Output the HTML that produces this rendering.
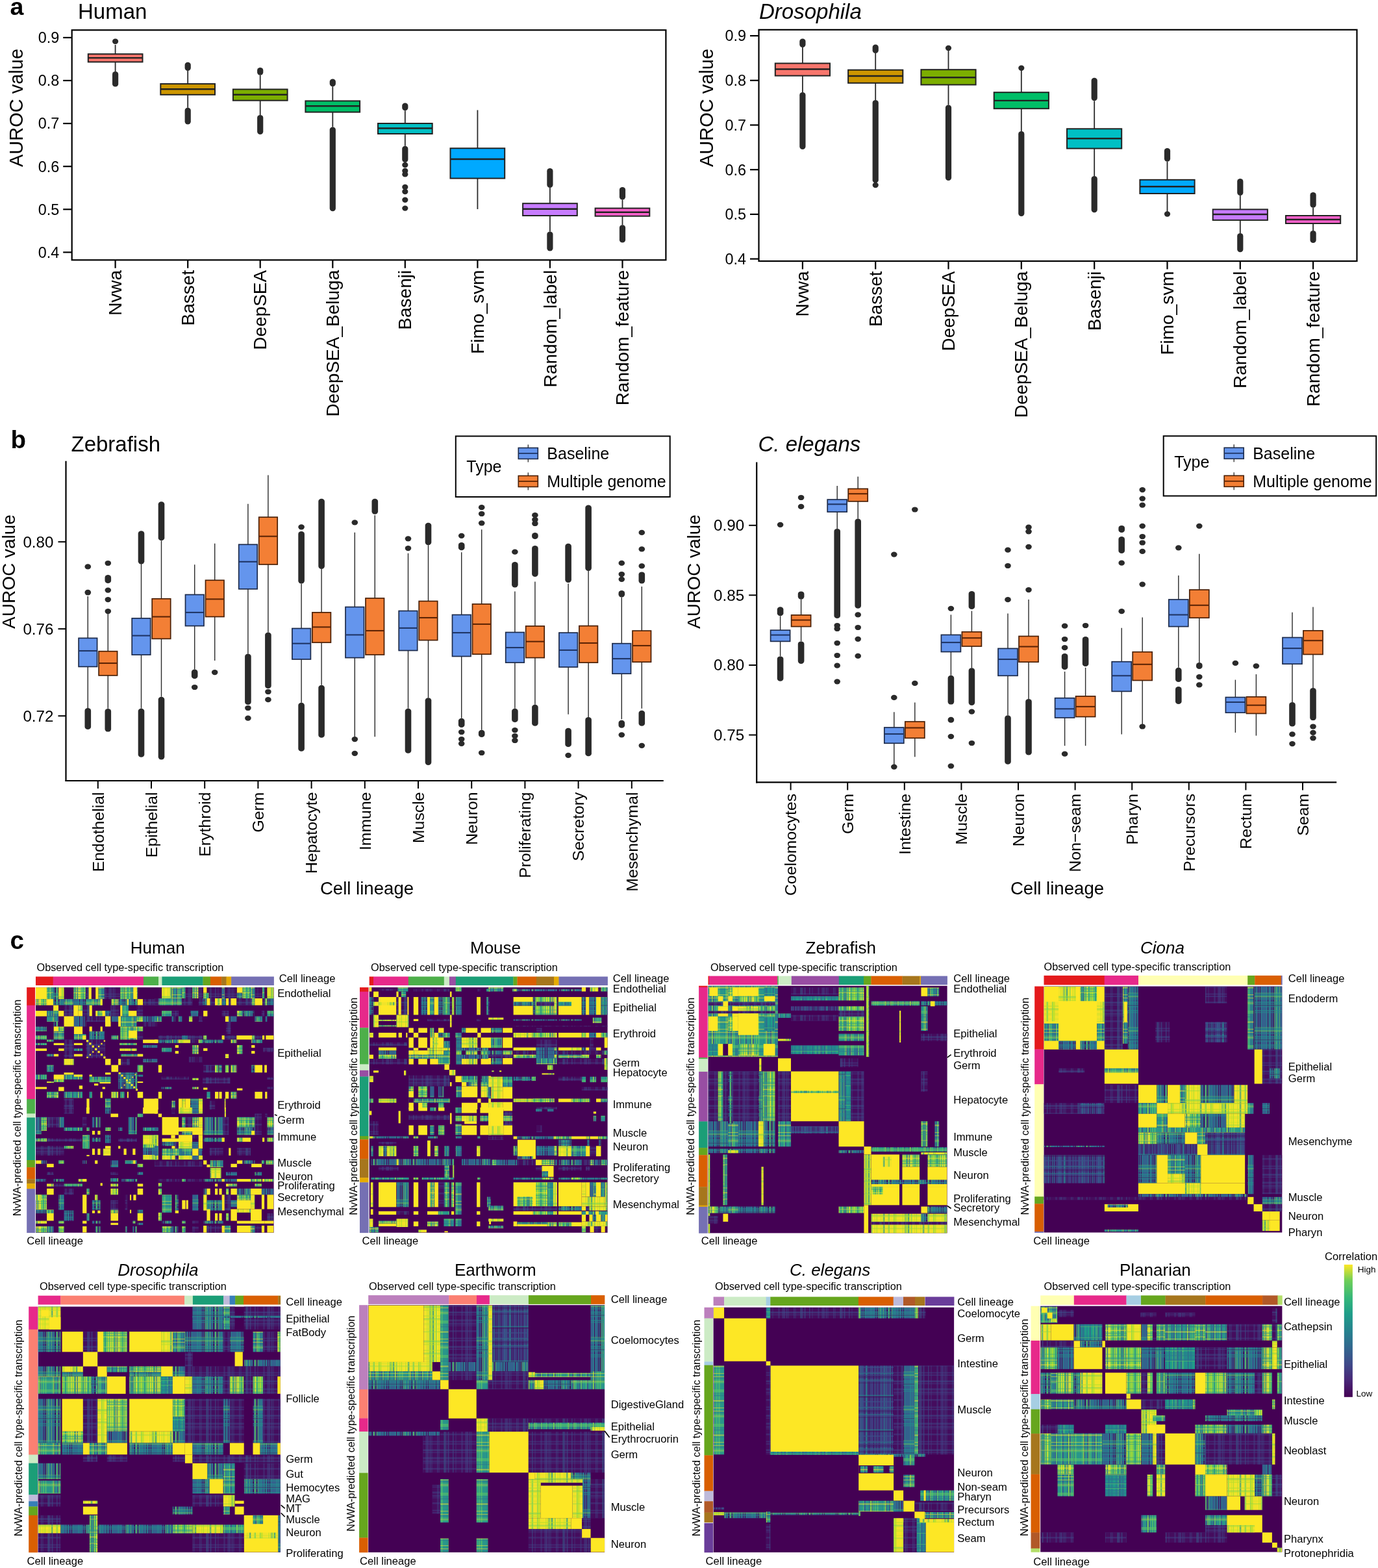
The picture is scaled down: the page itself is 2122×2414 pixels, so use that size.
<!DOCTYPE html>
<html><head><meta charset="utf-8"><title>Figure</title>
<style>html,body{margin:0;padding:0;background:#fff;} svg{display:block;} text{font-family:'Liberation Sans', Arial, sans-serif;}</style>
</head><body>
<svg width="2122" height="2414" viewBox="0 0 2122 2414" font-family="'Liberation Sans', Arial, sans-serif">
<rect x="0" y="0" width="2122" height="2414" fill="#fff"/>
<rect x="110.7" y="46.3" width="914.7" height="354.0" fill="none" stroke="#000" stroke-width="2.2"/>
<line x1="97.2" y1="388.4" x2="110.7" y2="388.4" stroke="#000" stroke-width="2.2"/>
<text x="91.2" y="396.7" font-size="23.4" text-anchor="end">0.4</text>
<line x1="97.2" y1="322.3" x2="110.7" y2="322.3" stroke="#000" stroke-width="2.2"/>
<text x="91.2" y="330.6" font-size="23.4" text-anchor="end">0.5</text>
<line x1="97.2" y1="256.2" x2="110.7" y2="256.2" stroke="#000" stroke-width="2.2"/>
<text x="91.2" y="264.5" font-size="23.4" text-anchor="end">0.6</text>
<line x1="97.2" y1="190.1" x2="110.7" y2="190.1" stroke="#000" stroke-width="2.2"/>
<text x="91.2" y="198.4" font-size="23.4" text-anchor="end">0.7</text>
<line x1="97.2" y1="124.0" x2="110.7" y2="124.0" stroke="#000" stroke-width="2.2"/>
<text x="91.2" y="132.3" font-size="23.4" text-anchor="end">0.8</text>
<line x1="97.2" y1="57.9" x2="110.7" y2="57.9" stroke="#000" stroke-width="2.2"/>
<text x="91.2" y="66.2" font-size="23.4" text-anchor="end">0.9</text>
<ellipse cx="177.6" cy="63.8" rx="4.6" ry="4.2" fill="#2a2a2a"/>
<rect x="173.0" y="110.0" width="9.2" height="23.6" rx="4.6" ry="4.2" fill="#2a2a2a"/>
<line x1="177.6" y1="69.0" x2="177.6" y2="83.2" stroke="#2a2a2a" stroke-width="1.8"/>
<line x1="177.6" y1="95.4" x2="177.6" y2="110.0" stroke="#2a2a2a" stroke-width="1.8"/>
<rect x="135.8" y="83.2" width="83.7" height="12.2" fill="#F8766D" stroke="#222" stroke-width="2.0"/>
<line x1="135.8" y1="89.1" x2="219.5" y2="89.1" stroke="#222" stroke-width="2.4"/>
<line x1="177.6" y1="400.3" x2="177.6" y2="412.8" stroke="#000" stroke-width="2.2"/>
<text x="187.2" y="415.8" font-size="28" text-anchor="end" transform="rotate(-90 187.22926829268292 415.8)">Nvwa</text>
<rect x="284.6" y="95.7" width="9.2" height="13.3" rx="4.6" ry="4.2" fill="#2a2a2a"/>
<rect x="284.6" y="165.8" width="9.2" height="25.6" rx="4.6" ry="4.2" fill="#2a2a2a"/>
<line x1="289.2" y1="109.0" x2="289.2" y2="129.1" stroke="#2a2a2a" stroke-width="1.8"/>
<line x1="289.2" y1="145.8" x2="289.2" y2="165.8" stroke="#2a2a2a" stroke-width="1.8"/>
<rect x="247.3" y="129.1" width="83.7" height="16.7" fill="#CD9600" stroke="#222" stroke-width="2.0"/>
<line x1="247.3" y1="137.3" x2="331.0" y2="137.3" stroke="#222" stroke-width="2.4"/>
<line x1="289.2" y1="400.3" x2="289.2" y2="412.8" stroke="#000" stroke-width="2.2"/>
<text x="298.8" y="415.8" font-size="28" text-anchor="end" transform="rotate(-90 298.77804878048784 415.8)">Basset</text>
<rect x="396.1" y="104.0" width="9.2" height="11.7" rx="4.6" ry="4.2" fill="#2a2a2a"/>
<rect x="396.1" y="177.0" width="9.2" height="30.0" rx="4.6" ry="4.2" fill="#2a2a2a"/>
<line x1="400.7" y1="115.7" x2="400.7" y2="137.5" stroke="#2a2a2a" stroke-width="1.8"/>
<line x1="400.7" y1="154.7" x2="400.7" y2="177.0" stroke="#2a2a2a" stroke-width="1.8"/>
<rect x="358.9" y="137.5" width="83.7" height="17.2" fill="#7CAE00" stroke="#222" stroke-width="2.0"/>
<line x1="358.9" y1="145.7" x2="442.6" y2="145.7" stroke="#222" stroke-width="2.4"/>
<line x1="400.7" y1="400.3" x2="400.7" y2="412.8" stroke="#000" stroke-width="2.2"/>
<text x="410.3" y="415.8" font-size="28" text-anchor="end" transform="rotate(-90 410.3268292682927 415.8)">DeepSEA</text>
<rect x="507.7" y="121.5" width="9.2" height="11.7" rx="4.6" ry="4.2" fill="#2a2a2a"/>
<rect x="507.7" y="195.6" width="9.2" height="129.7" rx="4.6" ry="4.2" fill="#2a2a2a"/>
<line x1="512.3" y1="133.2" x2="512.3" y2="155.4" stroke="#2a2a2a" stroke-width="1.8"/>
<line x1="512.3" y1="172.6" x2="512.3" y2="195.6" stroke="#2a2a2a" stroke-width="1.8"/>
<rect x="470.4" y="155.4" width="83.7" height="17.2" fill="#00BE67" stroke="#222" stroke-width="2.0"/>
<line x1="470.4" y1="163.2" x2="554.1" y2="163.2" stroke="#222" stroke-width="2.4"/>
<line x1="512.3" y1="400.3" x2="512.3" y2="412.8" stroke="#000" stroke-width="2.2"/>
<text x="521.9" y="415.8" font-size="28" text-anchor="end" transform="rotate(-90 521.8756097560977 415.8)">DeepSEA_Beluga</text>
<rect x="619.2" y="158.6" width="9.2" height="11.6" rx="4.6" ry="4.2" fill="#2a2a2a"/>
<rect x="619.2" y="224.8" width="9.2" height="25.2" rx="4.6" ry="4.2" fill="#2a2a2a"/>
<ellipse cx="623.8" cy="254.0" rx="4.6" ry="4.2" fill="#2a2a2a"/>
<ellipse cx="623.8" cy="263.0" rx="4.6" ry="4.2" fill="#2a2a2a"/>
<ellipse cx="623.8" cy="268.4" rx="4.6" ry="4.2" fill="#2a2a2a"/>
<ellipse cx="623.8" cy="288.0" rx="4.6" ry="4.2" fill="#2a2a2a"/>
<ellipse cx="623.8" cy="295.0" rx="4.6" ry="4.2" fill="#2a2a2a"/>
<ellipse cx="623.8" cy="307.8" rx="4.6" ry="4.2" fill="#2a2a2a"/>
<ellipse cx="623.8" cy="320.6" rx="4.6" ry="4.2" fill="#2a2a2a"/>
<line x1="623.8" y1="170.2" x2="623.8" y2="190.0" stroke="#2a2a2a" stroke-width="1.8"/>
<line x1="623.8" y1="206.0" x2="623.8" y2="224.8" stroke="#2a2a2a" stroke-width="1.8"/>
<rect x="582.0" y="190.0" width="83.7" height="16.0" fill="#00BFC4" stroke="#222" stroke-width="2.0"/>
<line x1="582.0" y1="197.5" x2="665.7" y2="197.5" stroke="#222" stroke-width="2.4"/>
<line x1="623.8" y1="400.3" x2="623.8" y2="412.8" stroke="#000" stroke-width="2.2"/>
<text x="633.4" y="415.8" font-size="28" text-anchor="end" transform="rotate(-90 633.4243902439025 415.8)">Basenji</text>
<line x1="735.4" y1="169.5" x2="735.4" y2="228.3" stroke="#2a2a2a" stroke-width="1.8"/>
<line x1="735.4" y1="274.6" x2="735.4" y2="322.0" stroke="#2a2a2a" stroke-width="1.8"/>
<rect x="693.5" y="228.3" width="83.7" height="46.3" fill="#00A9FF" stroke="#222" stroke-width="2.0"/>
<line x1="693.5" y1="245.0" x2="777.2" y2="245.0" stroke="#222" stroke-width="2.4"/>
<line x1="735.4" y1="400.3" x2="735.4" y2="412.8" stroke="#000" stroke-width="2.2"/>
<text x="745.0" y="415.8" font-size="28" text-anchor="end" transform="rotate(-90 744.9731707317075 415.8)">Fimo_svm</text>
<rect x="842.3" y="259.0" width="9.2" height="30.0" rx="4.6" ry="4.2" fill="#2a2a2a"/>
<rect x="842.3" y="356.5" width="9.2" height="29.9" rx="4.6" ry="4.2" fill="#2a2a2a"/>
<line x1="846.9" y1="289.0" x2="846.9" y2="313.2" stroke="#2a2a2a" stroke-width="1.8"/>
<line x1="846.9" y1="332.0" x2="846.9" y2="356.5" stroke="#2a2a2a" stroke-width="1.8"/>
<rect x="805.1" y="313.2" width="83.7" height="18.8" fill="#C77CFF" stroke="#222" stroke-width="2.0"/>
<line x1="805.1" y1="321.8" x2="888.8" y2="321.8" stroke="#222" stroke-width="2.4"/>
<line x1="846.9" y1="400.3" x2="846.9" y2="412.8" stroke="#000" stroke-width="2.2"/>
<text x="856.5" y="415.8" font-size="28" text-anchor="end" transform="rotate(-90 856.5219512195123 415.8)">Random_label</text>
<rect x="953.9" y="288.0" width="9.2" height="19.4" rx="4.6" ry="4.2" fill="#2a2a2a"/>
<rect x="953.9" y="346.3" width="9.2" height="27.3" rx="4.6" ry="4.2" fill="#2a2a2a"/>
<line x1="958.5" y1="307.4" x2="958.5" y2="320.6" stroke="#2a2a2a" stroke-width="1.8"/>
<line x1="958.5" y1="332.7" x2="958.5" y2="346.3" stroke="#2a2a2a" stroke-width="1.8"/>
<rect x="916.6" y="320.6" width="83.7" height="12.1" fill="#FF61CC" stroke="#222" stroke-width="2.0"/>
<line x1="916.6" y1="326.8" x2="1000.3" y2="326.8" stroke="#222" stroke-width="2.4"/>
<line x1="958.5" y1="400.3" x2="958.5" y2="412.8" stroke="#000" stroke-width="2.2"/>
<text x="968.1" y="415.8" font-size="28" text-anchor="end" transform="rotate(-90 968.0707317073172 415.8)">Random_feature</text>
<text x="120.0" y="28.9" font-size="33">Human</text>
<text x="34.5" y="166.0" font-size="29" text-anchor="middle" transform="rotate(-90 34.5 166)">AUROC value</text>
<rect x="1168.5" y="45.8" width="921.0" height="356.2" fill="none" stroke="#000" stroke-width="2.2"/>
<line x1="1155.0" y1="398.6" x2="1168.5" y2="398.6" stroke="#000" stroke-width="2.2"/>
<text x="1149.0" y="406.9" font-size="23.4" text-anchor="end">0.4</text>
<line x1="1155.0" y1="329.9" x2="1168.5" y2="329.9" stroke="#000" stroke-width="2.2"/>
<text x="1149.0" y="338.2" font-size="23.4" text-anchor="end">0.5</text>
<line x1="1155.0" y1="261.2" x2="1168.5" y2="261.2" stroke="#000" stroke-width="2.2"/>
<text x="1149.0" y="269.5" font-size="23.4" text-anchor="end">0.6</text>
<line x1="1155.0" y1="192.5" x2="1168.5" y2="192.5" stroke="#000" stroke-width="2.2"/>
<text x="1149.0" y="200.8" font-size="23.4" text-anchor="end">0.7</text>
<line x1="1155.0" y1="123.8" x2="1168.5" y2="123.8" stroke="#000" stroke-width="2.2"/>
<text x="1149.0" y="132.1" font-size="23.4" text-anchor="end">0.8</text>
<line x1="1155.0" y1="55.1" x2="1168.5" y2="55.1" stroke="#000" stroke-width="2.2"/>
<text x="1149.0" y="63.4" font-size="23.4" text-anchor="end">0.9</text>
<rect x="1231.3" y="59.5" width="9.2" height="13.5" rx="4.6" ry="4.2" fill="#2a2a2a"/>
<rect x="1231.3" y="142.0" width="9.2" height="88.0" rx="4.6" ry="4.2" fill="#2a2a2a"/>
<line x1="1235.9" y1="73.0" x2="1235.9" y2="97.5" stroke="#2a2a2a" stroke-width="1.8"/>
<line x1="1235.9" y1="116.6" x2="1235.9" y2="142.0" stroke="#2a2a2a" stroke-width="1.8"/>
<rect x="1193.8" y="97.5" width="84.2" height="19.1" fill="#F8766D" stroke="#222" stroke-width="2.0"/>
<line x1="1193.8" y1="106.5" x2="1278.0" y2="106.5" stroke="#222" stroke-width="2.4"/>
<line x1="1235.9" y1="402.0" x2="1235.9" y2="414.5" stroke="#000" stroke-width="2.2"/>
<text x="1245.5" y="417.5" font-size="28" text-anchor="end" transform="rotate(-90 1245.490243902439 417.5)">Nvwa</text>
<rect x="1343.6" y="68.6" width="9.2" height="13.4" rx="4.6" ry="4.2" fill="#2a2a2a"/>
<rect x="1343.6" y="154.0" width="9.2" height="127.6" rx="4.6" ry="4.2" fill="#2a2a2a"/>
<ellipse cx="1348.2" cy="285.0" rx="4.6" ry="4.2" fill="#2a2a2a"/>
<line x1="1348.2" y1="82.0" x2="1348.2" y2="107.7" stroke="#2a2a2a" stroke-width="1.8"/>
<line x1="1348.2" y1="127.8" x2="1348.2" y2="154.0" stroke="#2a2a2a" stroke-width="1.8"/>
<rect x="1306.1" y="107.7" width="84.2" height="20.1" fill="#CD9600" stroke="#222" stroke-width="2.0"/>
<line x1="1306.1" y1="117.0" x2="1390.3" y2="117.0" stroke="#222" stroke-width="2.4"/>
<line x1="1348.2" y1="402.0" x2="1348.2" y2="414.5" stroke="#000" stroke-width="2.2"/>
<text x="1357.8" y="417.5" font-size="28" text-anchor="end" transform="rotate(-90 1357.8073170731707 417.5)">Basset</text>
<ellipse cx="1460.5" cy="74.0" rx="4.6" ry="4.2" fill="#2a2a2a"/>
<rect x="1455.9" y="161.6" width="9.2" height="116.4" rx="4.6" ry="4.2" fill="#2a2a2a"/>
<line x1="1460.5" y1="74.0" x2="1460.5" y2="107.2" stroke="#2a2a2a" stroke-width="1.8"/>
<line x1="1460.5" y1="130.5" x2="1460.5" y2="161.6" stroke="#2a2a2a" stroke-width="1.8"/>
<rect x="1418.4" y="107.2" width="84.2" height="23.3" fill="#7CAE00" stroke="#222" stroke-width="2.0"/>
<line x1="1418.4" y1="119.2" x2="1502.6" y2="119.2" stroke="#222" stroke-width="2.4"/>
<line x1="1460.5" y1="402.0" x2="1460.5" y2="414.5" stroke="#000" stroke-width="2.2"/>
<text x="1470.1" y="417.5" font-size="28" text-anchor="end" transform="rotate(-90 1470.1243902439023 417.5)">DeepSEA</text>
<ellipse cx="1572.8" cy="104.8" rx="4.6" ry="4.2" fill="#2a2a2a"/>
<rect x="1568.2" y="202.0" width="9.2" height="131.0" rx="4.6" ry="4.2" fill="#2a2a2a"/>
<line x1="1572.8" y1="104.8" x2="1572.8" y2="142.2" stroke="#2a2a2a" stroke-width="1.8"/>
<line x1="1572.8" y1="167.2" x2="1572.8" y2="202.0" stroke="#2a2a2a" stroke-width="1.8"/>
<rect x="1530.7" y="142.2" width="84.2" height="25.0" fill="#00BE67" stroke="#222" stroke-width="2.0"/>
<line x1="1530.7" y1="154.9" x2="1615.0" y2="154.9" stroke="#222" stroke-width="2.4"/>
<line x1="1572.8" y1="402.0" x2="1572.8" y2="414.5" stroke="#000" stroke-width="2.2"/>
<text x="1582.4" y="417.5" font-size="28" text-anchor="end" transform="rotate(-90 1582.4414634146342 417.5)">DeepSEA_Beluga</text>
<rect x="1680.6" y="119.8" width="9.2" height="35.5" rx="4.6" ry="4.2" fill="#2a2a2a"/>
<rect x="1680.6" y="271.0" width="9.2" height="56.3" rx="4.6" ry="4.2" fill="#2a2a2a"/>
<line x1="1685.2" y1="155.3" x2="1685.2" y2="198.3" stroke="#2a2a2a" stroke-width="1.8"/>
<line x1="1685.2" y1="228.6" x2="1685.2" y2="271.2" stroke="#2a2a2a" stroke-width="1.8"/>
<rect x="1643.0" y="198.3" width="84.2" height="30.3" fill="#00BFC4" stroke="#222" stroke-width="2.0"/>
<line x1="1643.0" y1="213.2" x2="1727.3" y2="213.2" stroke="#222" stroke-width="2.4"/>
<line x1="1685.2" y1="402.0" x2="1685.2" y2="414.5" stroke="#000" stroke-width="2.2"/>
<text x="1694.8" y="417.5" font-size="28" text-anchor="end" transform="rotate(-90 1694.7585365853656 417.5)">Basenji</text>
<rect x="1792.9" y="228.0" width="9.2" height="20.8" rx="4.6" ry="4.2" fill="#2a2a2a"/>
<ellipse cx="1797.5" cy="329.5" rx="4.6" ry="4.2" fill="#2a2a2a"/>
<line x1="1797.5" y1="248.8" x2="1797.5" y2="276.8" stroke="#2a2a2a" stroke-width="1.8"/>
<line x1="1797.5" y1="298.0" x2="1797.5" y2="329.0" stroke="#2a2a2a" stroke-width="1.8"/>
<rect x="1755.4" y="276.8" width="84.2" height="21.2" fill="#00A9FF" stroke="#222" stroke-width="2.0"/>
<line x1="1755.4" y1="287.3" x2="1839.6" y2="287.3" stroke="#222" stroke-width="2.4"/>
<line x1="1797.5" y1="402.0" x2="1797.5" y2="414.5" stroke="#000" stroke-width="2.2"/>
<text x="1807.1" y="417.5" font-size="28" text-anchor="end" transform="rotate(-90 1807.0756097560975 417.5)">Fimo_svm</text>
<rect x="1905.2" y="275.0" width="9.2" height="26.0" rx="4.6" ry="4.2" fill="#2a2a2a"/>
<rect x="1905.2" y="359.0" width="9.2" height="29.3" rx="4.6" ry="4.2" fill="#2a2a2a"/>
<line x1="1909.8" y1="301.0" x2="1909.8" y2="322.4" stroke="#2a2a2a" stroke-width="1.8"/>
<line x1="1909.8" y1="338.9" x2="1909.8" y2="359.0" stroke="#2a2a2a" stroke-width="1.8"/>
<rect x="1867.7" y="322.4" width="84.2" height="16.5" fill="#C77CFF" stroke="#222" stroke-width="2.0"/>
<line x1="1867.7" y1="330.0" x2="1951.9" y2="330.0" stroke="#222" stroke-width="2.4"/>
<line x1="1909.8" y1="402.0" x2="1909.8" y2="414.5" stroke="#000" stroke-width="2.2"/>
<text x="1919.4" y="417.5" font-size="28" text-anchor="end" transform="rotate(-90 1919.3926829268294 417.5)">Random_label</text>
<rect x="2017.5" y="296.0" width="9.2" height="23.8" rx="4.6" ry="4.2" fill="#2a2a2a"/>
<rect x="2017.5" y="355.0" width="9.2" height="19.0" rx="4.6" ry="4.2" fill="#2a2a2a"/>
<line x1="2022.1" y1="319.8" x2="2022.1" y2="332.0" stroke="#2a2a2a" stroke-width="1.8"/>
<line x1="2022.1" y1="344.0" x2="2022.1" y2="355.0" stroke="#2a2a2a" stroke-width="1.8"/>
<rect x="1980.0" y="332.0" width="84.2" height="12.0" fill="#FF61CC" stroke="#222" stroke-width="2.0"/>
<line x1="1980.0" y1="338.0" x2="2064.2" y2="338.0" stroke="#222" stroke-width="2.4"/>
<line x1="2022.1" y1="402.0" x2="2022.1" y2="414.5" stroke="#000" stroke-width="2.2"/>
<text x="2031.7" y="417.5" font-size="28" text-anchor="end" transform="rotate(-90 2031.7097560975608 417.5)">Random_feature</text>
<text x="1169.0" y="28.9" font-size="33" font-style="italic">Drosophila</text>
<text x="1098.0" y="166.0" font-size="29" text-anchor="middle" transform="rotate(-90 1098 166)">AUROC value</text>
<text x="15.5" y="23.4" font-size="37.5" font-weight="bold">a</text>
<text x="16.5" y="689.6" font-size="38.5" font-weight="bold">b</text>
<text x="15.5" y="1460.6" font-size="38.5" font-weight="bold">c</text>
<line x1="101.5" y1="709.8" x2="101.5" y2="1203.0" stroke="#000" stroke-width="2.2"/>
<line x1="100.5" y1="1202.0" x2="1021.8" y2="1202.0" stroke="#000" stroke-width="2.2"/>
<line x1="89.5" y1="834.2" x2="101.5" y2="834.2" stroke="#000" stroke-width="2"/>
<text x="82.5" y="842.6" font-size="24.2" text-anchor="end">0.80</text>
<line x1="89.5" y1="968.2" x2="101.5" y2="968.2" stroke="#000" stroke-width="2"/>
<text x="82.5" y="976.6" font-size="24.2" text-anchor="end">0.76</text>
<line x1="89.5" y1="1102.2" x2="101.5" y2="1102.2" stroke="#000" stroke-width="2"/>
<text x="82.5" y="1110.6" font-size="24.2" text-anchor="end">0.72</text>
<ellipse cx="135.3" cy="872.4" rx="4.8" ry="4.1" fill="#2a2a2a"/>
<rect x="130.5" y="907.8" width="9.6" height="8.6" rx="4.8" ry="4.1" fill="#2a2a2a"/>
<rect x="130.5" y="1090.0" width="9.6" height="33.0" rx="4.8" ry="4.1" fill="#2a2a2a"/>
<line x1="135.3" y1="918.0" x2="135.3" y2="982.4" stroke="#2a2a2a" stroke-width="1.4"/>
<line x1="135.3" y1="1026.4" x2="135.3" y2="1090.7" stroke="#2a2a2a" stroke-width="1.4"/>
<rect x="121.1" y="982.4" width="28.5" height="44.0" fill="#6495ED" stroke="#1c2a4a" stroke-width="1.7"/>
<line x1="121.1" y1="1002.0" x2="149.6" y2="1002.0" stroke="#1f3566" stroke-width="2.1"/>
<ellipse cx="166.3" cy="867.0" rx="4.8" ry="4.1" fill="#2a2a2a"/>
<rect x="161.5" y="885.0" width="9.6" height="13.0" rx="4.8" ry="4.1" fill="#2a2a2a"/>
<ellipse cx="166.3" cy="908.6" rx="4.8" ry="4.1" fill="#2a2a2a"/>
<rect x="161.5" y="919.0" width="9.6" height="8.2" rx="4.8" ry="4.1" fill="#2a2a2a"/>
<rect x="161.5" y="937.0" width="9.6" height="8.2" rx="4.8" ry="4.1" fill="#2a2a2a"/>
<rect x="161.5" y="1091.0" width="9.6" height="35.6" rx="4.8" ry="4.1" fill="#2a2a2a"/>
<line x1="166.3" y1="943.5" x2="166.3" y2="1002.7" stroke="#2a2a2a" stroke-width="1.4"/>
<line x1="166.3" y1="1039.9" x2="166.3" y2="1090.7" stroke="#2a2a2a" stroke-width="1.4"/>
<rect x="152.1" y="1002.7" width="28.5" height="37.2" fill="#F37F35" stroke="#4a1f05" stroke-width="1.7"/>
<line x1="152.1" y1="1021.0" x2="180.6" y2="1021.0" stroke="#5e2404" stroke-width="2.1"/>
<line x1="150.8" y1="1202.0" x2="150.8" y2="1214.0" stroke="#000" stroke-width="2"/>
<text x="159.6" y="1219.5" font-size="24.8" text-anchor="end" transform="rotate(-90 159.60000000000002 1219.5)">Endothelial</text>
<rect x="212.7" y="817.3" width="9.6" height="51.1" rx="4.8" ry="4.1" fill="#2a2a2a"/>
<rect x="212.7" y="1090.7" width="9.6" height="75.1" rx="4.8" ry="4.1" fill="#2a2a2a"/>
<line x1="217.5" y1="862.4" x2="217.5" y2="951.9" stroke="#2a2a2a" stroke-width="1.4"/>
<line x1="217.5" y1="1008.1" x2="217.5" y2="1090.7" stroke="#2a2a2a" stroke-width="1.4"/>
<rect x="203.2" y="951.9" width="28.5" height="56.2" fill="#6495ED" stroke="#1c2a4a" stroke-width="1.7"/>
<line x1="203.2" y1="978.6" x2="231.8" y2="978.6" stroke="#1f3566" stroke-width="2.1"/>
<rect x="243.7" y="772.2" width="9.6" height="60.1" rx="4.8" ry="4.1" fill="#2a2a2a"/>
<rect x="243.7" y="1072.7" width="9.6" height="96.7" rx="4.8" ry="4.1" fill="#2a2a2a"/>
<line x1="248.5" y1="832.3" x2="248.5" y2="921.8" stroke="#2a2a2a" stroke-width="1.4"/>
<line x1="248.5" y1="983.4" x2="248.5" y2="1072.7" stroke="#2a2a2a" stroke-width="1.4"/>
<rect x="234.2" y="921.8" width="28.5" height="61.6" fill="#F37F35" stroke="#4a1f05" stroke-width="1.7"/>
<line x1="234.2" y1="949.5" x2="262.8" y2="949.5" stroke="#5e2404" stroke-width="2.1"/>
<line x1="233.0" y1="1202.0" x2="233.0" y2="1214.0" stroke="#000" stroke-width="2"/>
<text x="241.8" y="1219.5" font-size="24.8" text-anchor="end" transform="rotate(-90 241.8 1219.5)">Epithelial</text>
<rect x="294.9" y="1030.6" width="9.6" height="14.4" rx="4.8" ry="4.1" fill="#2a2a2a"/>
<ellipse cx="299.7" cy="1058.0" rx="4.8" ry="4.1" fill="#2a2a2a"/>
<line x1="299.7" y1="869.3" x2="299.7" y2="915.5" stroke="#2a2a2a" stroke-width="1.4"/>
<line x1="299.7" y1="963.6" x2="299.7" y2="1030.6" stroke="#2a2a2a" stroke-width="1.4"/>
<rect x="285.5" y="915.5" width="28.5" height="48.1" fill="#6495ED" stroke="#1c2a4a" stroke-width="1.7"/>
<line x1="285.5" y1="942.9" x2="314.0" y2="942.9" stroke="#1f3566" stroke-width="2.1"/>
<ellipse cx="330.7" cy="1035.1" rx="4.8" ry="4.1" fill="#2a2a2a"/>
<line x1="330.7" y1="836.8" x2="330.7" y2="893.3" stroke="#2a2a2a" stroke-width="1.4"/>
<line x1="330.7" y1="949.5" x2="330.7" y2="1017.1" stroke="#2a2a2a" stroke-width="1.4"/>
<rect x="316.5" y="893.3" width="28.5" height="56.2" fill="#F37F35" stroke="#4a1f05" stroke-width="1.7"/>
<line x1="316.5" y1="922.4" x2="345.0" y2="922.4" stroke="#5e2404" stroke-width="2.1"/>
<line x1="315.2" y1="1202.0" x2="315.2" y2="1214.0" stroke="#000" stroke-width="2"/>
<text x="324.0" y="1219.5" font-size="24.8" text-anchor="end" transform="rotate(-90 324.00000000000006 1219.5)">Erythroid</text>
<rect x="377.1" y="1006.6" width="9.6" height="78.4" rx="4.8" ry="4.1" fill="#2a2a2a"/>
<ellipse cx="381.9" cy="1090.0" rx="4.8" ry="4.1" fill="#2a2a2a"/>
<ellipse cx="381.9" cy="1105.7" rx="4.8" ry="4.1" fill="#2a2a2a"/>
<line x1="381.9" y1="775.8" x2="381.9" y2="838.3" stroke="#2a2a2a" stroke-width="1.4"/>
<line x1="381.9" y1="906.8" x2="381.9" y2="1006.6" stroke="#2a2a2a" stroke-width="1.4"/>
<rect x="367.7" y="838.3" width="28.5" height="68.5" fill="#6495ED" stroke="#1c2a4a" stroke-width="1.7"/>
<line x1="367.7" y1="864.8" x2="396.2" y2="864.8" stroke="#1f3566" stroke-width="2.1"/>
<rect x="408.1" y="973.5" width="9.6" height="86.5" rx="4.8" ry="4.1" fill="#2a2a2a"/>
<ellipse cx="412.9" cy="1065.0" rx="4.8" ry="4.1" fill="#2a2a2a"/>
<ellipse cx="412.9" cy="1077.2" rx="4.8" ry="4.1" fill="#2a2a2a"/>
<line x1="412.9" y1="731.6" x2="412.9" y2="796.2" stroke="#2a2a2a" stroke-width="1.4"/>
<line x1="412.9" y1="869.0" x2="412.9" y2="973.5" stroke="#2a2a2a" stroke-width="1.4"/>
<rect x="398.7" y="796.2" width="28.5" height="72.8" fill="#F37F35" stroke="#4a1f05" stroke-width="1.7"/>
<line x1="398.7" y1="825.7" x2="427.2" y2="825.7" stroke="#5e2404" stroke-width="2.1"/>
<line x1="397.4" y1="1202.0" x2="397.4" y2="1214.0" stroke="#000" stroke-width="2"/>
<text x="406.2" y="1219.5" font-size="24.8" text-anchor="end" transform="rotate(-90 406.20000000000005 1219.5)">Germ</text>
<ellipse cx="464.1" cy="811.3" rx="4.8" ry="4.1" fill="#2a2a2a"/>
<rect x="459.3" y="818.0" width="9.6" height="80.4" rx="4.8" ry="4.1" fill="#2a2a2a"/>
<rect x="459.3" y="1081.7" width="9.6" height="75.1" rx="4.8" ry="4.1" fill="#2a2a2a"/>
<line x1="464.1" y1="898.4" x2="464.1" y2="967.5" stroke="#2a2a2a" stroke-width="1.4"/>
<line x1="464.1" y1="1015.0" x2="464.1" y2="1081.7" stroke="#2a2a2a" stroke-width="1.4"/>
<rect x="449.9" y="967.5" width="28.5" height="47.5" fill="#6495ED" stroke="#1c2a4a" stroke-width="1.7"/>
<line x1="449.9" y1="990.7" x2="478.4" y2="990.7" stroke="#1f3566" stroke-width="2.1"/>
<rect x="490.3" y="767.7" width="9.6" height="108.2" rx="4.8" ry="4.1" fill="#2a2a2a"/>
<rect x="490.3" y="1054.7" width="9.6" height="81.1" rx="4.8" ry="4.1" fill="#2a2a2a"/>
<line x1="495.1" y1="875.9" x2="495.1" y2="942.9" stroke="#2a2a2a" stroke-width="1.4"/>
<line x1="495.1" y1="989.2" x2="495.1" y2="1054.7" stroke="#2a2a2a" stroke-width="1.4"/>
<rect x="480.9" y="942.9" width="28.5" height="46.3" fill="#F37F35" stroke="#4a1f05" stroke-width="1.7"/>
<line x1="480.9" y1="965.4" x2="509.4" y2="965.4" stroke="#5e2404" stroke-width="2.1"/>
<line x1="479.6" y1="1202.0" x2="479.6" y2="1214.0" stroke="#000" stroke-width="2"/>
<text x="488.4" y="1219.5" font-size="24.8" text-anchor="end" transform="rotate(-90 488.40000000000003 1219.5)">Hepatocyte</text>
<ellipse cx="546.3" cy="804.4" rx="4.8" ry="4.1" fill="#2a2a2a"/>
<rect x="541.5" y="1134.0" width="9.6" height="8.2" rx="4.8" ry="4.1" fill="#2a2a2a"/>
<ellipse cx="546.3" cy="1159.8" rx="4.8" ry="4.1" fill="#2a2a2a"/>
<line x1="546.3" y1="819.7" x2="546.3" y2="934.5" stroke="#2a2a2a" stroke-width="1.4"/>
<line x1="546.3" y1="1012.6" x2="546.3" y2="1134.3" stroke="#2a2a2a" stroke-width="1.4"/>
<rect x="532.0" y="934.5" width="28.5" height="78.1" fill="#6495ED" stroke="#1c2a4a" stroke-width="1.7"/>
<line x1="532.0" y1="977.4" x2="560.5" y2="977.4" stroke="#1f3566" stroke-width="2.1"/>
<rect x="572.5" y="767.7" width="9.6" height="24.0" rx="4.8" ry="4.1" fill="#2a2a2a"/>
<line x1="577.3" y1="793.2" x2="577.3" y2="921.0" stroke="#2a2a2a" stroke-width="1.4"/>
<line x1="577.3" y1="1008.0" x2="577.3" y2="1134.3" stroke="#2a2a2a" stroke-width="1.4"/>
<rect x="563.0" y="921.0" width="28.5" height="87.0" fill="#F37F35" stroke="#4a1f05" stroke-width="1.7"/>
<line x1="563.0" y1="971.0" x2="591.5" y2="971.0" stroke="#5e2404" stroke-width="2.1"/>
<line x1="561.8" y1="1202.0" x2="561.8" y2="1214.0" stroke="#000" stroke-width="2"/>
<text x="570.6" y="1219.5" font-size="24.8" text-anchor="end" transform="rotate(-90 570.5999999999999 1219.5)">Immune</text>
<ellipse cx="628.5" cy="829.3" rx="4.8" ry="4.1" fill="#2a2a2a"/>
<rect x="623.7" y="840.0" width="9.6" height="8.2" rx="4.8" ry="4.1" fill="#2a2a2a"/>
<rect x="623.7" y="1090.7" width="9.6" height="69.1" rx="4.8" ry="4.1" fill="#2a2a2a"/>
<line x1="628.5" y1="851.8" x2="628.5" y2="940.5" stroke="#2a2a2a" stroke-width="1.4"/>
<line x1="628.5" y1="1001.5" x2="628.5" y2="1090.7" stroke="#2a2a2a" stroke-width="1.4"/>
<rect x="614.2" y="940.5" width="28.5" height="61.0" fill="#6495ED" stroke="#1c2a4a" stroke-width="1.7"/>
<line x1="614.2" y1="966.9" x2="642.8" y2="966.9" stroke="#1f3566" stroke-width="2.1"/>
<rect x="654.7" y="804.7" width="9.6" height="34.5" rx="4.8" ry="4.1" fill="#2a2a2a"/>
<rect x="654.7" y="1074.2" width="9.6" height="103.7" rx="4.8" ry="4.1" fill="#2a2a2a"/>
<line x1="659.5" y1="839.2" x2="659.5" y2="925.5" stroke="#2a2a2a" stroke-width="1.4"/>
<line x1="659.5" y1="985.6" x2="659.5" y2="1074.2" stroke="#2a2a2a" stroke-width="1.4"/>
<rect x="645.2" y="925.5" width="28.5" height="60.1" fill="#F37F35" stroke="#4a1f05" stroke-width="1.7"/>
<line x1="645.2" y1="951.0" x2="673.8" y2="951.0" stroke="#5e2404" stroke-width="2.1"/>
<line x1="644.0" y1="1202.0" x2="644.0" y2="1214.0" stroke="#000" stroke-width="2"/>
<text x="652.8" y="1219.5" font-size="24.8" text-anchor="end" transform="rotate(-90 652.8 1219.5)">Muscle</text>
<ellipse cx="710.7" cy="824.8" rx="4.8" ry="4.1" fill="#2a2a2a"/>
<rect x="705.9" y="835.0" width="9.6" height="12.3" rx="4.8" ry="4.1" fill="#2a2a2a"/>
<rect x="705.9" y="1105.7" width="9.6" height="14.3" rx="4.8" ry="4.1" fill="#2a2a2a"/>
<ellipse cx="710.7" cy="1127.0" rx="4.8" ry="4.1" fill="#2a2a2a"/>
<ellipse cx="710.7" cy="1138.0" rx="4.8" ry="4.1" fill="#2a2a2a"/>
<ellipse cx="710.7" cy="1144.8" rx="4.8" ry="4.1" fill="#2a2a2a"/>
<line x1="710.7" y1="850.3" x2="710.7" y2="946.5" stroke="#2a2a2a" stroke-width="1.4"/>
<line x1="710.7" y1="1010.5" x2="710.7" y2="1105.7" stroke="#2a2a2a" stroke-width="1.4"/>
<rect x="696.5" y="946.5" width="28.5" height="64.0" fill="#6495ED" stroke="#1c2a4a" stroke-width="1.7"/>
<line x1="696.5" y1="974.1" x2="725.0" y2="974.1" stroke="#1f3566" stroke-width="2.1"/>
<ellipse cx="741.7" cy="781.2" rx="4.8" ry="4.1" fill="#2a2a2a"/>
<ellipse cx="741.7" cy="791.0" rx="4.8" ry="4.1" fill="#2a2a2a"/>
<ellipse cx="741.7" cy="805.3" rx="4.8" ry="4.1" fill="#2a2a2a"/>
<rect x="736.9" y="1123.8" width="9.6" height="11.2" rx="4.8" ry="4.1" fill="#2a2a2a"/>
<ellipse cx="741.7" cy="1159.0" rx="4.8" ry="4.1" fill="#2a2a2a"/>
<line x1="741.7" y1="815.2" x2="741.7" y2="930.0" stroke="#2a2a2a" stroke-width="1.4"/>
<line x1="741.7" y1="1007.2" x2="741.7" y2="1123.8" stroke="#2a2a2a" stroke-width="1.4"/>
<rect x="727.5" y="930.0" width="28.5" height="77.2" fill="#F37F35" stroke="#4a1f05" stroke-width="1.7"/>
<line x1="727.5" y1="960.9" x2="756.0" y2="960.9" stroke="#5e2404" stroke-width="2.1"/>
<line x1="726.2" y1="1202.0" x2="726.2" y2="1214.0" stroke="#000" stroke-width="2"/>
<text x="735.0" y="1219.5" font-size="24.8" text-anchor="end" transform="rotate(-90 735.0 1219.5)">Neuron</text>
<ellipse cx="792.9" cy="849.7" rx="4.8" ry="4.1" fill="#2a2a2a"/>
<rect x="788.1" y="865.0" width="9.6" height="39.4" rx="4.8" ry="4.1" fill="#2a2a2a"/>
<rect x="788.1" y="1090.7" width="9.6" height="21.3" rx="4.8" ry="4.1" fill="#2a2a2a"/>
<rect x="788.1" y="1120.0" width="9.6" height="8.2" rx="4.8" ry="4.1" fill="#2a2a2a"/>
<ellipse cx="792.9" cy="1133.0" rx="4.8" ry="4.1" fill="#2a2a2a"/>
<ellipse cx="792.9" cy="1140.0" rx="4.8" ry="4.1" fill="#2a2a2a"/>
<line x1="792.9" y1="910.4" x2="792.9" y2="973.5" stroke="#2a2a2a" stroke-width="1.4"/>
<line x1="792.9" y1="1020.1" x2="792.9" y2="1090.7" stroke="#2a2a2a" stroke-width="1.4"/>
<rect x="778.7" y="973.5" width="28.5" height="46.6" fill="#6495ED" stroke="#1c2a4a" stroke-width="1.7"/>
<line x1="778.7" y1="997.0" x2="807.2" y2="997.0" stroke="#1f3566" stroke-width="2.1"/>
<ellipse cx="823.9" cy="793.2" rx="4.8" ry="4.1" fill="#2a2a2a"/>
<ellipse cx="823.9" cy="800.0" rx="4.8" ry="4.1" fill="#2a2a2a"/>
<ellipse cx="823.9" cy="806.0" rx="4.8" ry="4.1" fill="#2a2a2a"/>
<rect x="819.1" y="820.0" width="9.6" height="10.0" rx="4.8" ry="4.1" fill="#2a2a2a"/>
<rect x="819.1" y="840.0" width="9.6" height="47.9" rx="4.8" ry="4.1" fill="#2a2a2a"/>
<rect x="819.1" y="1084.7" width="9.6" height="33.1" rx="4.8" ry="4.1" fill="#2a2a2a"/>
<line x1="823.9" y1="895.4" x2="823.9" y2="963.9" stroke="#2a2a2a" stroke-width="1.4"/>
<line x1="823.9" y1="1012.6" x2="823.9" y2="1084.7" stroke="#2a2a2a" stroke-width="1.4"/>
<rect x="809.7" y="963.9" width="28.5" height="48.7" fill="#F37F35" stroke="#4a1f05" stroke-width="1.7"/>
<line x1="809.7" y1="987.7" x2="838.2" y2="987.7" stroke="#5e2404" stroke-width="2.1"/>
<line x1="808.4" y1="1202.0" x2="808.4" y2="1214.0" stroke="#000" stroke-width="2"/>
<text x="817.2" y="1219.5" font-size="24.8" text-anchor="end" transform="rotate(-90 817.2 1219.5)">Proliferating</text>
<rect x="870.3" y="836.8" width="9.6" height="60.1" rx="4.8" ry="4.1" fill="#2a2a2a"/>
<rect x="870.3" y="1120.8" width="9.6" height="29.2" rx="4.8" ry="4.1" fill="#2a2a2a"/>
<ellipse cx="875.1" cy="1162.8" rx="4.8" ry="4.1" fill="#2a2a2a"/>
<line x1="875.1" y1="898.4" x2="875.1" y2="974.1" stroke="#2a2a2a" stroke-width="1.4"/>
<line x1="875.1" y1="1027.0" x2="875.1" y2="1099.7" stroke="#2a2a2a" stroke-width="1.4"/>
<rect x="860.9" y="974.1" width="28.5" height="52.9" fill="#6495ED" stroke="#1c2a4a" stroke-width="1.7"/>
<line x1="860.9" y1="1000.9" x2="889.4" y2="1000.9" stroke="#1f3566" stroke-width="2.1"/>
<rect x="901.3" y="777.6" width="9.6" height="101.3" rx="4.8" ry="4.1" fill="#2a2a2a"/>
<rect x="901.3" y="1104.0" width="9.6" height="60.3" rx="4.8" ry="4.1" fill="#2a2a2a"/>
<line x1="906.1" y1="878.9" x2="906.1" y2="963.6" stroke="#2a2a2a" stroke-width="1.4"/>
<line x1="906.1" y1="1020.1" x2="906.1" y2="1104.2" stroke="#2a2a2a" stroke-width="1.4"/>
<rect x="891.9" y="963.6" width="28.5" height="56.5" fill="#F37F35" stroke="#4a1f05" stroke-width="1.7"/>
<line x1="891.9" y1="990.0" x2="920.4" y2="990.0" stroke="#5e2404" stroke-width="2.1"/>
<line x1="890.6" y1="1202.0" x2="890.6" y2="1214.0" stroke="#000" stroke-width="2"/>
<text x="899.4" y="1219.5" font-size="24.8" text-anchor="end" transform="rotate(-90 899.4000000000001 1219.5)">Secretory</text>
<ellipse cx="957.3" cy="866.9" rx="4.8" ry="4.1" fill="#2a2a2a"/>
<ellipse cx="957.3" cy="884.0" rx="4.8" ry="4.1" fill="#2a2a2a"/>
<ellipse cx="957.3" cy="891.8" rx="4.8" ry="4.1" fill="#2a2a2a"/>
<rect x="952.5" y="909.0" width="9.6" height="10.4" rx="4.8" ry="4.1" fill="#2a2a2a"/>
<rect x="952.5" y="1108.8" width="9.6" height="12.0" rx="4.8" ry="4.1" fill="#2a2a2a"/>
<ellipse cx="957.3" cy="1131.3" rx="4.8" ry="4.1" fill="#2a2a2a"/>
<line x1="957.3" y1="919.4" x2="957.3" y2="990.7" stroke="#2a2a2a" stroke-width="1.4"/>
<line x1="957.3" y1="1037.2" x2="957.3" y2="1107.3" stroke="#2a2a2a" stroke-width="1.4"/>
<rect x="943.0" y="990.7" width="28.5" height="46.5" fill="#6495ED" stroke="#1c2a4a" stroke-width="1.7"/>
<line x1="943.0" y1="1014.1" x2="971.5" y2="1014.1" stroke="#1f3566" stroke-width="2.1"/>
<rect x="983.5" y="815.8" width="9.6" height="8.2" rx="4.8" ry="4.1" fill="#2a2a2a"/>
<rect x="983.5" y="841.3" width="9.6" height="8.2" rx="4.8" ry="4.1" fill="#2a2a2a"/>
<ellipse cx="988.3" cy="871.4" rx="4.8" ry="4.1" fill="#2a2a2a"/>
<rect x="983.5" y="880.4" width="9.6" height="18.0" rx="4.8" ry="4.1" fill="#2a2a2a"/>
<rect x="983.5" y="1093.7" width="9.6" height="24.1" rx="4.8" ry="4.1" fill="#2a2a2a"/>
<ellipse cx="988.3" cy="1147.8" rx="4.8" ry="4.1" fill="#2a2a2a"/>
<line x1="988.3" y1="903.0" x2="988.3" y2="971.1" stroke="#2a2a2a" stroke-width="1.4"/>
<line x1="988.3" y1="1019.2" x2="988.3" y2="1090.7" stroke="#2a2a2a" stroke-width="1.4"/>
<rect x="974.0" y="971.1" width="28.5" height="48.1" fill="#F37F35" stroke="#4a1f05" stroke-width="1.7"/>
<line x1="974.0" y1="994.0" x2="1002.5" y2="994.0" stroke="#5e2404" stroke-width="2.1"/>
<line x1="972.8" y1="1202.0" x2="972.8" y2="1214.0" stroke="#000" stroke-width="2"/>
<text x="981.6" y="1219.5" font-size="24.8" text-anchor="end" transform="rotate(-90 981.5999999999999 1219.5)">Mesenchymal</text>
<text x="109.5" y="695.0" font-size="33">Zebrafish</text>
<text x="23.4" y="880.0" font-size="28" text-anchor="middle" transform="rotate(-90 23.4 880)">AUROC value</text>
<text x="565.0" y="1376.5" font-size="27.6" text-anchor="middle">Cell lineage</text>
<rect x="701.8" y="671.5" width="329.9" height="93.5" fill="#fff" stroke="#000" stroke-width="2"/>
<text x="718.3" y="726.5" font-size="25">Type</text>
<line x1="813.3" y1="684.5" x2="813.3" y2="711.5" stroke="#2a2a2a" stroke-width="1.3"/>
<rect x="798.3" y="689.5" width="30.0" height="17.0" fill="#6495ED" stroke="#1c2a4a" stroke-width="1.6"/>
<line x1="798.3" y1="698.0" x2="828.3" y2="698.0" stroke="#1f3566" stroke-width="1.8"/>
<text x="842.3" y="707.0" font-size="25">Baseline</text>
<line x1="813.3" y1="727.5" x2="813.3" y2="754.5" stroke="#2a2a2a" stroke-width="1.3"/>
<rect x="798.3" y="732.5" width="30.0" height="17.0" fill="#F37F35" stroke="#4a1f05" stroke-width="1.6"/>
<line x1="798.3" y1="741.0" x2="828.3" y2="741.0" stroke="#5e2404" stroke-width="1.8"/>
<text x="842.3" y="750.0" font-size="25">Multiple genome</text>
<line x1="1165.2" y1="711.5" x2="1165.2" y2="1205.4" stroke="#000" stroke-width="2.2"/>
<line x1="1164.2" y1="1204.4" x2="2058.2" y2="1204.4" stroke="#000" stroke-width="2.2"/>
<line x1="1153.2" y1="808.8" x2="1165.2" y2="808.8" stroke="#000" stroke-width="2"/>
<text x="1146.2" y="817.2" font-size="24.2" text-anchor="end">0.90</text>
<line x1="1153.2" y1="916.3" x2="1165.2" y2="916.3" stroke="#000" stroke-width="2"/>
<text x="1146.2" y="924.7" font-size="24.2" text-anchor="end">0.85</text>
<line x1="1153.2" y1="1024.0" x2="1165.2" y2="1024.0" stroke="#000" stroke-width="2"/>
<text x="1146.2" y="1032.4" font-size="24.2" text-anchor="end">0.80</text>
<line x1="1153.2" y1="1131.5" x2="1165.2" y2="1131.5" stroke="#000" stroke-width="2"/>
<text x="1146.2" y="1139.9" font-size="24.2" text-anchor="end">0.75</text>
<rect x="1196.8" y="803.7" width="9.6" height="8.2" rx="4.8" ry="4.1" fill="#2a2a2a"/>
<rect x="1196.8" y="934.2" width="9.6" height="14.1" rx="4.8" ry="4.1" fill="#2a2a2a"/>
<rect x="1196.8" y="1010.4" width="9.6" height="38.4" rx="4.8" ry="4.1" fill="#2a2a2a"/>
<line x1="1201.6" y1="948.3" x2="1201.6" y2="970.2" stroke="#2a2a2a" stroke-width="1.4"/>
<line x1="1201.6" y1="987.4" x2="1201.6" y2="1010.4" stroke="#2a2a2a" stroke-width="1.4"/>
<rect x="1186.6" y="970.2" width="30.0" height="17.2" fill="#6495ED" stroke="#1c2a4a" stroke-width="1.7"/>
<line x1="1186.6" y1="977.6" x2="1216.6" y2="977.6" stroke="#1f3566" stroke-width="2.1"/>
<ellipse cx="1233.6" cy="766.0" rx="4.8" ry="4.1" fill="#2a2a2a"/>
<ellipse cx="1233.6" cy="779.9" rx="4.8" ry="4.1" fill="#2a2a2a"/>
<rect x="1228.8" y="910.4" width="9.6" height="12.3" rx="4.8" ry="4.1" fill="#2a2a2a"/>
<rect x="1228.8" y="987.4" width="9.6" height="34.5" rx="4.8" ry="4.1" fill="#2a2a2a"/>
<line x1="1233.6" y1="922.7" x2="1233.6" y2="946.9" stroke="#2a2a2a" stroke-width="1.4"/>
<line x1="1233.6" y1="964.6" x2="1233.6" y2="987.4" stroke="#2a2a2a" stroke-width="1.4"/>
<rect x="1218.6" y="946.9" width="30.0" height="17.7" fill="#F37F35" stroke="#4a1f05" stroke-width="1.7"/>
<line x1="1218.6" y1="954.6" x2="1248.6" y2="954.6" stroke="#5e2404" stroke-width="2.1"/>
<line x1="1217.6" y1="1204.4" x2="1217.6" y2="1216.4" stroke="#000" stroke-width="2"/>
<text x="1226.4" y="1221.9" font-size="24.8" text-anchor="end" transform="rotate(-90 1226.3999999999999 1221.9)">Coelomocytes</text>
<rect x="1284.4" y="813.9" width="9.6" height="138.1" rx="4.8" ry="4.1" fill="#2a2a2a"/>
<ellipse cx="1289.2" cy="963.0" rx="4.8" ry="4.1" fill="#2a2a2a"/>
<ellipse cx="1289.2" cy="968.0" rx="4.8" ry="4.1" fill="#2a2a2a"/>
<ellipse cx="1289.2" cy="990.0" rx="4.8" ry="4.1" fill="#2a2a2a"/>
<ellipse cx="1289.2" cy="1009.0" rx="4.8" ry="4.1" fill="#2a2a2a"/>
<rect x="1284.4" y="1020.6" width="9.6" height="8.2" rx="4.8" ry="4.1" fill="#2a2a2a"/>
<ellipse cx="1289.2" cy="1049.3" rx="4.8" ry="4.1" fill="#2a2a2a"/>
<line x1="1289.2" y1="748.1" x2="1289.2" y2="769.1" stroke="#2a2a2a" stroke-width="1.4"/>
<line x1="1289.2" y1="788.1" x2="1289.2" y2="813.9" stroke="#2a2a2a" stroke-width="1.4"/>
<rect x="1274.2" y="769.1" width="30.0" height="19.0" fill="#6495ED" stroke="#1c2a4a" stroke-width="1.7"/>
<line x1="1274.2" y1="776.3" x2="1304.2" y2="776.3" stroke="#1f3566" stroke-width="2.1"/>
<rect x="1316.4" y="798.6" width="9.6" height="138.2" rx="4.8" ry="4.1" fill="#2a2a2a"/>
<ellipse cx="1321.2" cy="946.4" rx="4.8" ry="4.1" fill="#2a2a2a"/>
<ellipse cx="1321.2" cy="966.0" rx="4.8" ry="4.1" fill="#2a2a2a"/>
<rect x="1316.4" y="979.7" width="9.6" height="8.2" rx="4.8" ry="4.1" fill="#2a2a2a"/>
<ellipse cx="1321.2" cy="1009.9" rx="4.8" ry="4.1" fill="#2a2a2a"/>
<line x1="1321.2" y1="733.8" x2="1321.2" y2="752.5" stroke="#2a2a2a" stroke-width="1.4"/>
<line x1="1321.2" y1="771.9" x2="1321.2" y2="798.6" stroke="#2a2a2a" stroke-width="1.4"/>
<rect x="1306.2" y="752.5" width="30.0" height="19.4" fill="#F37F35" stroke="#4a1f05" stroke-width="1.7"/>
<line x1="1306.2" y1="760.2" x2="1336.2" y2="760.2" stroke="#5e2404" stroke-width="2.1"/>
<line x1="1305.2" y1="1204.4" x2="1305.2" y2="1216.4" stroke="#000" stroke-width="2"/>
<text x="1314.0" y="1221.9" font-size="24.8" text-anchor="end" transform="rotate(-90 1313.9999999999998 1221.9)">Germ</text>
<ellipse cx="1376.8" cy="853.6" rx="4.8" ry="4.1" fill="#2a2a2a"/>
<ellipse cx="1376.8" cy="1073.9" rx="4.8" ry="4.1" fill="#2a2a2a"/>
<ellipse cx="1376.8" cy="1180.6" rx="4.8" ry="4.1" fill="#2a2a2a"/>
<line x1="1376.8" y1="1096.2" x2="1376.8" y2="1120.0" stroke="#2a2a2a" stroke-width="1.4"/>
<line x1="1376.8" y1="1144.3" x2="1376.8" y2="1180.6" stroke="#2a2a2a" stroke-width="1.4"/>
<rect x="1361.8" y="1120.0" width="30.0" height="24.3" fill="#6495ED" stroke="#1c2a4a" stroke-width="1.7"/>
<line x1="1361.8" y1="1130.0" x2="1391.8" y2="1130.0" stroke="#1f3566" stroke-width="2.1"/>
<ellipse cx="1408.8" cy="784.5" rx="4.8" ry="4.1" fill="#2a2a2a"/>
<ellipse cx="1408.8" cy="1051.9" rx="4.8" ry="4.1" fill="#2a2a2a"/>
<line x1="1408.8" y1="1081.6" x2="1408.8" y2="1111.0" stroke="#2a2a2a" stroke-width="1.4"/>
<line x1="1408.8" y1="1136.3" x2="1408.8" y2="1165.3" stroke="#2a2a2a" stroke-width="1.4"/>
<rect x="1393.8" y="1111.0" width="30.0" height="25.3" fill="#F37F35" stroke="#4a1f05" stroke-width="1.7"/>
<line x1="1393.8" y1="1120.5" x2="1423.8" y2="1120.5" stroke="#5e2404" stroke-width="2.1"/>
<line x1="1392.8" y1="1204.4" x2="1392.8" y2="1216.4" stroke="#000" stroke-width="2"/>
<text x="1401.6" y="1221.9" font-size="24.8" text-anchor="end" transform="rotate(-90 1401.6 1221.9)">Intestine</text>
<ellipse cx="1464.4" cy="936.8" rx="4.8" ry="4.1" fill="#2a2a2a"/>
<rect x="1459.6" y="1039.8" width="9.6" height="44.8" rx="4.8" ry="4.1" fill="#2a2a2a"/>
<rect x="1459.6" y="1103.8" width="9.6" height="9.0" rx="4.8" ry="4.1" fill="#2a2a2a"/>
<ellipse cx="1464.4" cy="1133.8" rx="4.8" ry="4.1" fill="#2a2a2a"/>
<ellipse cx="1464.4" cy="1179.3" rx="4.8" ry="4.1" fill="#2a2a2a"/>
<line x1="1464.4" y1="946.4" x2="1464.4" y2="977.4" stroke="#2a2a2a" stroke-width="1.4"/>
<line x1="1464.4" y1="1003.5" x2="1464.4" y2="1039.8" stroke="#2a2a2a" stroke-width="1.4"/>
<rect x="1449.4" y="977.4" width="30.0" height="26.1" fill="#6495ED" stroke="#1c2a4a" stroke-width="1.7"/>
<line x1="1449.4" y1="989.1" x2="1479.4" y2="989.1" stroke="#1f3566" stroke-width="2.1"/>
<rect x="1491.6" y="910.0" width="9.6" height="28.0" rx="4.8" ry="4.1" fill="#2a2a2a"/>
<rect x="1491.6" y="1028.3" width="9.6" height="57.6" rx="4.8" ry="4.1" fill="#2a2a2a"/>
<ellipse cx="1496.4" cy="1095.6" rx="4.8" ry="4.1" fill="#2a2a2a"/>
<ellipse cx="1496.4" cy="1144.0" rx="4.8" ry="4.1" fill="#2a2a2a"/>
<line x1="1496.4" y1="940.6" x2="1496.4" y2="972.8" stroke="#2a2a2a" stroke-width="1.4"/>
<line x1="1496.4" y1="995.0" x2="1496.4" y2="1028.3" stroke="#2a2a2a" stroke-width="1.4"/>
<rect x="1481.4" y="972.8" width="30.0" height="22.2" fill="#F37F35" stroke="#4a1f05" stroke-width="1.7"/>
<line x1="1481.4" y1="982.2" x2="1511.4" y2="982.2" stroke="#5e2404" stroke-width="2.1"/>
<line x1="1480.4" y1="1204.4" x2="1480.4" y2="1216.4" stroke="#000" stroke-width="2"/>
<text x="1489.2" y="1221.9" font-size="24.8" text-anchor="end" transform="rotate(-90 1489.1999999999998 1221.9)">Muscle</text>
<ellipse cx="1552.0" cy="846.7" rx="4.8" ry="4.1" fill="#2a2a2a"/>
<ellipse cx="1552.0" cy="871.0" rx="4.8" ry="4.1" fill="#2a2a2a"/>
<ellipse cx="1552.0" cy="923.2" rx="4.8" ry="4.1" fill="#2a2a2a"/>
<rect x="1547.2" y="1101.3" width="9.6" height="75.5" rx="4.8" ry="4.1" fill="#2a2a2a"/>
<line x1="1552.0" y1="944.5" x2="1552.0" y2="998.4" stroke="#2a2a2a" stroke-width="1.4"/>
<line x1="1552.0" y1="1040.3" x2="1552.0" y2="1101.3" stroke="#2a2a2a" stroke-width="1.4"/>
<rect x="1537.0" y="998.4" width="30.0" height="41.9" fill="#6495ED" stroke="#1c2a4a" stroke-width="1.7"/>
<line x1="1537.0" y1="1015.0" x2="1567.0" y2="1015.0" stroke="#1f3566" stroke-width="2.1"/>
<ellipse cx="1584.0" cy="811.7" rx="4.8" ry="4.1" fill="#2a2a2a"/>
<ellipse cx="1584.0" cy="818.3" rx="4.8" ry="4.1" fill="#2a2a2a"/>
<ellipse cx="1584.0" cy="841.8" rx="4.8" ry="4.1" fill="#2a2a2a"/>
<ellipse cx="1584.0" cy="908.1" rx="4.8" ry="4.1" fill="#2a2a2a"/>
<rect x="1579.2" y="1076.0" width="9.6" height="86.5" rx="4.8" ry="4.1" fill="#2a2a2a"/>
<line x1="1584.0" y1="922.9" x2="1584.0" y2="979.5" stroke="#2a2a2a" stroke-width="1.4"/>
<line x1="1584.0" y1="1019.2" x2="1584.0" y2="1076.0" stroke="#2a2a2a" stroke-width="1.4"/>
<rect x="1569.0" y="979.5" width="30.0" height="39.7" fill="#F37F35" stroke="#4a1f05" stroke-width="1.7"/>
<line x1="1569.0" y1="995.5" x2="1599.0" y2="995.5" stroke="#5e2404" stroke-width="2.1"/>
<line x1="1568.0" y1="1204.4" x2="1568.0" y2="1216.4" stroke="#000" stroke-width="2"/>
<text x="1576.8" y="1221.9" font-size="24.8" text-anchor="end" transform="rotate(-90 1576.8 1221.9)">Neuron</text>
<ellipse cx="1639.6" cy="963.7" rx="4.8" ry="4.1" fill="#2a2a2a"/>
<ellipse cx="1639.6" cy="984.0" rx="4.8" ry="4.1" fill="#2a2a2a"/>
<ellipse cx="1639.6" cy="997.2" rx="4.8" ry="4.1" fill="#2a2a2a"/>
<rect x="1634.8" y="1006.0" width="9.6" height="25.0" rx="4.8" ry="4.1" fill="#2a2a2a"/>
<ellipse cx="1639.6" cy="1160.7" rx="4.8" ry="4.1" fill="#2a2a2a"/>
<line x1="1639.6" y1="1034.0" x2="1639.6" y2="1074.7" stroke="#2a2a2a" stroke-width="1.4"/>
<line x1="1639.6" y1="1105.0" x2="1639.6" y2="1148.2" stroke="#2a2a2a" stroke-width="1.4"/>
<rect x="1624.6" y="1074.7" width="30.0" height="30.3" fill="#6495ED" stroke="#1c2a4a" stroke-width="1.7"/>
<line x1="1624.6" y1="1091.3" x2="1654.6" y2="1091.3" stroke="#1f3566" stroke-width="2.1"/>
<ellipse cx="1671.6" cy="963.0" rx="4.8" ry="4.1" fill="#2a2a2a"/>
<rect x="1666.8" y="980.0" width="9.6" height="46.0" rx="4.8" ry="4.1" fill="#2a2a2a"/>
<line x1="1671.6" y1="1027.8" x2="1671.6" y2="1071.9" stroke="#2a2a2a" stroke-width="1.4"/>
<line x1="1671.6" y1="1103.5" x2="1671.6" y2="1148.2" stroke="#2a2a2a" stroke-width="1.4"/>
<rect x="1656.6" y="1071.9" width="30.0" height="31.6" fill="#F37F35" stroke="#4a1f05" stroke-width="1.7"/>
<line x1="1656.6" y1="1087.9" x2="1686.6" y2="1087.9" stroke="#5e2404" stroke-width="2.1"/>
<line x1="1655.6" y1="1204.4" x2="1655.6" y2="1216.4" stroke="#000" stroke-width="2"/>
<text x="1664.4" y="1221.9" font-size="24.8" text-anchor="end" transform="rotate(-90 1664.3999999999999 1221.9)">Non−seam</text>
<ellipse cx="1727.2" cy="941.2" rx="4.8" ry="4.1" fill="#2a2a2a"/>
<rect x="1722.4" y="808.9" width="9.6" height="11.1" rx="4.8" ry="4.1" fill="#2a2a2a"/>
<rect x="1722.4" y="826.0" width="9.6" height="26.0" rx="4.8" ry="4.1" fill="#2a2a2a"/>
<ellipse cx="1727.2" cy="866.7" rx="4.8" ry="4.1" fill="#2a2a2a"/>
<line x1="1727.2" y1="966.8" x2="1727.2" y2="1018.7" stroke="#2a2a2a" stroke-width="1.4"/>
<line x1="1727.2" y1="1064.4" x2="1727.2" y2="1130.4" stroke="#2a2a2a" stroke-width="1.4"/>
<rect x="1712.2" y="1018.7" width="30.0" height="45.7" fill="#6495ED" stroke="#1c2a4a" stroke-width="1.7"/>
<line x1="1712.2" y1="1040.3" x2="1742.2" y2="1040.3" stroke="#1f3566" stroke-width="2.1"/>
<ellipse cx="1759.2" cy="754.1" rx="4.8" ry="4.1" fill="#2a2a2a"/>
<ellipse cx="1759.2" cy="767.6" rx="4.8" ry="4.1" fill="#2a2a2a"/>
<ellipse cx="1759.2" cy="777.6" rx="4.8" ry="4.1" fill="#2a2a2a"/>
<ellipse cx="1759.2" cy="809.8" rx="4.8" ry="4.1" fill="#2a2a2a"/>
<ellipse cx="1759.2" cy="826.0" rx="4.8" ry="4.1" fill="#2a2a2a"/>
<ellipse cx="1759.2" cy="835.5" rx="4.8" ry="4.1" fill="#2a2a2a"/>
<ellipse cx="1759.2" cy="848.9" rx="4.8" ry="4.1" fill="#2a2a2a"/>
<ellipse cx="1759.2" cy="899.6" rx="4.8" ry="4.1" fill="#2a2a2a"/>
<ellipse cx="1759.2" cy="1118.5" rx="4.8" ry="4.1" fill="#2a2a2a"/>
<line x1="1759.2" y1="950.6" x2="1759.2" y2="1003.7" stroke="#2a2a2a" stroke-width="1.4"/>
<line x1="1759.2" y1="1047.5" x2="1759.2" y2="1118.5" stroke="#2a2a2a" stroke-width="1.4"/>
<rect x="1744.2" y="1003.7" width="30.0" height="43.8" fill="#F37F35" stroke="#4a1f05" stroke-width="1.7"/>
<line x1="1744.2" y1="1022.8" x2="1774.2" y2="1022.8" stroke="#5e2404" stroke-width="2.1"/>
<line x1="1743.2" y1="1204.4" x2="1743.2" y2="1216.4" stroke="#000" stroke-width="2"/>
<text x="1752.0" y="1221.9" font-size="24.8" text-anchor="end" transform="rotate(-90 1751.9999999999998 1221.9)">Pharyn</text>
<ellipse cx="1814.8" cy="843.3" rx="4.8" ry="4.1" fill="#2a2a2a"/>
<rect x="1810.0" y="1027.8" width="9.6" height="22.2" rx="4.8" ry="4.1" fill="#2a2a2a"/>
<rect x="1810.0" y="1057.0" width="9.6" height="27.0" rx="4.8" ry="4.1" fill="#2a2a2a"/>
<line x1="1814.8" y1="886.1" x2="1814.8" y2="923.0" stroke="#2a2a2a" stroke-width="1.4"/>
<line x1="1814.8" y1="964.6" x2="1814.8" y2="1027.8" stroke="#2a2a2a" stroke-width="1.4"/>
<rect x="1799.8" y="923.0" width="30.0" height="41.6" fill="#6495ED" stroke="#1c2a4a" stroke-width="1.7"/>
<line x1="1799.8" y1="946.5" x2="1829.8" y2="946.5" stroke="#1f3566" stroke-width="2.1"/>
<ellipse cx="1846.8" cy="809.8" rx="4.8" ry="4.1" fill="#2a2a2a"/>
<rect x="1842.0" y="1020.0" width="9.6" height="10.0" rx="4.8" ry="4.1" fill="#2a2a2a"/>
<rect x="1842.0" y="1038.0" width="9.6" height="8.2" rx="4.8" ry="4.1" fill="#2a2a2a"/>
<ellipse cx="1846.8" cy="1054.4" rx="4.8" ry="4.1" fill="#2a2a2a"/>
<line x1="1846.8" y1="852.7" x2="1846.8" y2="908.0" stroke="#2a2a2a" stroke-width="1.4"/>
<line x1="1846.8" y1="951.2" x2="1846.8" y2="1020.0" stroke="#2a2a2a" stroke-width="1.4"/>
<rect x="1831.8" y="908.0" width="30.0" height="43.2" fill="#F37F35" stroke="#4a1f05" stroke-width="1.7"/>
<line x1="1831.8" y1="931.8" x2="1861.8" y2="931.8" stroke="#5e2404" stroke-width="2.1"/>
<line x1="1830.8" y1="1204.4" x2="1830.8" y2="1216.4" stroke="#000" stroke-width="2"/>
<text x="1839.6" y="1221.9" font-size="24.8" text-anchor="end" transform="rotate(-90 1839.5999999999997 1221.9)">Precursors</text>
<ellipse cx="1902.4" cy="1020.9" rx="4.8" ry="4.1" fill="#2a2a2a"/>
<line x1="1902.4" y1="1046.6" x2="1902.4" y2="1073.5" stroke="#2a2a2a" stroke-width="1.4"/>
<line x1="1902.4" y1="1097.2" x2="1902.4" y2="1127.9" stroke="#2a2a2a" stroke-width="1.4"/>
<rect x="1887.4" y="1073.5" width="30.0" height="23.7" fill="#6495ED" stroke="#1c2a4a" stroke-width="1.7"/>
<line x1="1887.4" y1="1081.0" x2="1917.4" y2="1081.0" stroke="#1f3566" stroke-width="2.1"/>
<ellipse cx="1934.4" cy="1025.3" rx="4.8" ry="4.1" fill="#2a2a2a"/>
<line x1="1934.4" y1="1038.1" x2="1934.4" y2="1072.8" stroke="#2a2a2a" stroke-width="1.4"/>
<line x1="1934.4" y1="1098.5" x2="1934.4" y2="1132.6" stroke="#2a2a2a" stroke-width="1.4"/>
<rect x="1919.4" y="1072.8" width="30.0" height="25.7" fill="#F37F35" stroke="#4a1f05" stroke-width="1.7"/>
<line x1="1919.4" y1="1085.7" x2="1949.4" y2="1085.7" stroke="#5e2404" stroke-width="2.1"/>
<line x1="1918.4" y1="1204.4" x2="1918.4" y2="1216.4" stroke="#000" stroke-width="2"/>
<text x="1927.2" y="1221.9" font-size="24.8" text-anchor="end" transform="rotate(-90 1927.1999999999998 1221.9)">Rectum</text>
<rect x="1985.2" y="1081.0" width="9.6" height="37.5" rx="4.8" ry="4.1" fill="#2a2a2a"/>
<ellipse cx="1990.0" cy="1130.4" rx="4.8" ry="4.1" fill="#2a2a2a"/>
<ellipse cx="1990.0" cy="1145.1" rx="4.8" ry="4.1" fill="#2a2a2a"/>
<line x1="1990.0" y1="942.7" x2="1990.0" y2="981.5" stroke="#2a2a2a" stroke-width="1.4"/>
<line x1="1990.0" y1="1022.2" x2="1990.0" y2="1081.0" stroke="#2a2a2a" stroke-width="1.4"/>
<rect x="1975.0" y="981.5" width="30.0" height="40.7" fill="#6495ED" stroke="#1c2a4a" stroke-width="1.7"/>
<line x1="1975.0" y1="998.1" x2="2005.0" y2="998.1" stroke="#1f3566" stroke-width="2.1"/>
<rect x="2017.2" y="1059.1" width="9.6" height="50.0" rx="4.8" ry="4.1" fill="#2a2a2a"/>
<ellipse cx="2022.0" cy="1118.5" rx="4.8" ry="4.1" fill="#2a2a2a"/>
<ellipse cx="2022.0" cy="1127.9" rx="4.8" ry="4.1" fill="#2a2a2a"/>
<ellipse cx="2022.0" cy="1136.3" rx="4.8" ry="4.1" fill="#2a2a2a"/>
<line x1="2022.0" y1="934.6" x2="2022.0" y2="970.9" stroke="#2a2a2a" stroke-width="1.4"/>
<line x1="2022.0" y1="1007.5" x2="2022.0" y2="1059.1" stroke="#2a2a2a" stroke-width="1.4"/>
<rect x="2007.0" y="970.9" width="30.0" height="36.6" fill="#F37F35" stroke="#4a1f05" stroke-width="1.7"/>
<line x1="2007.0" y1="986.2" x2="2037.0" y2="986.2" stroke="#5e2404" stroke-width="2.1"/>
<line x1="2006.0" y1="1204.4" x2="2006.0" y2="1216.4" stroke="#000" stroke-width="2"/>
<text x="2014.8" y="1221.9" font-size="24.8" text-anchor="end" transform="rotate(-90 2014.8 1221.9)">Seam</text>
<text x="1167.5" y="695.0" font-size="33" font-style="italic">C. elegans</text>
<text x="1077.6" y="880.0" font-size="28" text-anchor="middle" transform="rotate(-90 1077.6 880)">AUROC value</text>
<text x="1628.0" y="1376.5" font-size="27.6" text-anchor="middle">Cell lineage</text>
<rect x="1791.7" y="671.3" width="327.5" height="92.2" fill="#fff" stroke="#000" stroke-width="2"/>
<text x="1808.2" y="719.8" font-size="25">Type</text>
<line x1="1900.2" y1="684.3" x2="1900.2" y2="711.3" stroke="#2a2a2a" stroke-width="1.3"/>
<rect x="1885.2" y="689.3" width="30.0" height="17.0" fill="#6495ED" stroke="#1c2a4a" stroke-width="1.6"/>
<line x1="1885.2" y1="697.8" x2="1915.2" y2="697.8" stroke="#1f3566" stroke-width="1.8"/>
<text x="1929.2" y="706.8" font-size="25">Baseline</text>
<line x1="1900.2" y1="727.3" x2="1900.2" y2="754.3" stroke="#2a2a2a" stroke-width="1.3"/>
<rect x="1885.2" y="732.3" width="30.0" height="17.0" fill="#F37F35" stroke="#4a1f05" stroke-width="1.6"/>
<line x1="1885.2" y1="740.8" x2="1915.2" y2="740.8" stroke="#5e2404" stroke-width="1.8"/>
<text x="1929.2" y="749.8" font-size="25">Multiple genome</text>
<defs><pattern id="ptb" width="61" height="53" patternUnits="userSpaceOnUse"><rect width="61" height="53" fill="#450d5e"/><rect x="2.0" y="0" width="1.5" height="53" fill="#414487" opacity="0.55"/><rect x="4.5" y="0" width="1" height="53" fill="#3b528b" opacity="0.55"/><rect x="12.5" y="0" width="1.5" height="53" fill="#2c728e" opacity="0.55"/><rect x="14.0" y="0" width="1" height="53" fill="#414487" opacity="0.55"/><rect x="15.0" y="0" width="1.5" height="53" fill="#3b528b" opacity="0.55"/><rect x="18.5" y="0" width="2" height="53" fill="#3b528b" opacity="0.55"/><rect x="26.0" y="0" width="1.5" height="53" fill="#3b528b" opacity="0.55"/><rect x="30.5" y="0" width="1" height="53" fill="#414487" opacity="0.55"/><rect x="39.5" y="0" width="1" height="53" fill="#414487" opacity="0.55"/><rect x="40.5" y="0" width="1" height="53" fill="#414487" opacity="0.55"/><rect x="45.5" y="0" width="1" height="53" fill="#3b528b" opacity="0.55"/><rect x="46.5" y="0" width="1" height="53" fill="#414487" opacity="0.55"/><rect x="47.5" y="0" width="1.5" height="53" fill="#414487" opacity="0.55"/><rect x="49.0" y="0" width="1" height="53" fill="#414487" opacity="0.55"/><rect x="51.5" y="0" width="1" height="53" fill="#3b528b" opacity="0.55"/><rect x="52.5" y="0" width="1" height="53" fill="#414487" opacity="0.55"/><rect x="54.5" y="0" width="1" height="53" fill="#3b528b" opacity="0.55"/><rect x="0" y="5.0" width="61" height="1" fill="#414487" opacity="0.45"/><rect x="0" y="6.0" width="61" height="2" fill="#3b528b" opacity="0.45"/><rect x="0" y="9.5" width="61" height="1.5" fill="#414487" opacity="0.45"/><rect x="0" y="17.5" width="61" height="2" fill="#3b528b" opacity="0.45"/><rect x="0" y="19.5" width="61" height="1" fill="#414487" opacity="0.45"/><rect x="0" y="22.5" width="61" height="1" fill="#3b528b" opacity="0.45"/><rect x="0" y="23.5" width="61" height="1" fill="#414487" opacity="0.45"/><rect x="0" y="24.5" width="61" height="1" fill="#414487" opacity="0.45"/><rect x="0" y="26.5" width="61" height="1" fill="#414487" opacity="0.45"/><rect x="0" y="34.0" width="61" height="1" fill="#414487" opacity="0.45"/><rect x="0" y="35.0" width="61" height="1.5" fill="#414487" opacity="0.45"/><rect x="0" y="45.5" width="61" height="2" fill="#414487" opacity="0.45"/><rect x="0" y="49.0" width="61" height="2" fill="#414487" opacity="0.45"/></pattern><pattern id="ptB" width="61" height="53" patternUnits="userSpaceOnUse"><rect width="61" height="53" fill="#40397f"/><rect x="3.0" y="0" width="1" height="53" fill="#440154" opacity="0.75"/><rect x="5.5" y="0" width="1" height="53" fill="#2c728e" opacity="0.75"/><rect x="6.5" y="0" width="1" height="53" fill="#440154" opacity="0.75"/><rect x="11.5" y="0" width="1" height="53" fill="#440154" opacity="0.75"/><rect x="14.5" y="0" width="1" height="53" fill="#2c728e" opacity="0.75"/><rect x="18.5" y="0" width="1" height="53" fill="#3b528b" opacity="0.75"/><rect x="19.5" y="0" width="1" height="53" fill="#21908c" opacity="0.75"/><rect x="22.5" y="0" width="1" height="53" fill="#2c728e" opacity="0.75"/><rect x="28.5" y="0" width="1.5" height="53" fill="#2c728e" opacity="0.75"/><rect x="30.0" y="0" width="1" height="53" fill="#440154" opacity="0.75"/><rect x="33.0" y="0" width="1.5" height="53" fill="#440154" opacity="0.75"/><rect x="34.5" y="0" width="1.5" height="53" fill="#2c728e" opacity="0.75"/><rect x="36.0" y="0" width="1" height="53" fill="#440154" opacity="0.75"/><rect x="37.0" y="0" width="1" height="53" fill="#2c728e" opacity="0.75"/><rect x="39.0" y="0" width="1" height="53" fill="#440154" opacity="0.75"/><rect x="43.0" y="0" width="2" height="53" fill="#3b528b" opacity="0.75"/><rect x="45.0" y="0" width="1" height="53" fill="#2c728e" opacity="0.75"/><rect x="47.0" y="0" width="1" height="53" fill="#2c728e" opacity="0.75"/><rect x="50.5" y="0" width="1" height="53" fill="#440154" opacity="0.75"/><rect x="51.5" y="0" width="1" height="53" fill="#3b528b" opacity="0.75"/><rect x="52.5" y="0" width="2" height="53" fill="#21908c" opacity="0.75"/><rect x="55.5" y="0" width="1" height="53" fill="#440154" opacity="0.75"/><rect x="58.0" y="0" width="1" height="53" fill="#440154" opacity="0.75"/><rect x="59.0" y="0" width="1" height="53" fill="#3b528b" opacity="0.75"/><rect x="0" y="0.0" width="61" height="1" fill="#440154" opacity="0.55"/><rect x="0" y="4.0" width="61" height="1" fill="#21908c" opacity="0.55"/><rect x="0" y="5.0" width="61" height="1" fill="#3b528b" opacity="0.55"/><rect x="0" y="6.0" width="61" height="1.5" fill="#3b528b" opacity="0.55"/><rect x="0" y="8.5" width="61" height="1" fill="#440154" opacity="0.55"/><rect x="0" y="27.5" width="61" height="2" fill="#21908c" opacity="0.55"/><rect x="0" y="29.5" width="61" height="2" fill="#440154" opacity="0.55"/><rect x="0" y="37.0" width="61" height="2" fill="#3b528b" opacity="0.55"/><rect x="0" y="45.0" width="61" height="2" fill="#3b528b" opacity="0.55"/><rect x="0" y="47.0" width="61" height="1" fill="#21908c" opacity="0.55"/><rect x="0" y="49.5" width="61" height="1.5" fill="#3b528b" opacity="0.55"/><rect x="0" y="51.0" width="61" height="1" fill="#440154" opacity="0.55"/></pattern><pattern id="ptt" width="61" height="53" patternUnits="userSpaceOnUse"><rect width="61" height="53" fill="#33628d"/><rect x="0.0" y="0" width="1" height="53" fill="#440154" opacity="0.8"/><rect x="1.0" y="0" width="1" height="53" fill="#3b528b" opacity="0.8"/><rect x="2.0" y="0" width="1" height="53" fill="#21908c" opacity="0.8"/><rect x="6.0" y="0" width="1" height="53" fill="#440154" opacity="0.8"/><rect x="8.5" y="0" width="2" height="53" fill="#440154" opacity="0.8"/><rect x="10.5" y="0" width="1" height="53" fill="#5dc863" opacity="0.8"/><rect x="13.0" y="0" width="1.5" height="53" fill="#5dc863" opacity="0.8"/><rect x="14.5" y="0" width="2" height="53" fill="#21908c" opacity="0.8"/><rect x="18.0" y="0" width="1" height="53" fill="#5dc863" opacity="0.8"/><rect x="21.0" y="0" width="1" height="53" fill="#3b528b" opacity="0.8"/><rect x="22.0" y="0" width="1" height="53" fill="#21908c" opacity="0.8"/><rect x="23.0" y="0" width="2" height="53" fill="#440154" opacity="0.8"/><rect x="26.0" y="0" width="1" height="53" fill="#5dc863" opacity="0.8"/><rect x="27.0" y="0" width="1" height="53" fill="#5dc863" opacity="0.8"/><rect x="28.0" y="0" width="1" height="53" fill="#440154" opacity="0.8"/><rect x="30.0" y="0" width="1" height="53" fill="#440154" opacity="0.8"/><rect x="31.0" y="0" width="1" height="53" fill="#5dc863" opacity="0.8"/><rect x="33.0" y="0" width="1" height="53" fill="#21908c" opacity="0.8"/><rect x="35.5" y="0" width="1.5" height="53" fill="#21908c" opacity="0.8"/><rect x="37.0" y="0" width="1" height="53" fill="#3b528b" opacity="0.8"/><rect x="41.0" y="0" width="1" height="53" fill="#21908c" opacity="0.8"/><rect x="42.0" y="0" width="1" height="53" fill="#440154" opacity="0.8"/><rect x="43.0" y="0" width="1" height="53" fill="#21908c" opacity="0.8"/><rect x="46.0" y="0" width="1" height="53" fill="#440154" opacity="0.8"/><rect x="47.0" y="0" width="2" height="53" fill="#3b528b" opacity="0.8"/><rect x="49.0" y="0" width="1.5" height="53" fill="#440154" opacity="0.8"/><rect x="50.5" y="0" width="1" height="53" fill="#21908c" opacity="0.8"/><rect x="59.5" y="0" width="1" height="53" fill="#21908c" opacity="0.8"/><rect x="0" y="0.0" width="61" height="1.5" fill="#21908c" opacity="0.55"/><rect x="0" y="5.0" width="61" height="1.5" fill="#21908c" opacity="0.55"/><rect x="0" y="6.5" width="61" height="1" fill="#21908c" opacity="0.55"/><rect x="0" y="8.5" width="61" height="2" fill="#21908c" opacity="0.55"/><rect x="0" y="10.5" width="61" height="1" fill="#440154" opacity="0.55"/><rect x="0" y="11.5" width="61" height="2" fill="#21908c" opacity="0.55"/><rect x="0" y="18.0" width="61" height="1" fill="#21908c" opacity="0.55"/><rect x="0" y="19.0" width="61" height="1" fill="#21908c" opacity="0.55"/><rect x="0" y="21.0" width="61" height="1.5" fill="#21908c" opacity="0.55"/><rect x="0" y="44.5" width="61" height="1" fill="#5dc863" opacity="0.55"/><rect x="0" y="45.5" width="61" height="2" fill="#21908c" opacity="0.55"/><rect x="0" y="47.5" width="61" height="1.5" fill="#21908c" opacity="0.55"/><rect x="0" y="49.0" width="61" height="1.5" fill="#5dc863" opacity="0.55"/><rect x="0" y="50.5" width="61" height="1" fill="#5dc863" opacity="0.55"/></pattern><pattern id="ptT" width="61" height="53" patternUnits="userSpaceOnUse"><rect width="61" height="53" fill="#23888d"/><rect x="1.0" y="0" width="1" height="53" fill="#1fa187" opacity="0.8"/><rect x="6.0" y="0" width="1" height="53" fill="#1fa187" opacity="0.8"/><rect x="7.0" y="0" width="1" height="53" fill="#1fa187" opacity="0.8"/><rect x="8.0" y="0" width="1.5" height="53" fill="#1fa187" opacity="0.8"/><rect x="13.5" y="0" width="1" height="53" fill="#5dc863" opacity="0.8"/><rect x="15.5" y="0" width="2" height="53" fill="#3b528b" opacity="0.8"/><rect x="20.5" y="0" width="1" height="53" fill="#3b528b" opacity="0.8"/><rect x="23.5" y="0" width="1.5" height="53" fill="#1fa187" opacity="0.8"/><rect x="25.0" y="0" width="1" height="53" fill="#1fa187" opacity="0.8"/><rect x="28.0" y="0" width="2" height="53" fill="#1fa187" opacity="0.8"/><rect x="30.0" y="0" width="1" height="53" fill="#1fa187" opacity="0.8"/><rect x="31.0" y="0" width="1" height="53" fill="#3b528b" opacity="0.8"/><rect x="33.0" y="0" width="2" height="53" fill="#1fa187" opacity="0.8"/><rect x="35.0" y="0" width="1" height="53" fill="#1fa187" opacity="0.8"/><rect x="36.0" y="0" width="1" height="53" fill="#5dc863" opacity="0.8"/><rect x="40.5" y="0" width="1" height="53" fill="#5dc863" opacity="0.8"/><rect x="42.5" y="0" width="1" height="53" fill="#5dc863" opacity="0.8"/><rect x="43.5" y="0" width="1.5" height="53" fill="#3b528b" opacity="0.8"/><rect x="47.0" y="0" width="1" height="53" fill="#1fa187" opacity="0.8"/><rect x="48.0" y="0" width="1" height="53" fill="#1fa187" opacity="0.8"/><rect x="49.0" y="0" width="1.5" height="53" fill="#3b528b" opacity="0.8"/><rect x="51.5" y="0" width="1" height="53" fill="#5dc863" opacity="0.8"/><rect x="52.5" y="0" width="1" height="53" fill="#5dc863" opacity="0.8"/><rect x="53.5" y="0" width="1.5" height="53" fill="#1fa187" opacity="0.8"/><rect x="57.0" y="0" width="1" height="53" fill="#1fa187" opacity="0.8"/><rect x="59.0" y="0" width="1" height="53" fill="#1fa187" opacity="0.8"/><rect x="60.0" y="0" width="2" height="53" fill="#3b528b" opacity="0.8"/><rect x="0" y="3.0" width="61" height="2" fill="#2c728e" opacity="0.55"/><rect x="0" y="5.0" width="61" height="1" fill="#5dc863" opacity="0.55"/><rect x="0" y="10.0" width="61" height="2" fill="#2c728e" opacity="0.55"/><rect x="0" y="12.0" width="61" height="1" fill="#5dc863" opacity="0.55"/><rect x="0" y="15.0" width="61" height="2" fill="#2c728e" opacity="0.55"/><rect x="0" y="18.0" width="61" height="1.5" fill="#2c728e" opacity="0.55"/><rect x="0" y="19.5" width="61" height="2" fill="#2c728e" opacity="0.55"/><rect x="0" y="22.5" width="61" height="1" fill="#2c728e" opacity="0.55"/><rect x="0" y="24.5" width="61" height="1.5" fill="#2c728e" opacity="0.55"/><rect x="0" y="26.0" width="61" height="2" fill="#2c728e" opacity="0.55"/><rect x="0" y="28.0" width="61" height="1" fill="#5dc863" opacity="0.55"/><rect x="0" y="41.5" width="61" height="1" fill="#2c728e" opacity="0.55"/><rect x="0" y="44.0" width="61" height="1" fill="#2c728e" opacity="0.55"/><rect x="0" y="45.0" width="61" height="1" fill="#5dc863" opacity="0.55"/><rect x="0" y="46.0" width="61" height="1.5" fill="#2c728e" opacity="0.55"/><rect x="0" y="49.5" width="61" height="1.5" fill="#2c728e" opacity="0.55"/><rect x="0" y="51.0" width="61" height="1" fill="#2c728e" opacity="0.55"/><rect x="0" y="52.0" width="61" height="1" fill="#2c728e" opacity="0.55"/></pattern><pattern id="ptg" width="61" height="53" patternUnits="userSpaceOnUse"><rect width="61" height="53" fill="#2a968a"/><rect x="0.0" y="0" width="2" height="53" fill="#3b528b" opacity="0.8"/><rect x="2.0" y="0" width="1" height="53" fill="#5dc863" opacity="0.8"/><rect x="5.0" y="0" width="1.5" height="53" fill="#5dc863" opacity="0.8"/><rect x="8.5" y="0" width="1" height="53" fill="#5dc863" opacity="0.8"/><rect x="9.5" y="0" width="1" height="53" fill="#5dc863" opacity="0.8"/><rect x="17.0" y="0" width="2" height="53" fill="#21908c" opacity="0.8"/><rect x="19.0" y="0" width="1" height="53" fill="#5dc863" opacity="0.8"/><rect x="21.0" y="0" width="1.5" height="53" fill="#b5de2b" opacity="0.8"/><rect x="22.5" y="0" width="1.5" height="53" fill="#3b528b" opacity="0.8"/><rect x="25.0" y="0" width="1" height="53" fill="#21908c" opacity="0.8"/><rect x="27.0" y="0" width="1" height="53" fill="#3b528b" opacity="0.8"/><rect x="28.0" y="0" width="1.5" height="53" fill="#3b528b" opacity="0.8"/><rect x="29.5" y="0" width="1" height="53" fill="#b5de2b" opacity="0.8"/><rect x="32.0" y="0" width="1" height="53" fill="#5dc863" opacity="0.8"/><rect x="35.0" y="0" width="1" height="53" fill="#3b528b" opacity="0.8"/><rect x="36.0" y="0" width="1.5" height="53" fill="#21908c" opacity="0.8"/><rect x="37.5" y="0" width="1" height="53" fill="#3b528b" opacity="0.8"/><rect x="38.5" y="0" width="1.5" height="53" fill="#3b528b" opacity="0.8"/><rect x="40.0" y="0" width="2" height="53" fill="#5dc863" opacity="0.8"/><rect x="42.0" y="0" width="1" height="53" fill="#3b528b" opacity="0.8"/><rect x="48.0" y="0" width="1" height="53" fill="#5dc863" opacity="0.8"/><rect x="50.0" y="0" width="2" height="53" fill="#3b528b" opacity="0.8"/><rect x="57.0" y="0" width="1" height="53" fill="#3b528b" opacity="0.8"/><rect x="58.0" y="0" width="1" height="53" fill="#21908c" opacity="0.8"/><rect x="59.0" y="0" width="1.5" height="53" fill="#b5de2b" opacity="0.8"/><rect x="0" y="0.0" width="61" height="1" fill="#2c728e" opacity="0.55"/><rect x="0" y="2.0" width="61" height="1" fill="#2c728e" opacity="0.55"/><rect x="0" y="4.5" width="61" height="1" fill="#5dc863" opacity="0.55"/><rect x="0" y="6.5" width="61" height="1" fill="#fde725" opacity="0.55"/><rect x="0" y="7.5" width="61" height="2" fill="#5dc863" opacity="0.55"/><rect x="0" y="19.0" width="61" height="1" fill="#5dc863" opacity="0.55"/><rect x="0" y="20.0" width="61" height="1.5" fill="#5dc863" opacity="0.55"/><rect x="0" y="21.5" width="61" height="2" fill="#5dc863" opacity="0.55"/><rect x="0" y="24.5" width="61" height="1" fill="#2c728e" opacity="0.55"/><rect x="0" y="27.5" width="61" height="2" fill="#2c728e" opacity="0.55"/><rect x="0" y="34.5" width="61" height="1" fill="#2c728e" opacity="0.55"/><rect x="0" y="35.5" width="61" height="1" fill="#fde725" opacity="0.55"/><rect x="0" y="36.5" width="61" height="1" fill="#fde725" opacity="0.55"/><rect x="0" y="39.0" width="61" height="1" fill="#2c728e" opacity="0.55"/><rect x="0" y="47.0" width="61" height="1" fill="#fde725" opacity="0.55"/><rect x="0" y="52.0" width="61" height="1.5" fill="#fde725" opacity="0.55"/></pattern><pattern id="ptG" width="61" height="53" patternUnits="userSpaceOnUse"><rect width="61" height="53" fill="#69c95c"/><rect x="0.0" y="0" width="2" height="53" fill="#fde725" opacity="0.8"/><rect x="5.5" y="0" width="1" height="53" fill="#21908c" opacity="0.8"/><rect x="6.5" y="0" width="1" height="53" fill="#21908c" opacity="0.8"/><rect x="7.5" y="0" width="1.5" height="53" fill="#b5de2b" opacity="0.8"/><rect x="9.0" y="0" width="1" height="53" fill="#21908c" opacity="0.8"/><rect x="10.0" y="0" width="1" height="53" fill="#fde725" opacity="0.8"/><rect x="13.0" y="0" width="1" height="53" fill="#21908c" opacity="0.8"/><rect x="14.0" y="0" width="1" height="53" fill="#21908c" opacity="0.8"/><rect x="18.0" y="0" width="1" height="53" fill="#3b528b" opacity="0.8"/><rect x="19.0" y="0" width="2" height="53" fill="#21908c" opacity="0.8"/><rect x="21.0" y="0" width="1.5" height="53" fill="#3b528b" opacity="0.8"/><rect x="23.5" y="0" width="1" height="53" fill="#b5de2b" opacity="0.8"/><rect x="24.5" y="0" width="1" height="53" fill="#21908c" opacity="0.8"/><rect x="26.5" y="0" width="1.5" height="53" fill="#fde725" opacity="0.8"/><rect x="29.5" y="0" width="1" height="53" fill="#21908c" opacity="0.8"/><rect x="32.0" y="0" width="1" height="53" fill="#b5de2b" opacity="0.8"/><rect x="34.0" y="0" width="2" height="53" fill="#b5de2b" opacity="0.8"/><rect x="39.0" y="0" width="2" height="53" fill="#21908c" opacity="0.8"/><rect x="44.5" y="0" width="1" height="53" fill="#fde725" opacity="0.8"/><rect x="48.0" y="0" width="1" height="53" fill="#fde725" opacity="0.8"/><rect x="49.0" y="0" width="1" height="53" fill="#b5de2b" opacity="0.8"/><rect x="51.0" y="0" width="1" height="53" fill="#fde725" opacity="0.8"/><rect x="52.0" y="0" width="1" height="53" fill="#b5de2b" opacity="0.8"/><rect x="53.0" y="0" width="1" height="53" fill="#21908c" opacity="0.8"/><rect x="55.0" y="0" width="1" height="53" fill="#3b528b" opacity="0.8"/><rect x="56.0" y="0" width="1" height="53" fill="#fde725" opacity="0.8"/><rect x="58.0" y="0" width="1" height="53" fill="#3b528b" opacity="0.8"/><rect x="59.0" y="0" width="1.5" height="53" fill="#fde725" opacity="0.8"/><rect x="0" y="6.5" width="61" height="1" fill="#fde725" opacity="0.55"/><rect x="0" y="7.5" width="61" height="1" fill="#2a968a" opacity="0.55"/><rect x="0" y="17.5" width="61" height="1" fill="#2a968a" opacity="0.55"/><rect x="0" y="22.5" width="61" height="1" fill="#2a968a" opacity="0.55"/><rect x="0" y="23.5" width="61" height="2" fill="#2a968a" opacity="0.55"/><rect x="0" y="25.5" width="61" height="1" fill="#2a968a" opacity="0.55"/><rect x="0" y="26.5" width="61" height="1" fill="#fde725" opacity="0.55"/><rect x="0" y="27.5" width="61" height="2" fill="#2a968a" opacity="0.55"/><rect x="0" y="33.5" width="61" height="1.5" fill="#fde725" opacity="0.55"/><rect x="0" y="37.5" width="61" height="2" fill="#2a968a" opacity="0.55"/><rect x="0" y="41.5" width="61" height="2" fill="#2a968a" opacity="0.55"/><rect x="0" y="43.5" width="61" height="1" fill="#fde725" opacity="0.55"/><rect x="0" y="47.0" width="61" height="1" fill="#2a968a" opacity="0.55"/><rect x="0" y="50.0" width="61" height="1" fill="#2a968a" opacity="0.55"/></pattern><pattern id="ptL" width="61" height="53" patternUnits="userSpaceOnUse"><rect width="61" height="53" fill="#f0e32a"/><rect x="0.0" y="0" width="1.5" height="53" fill="#6ece58" opacity="0.75"/><rect x="2.5" y="0" width="2" height="53" fill="#fde725" opacity="0.75"/><rect x="4.5" y="0" width="1" height="53" fill="#b5de2b" opacity="0.75"/><rect x="7.5" y="0" width="2" height="53" fill="#b5de2b" opacity="0.75"/><rect x="9.5" y="0" width="1" height="53" fill="#fde725" opacity="0.75"/><rect x="13.0" y="0" width="1" height="53" fill="#fde725" opacity="0.75"/><rect x="14.0" y="0" width="1" height="53" fill="#b5de2b" opacity="0.75"/><rect x="17.5" y="0" width="1" height="53" fill="#6ece58" opacity="0.75"/><rect x="18.5" y="0" width="2" height="53" fill="#21908c" opacity="0.75"/><rect x="20.5" y="0" width="1" height="53" fill="#fde725" opacity="0.75"/><rect x="25.5" y="0" width="1" height="53" fill="#6ece58" opacity="0.75"/><rect x="26.5" y="0" width="1.5" height="53" fill="#6ece58" opacity="0.75"/><rect x="34.0" y="0" width="1" height="53" fill="#6ece58" opacity="0.75"/><rect x="35.0" y="0" width="1" height="53" fill="#b5de2b" opacity="0.75"/><rect x="36.0" y="0" width="1" height="53" fill="#b5de2b" opacity="0.75"/><rect x="37.0" y="0" width="1.5" height="53" fill="#b5de2b" opacity="0.75"/><rect x="46.0" y="0" width="1" height="53" fill="#fde725" opacity="0.75"/><rect x="47.0" y="0" width="1" height="53" fill="#b5de2b" opacity="0.75"/><rect x="49.5" y="0" width="1" height="53" fill="#b5de2b" opacity="0.75"/><rect x="51.5" y="0" width="1" height="53" fill="#21908c" opacity="0.75"/><rect x="52.5" y="0" width="2" height="53" fill="#6ece58" opacity="0.75"/><rect x="54.5" y="0" width="1.5" height="53" fill="#b5de2b" opacity="0.75"/><rect x="56.0" y="0" width="2" height="53" fill="#21908c" opacity="0.75"/><rect x="58.0" y="0" width="1.5" height="53" fill="#b5de2b" opacity="0.75"/><rect x="0" y="0.0" width="61" height="1" fill="#b5de2b" opacity="0.5"/><rect x="0" y="2.0" width="61" height="1" fill="#b5de2b" opacity="0.5"/><rect x="0" y="3.0" width="61" height="1" fill="#b5de2b" opacity="0.5"/><rect x="0" y="11.0" width="61" height="1" fill="#b5de2b" opacity="0.5"/><rect x="0" y="12.0" width="61" height="1" fill="#b5de2b" opacity="0.5"/><rect x="0" y="15.5" width="61" height="2" fill="#6ece58" opacity="0.5"/><rect x="0" y="17.5" width="61" height="1.5" fill="#b5de2b" opacity="0.5"/><rect x="0" y="23.0" width="61" height="1" fill="#b5de2b" opacity="0.5"/><rect x="0" y="25.0" width="61" height="1" fill="#b5de2b" opacity="0.5"/><rect x="0" y="31.5" width="61" height="1" fill="#b5de2b" opacity="0.5"/><rect x="0" y="35.5" width="61" height="1" fill="#6ece58" opacity="0.5"/><rect x="0" y="36.5" width="61" height="1" fill="#b5de2b" opacity="0.5"/><rect x="0" y="49.0" width="61" height="1" fill="#b5de2b" opacity="0.5"/><rect x="0" y="50.0" width="61" height="2" fill="#6ece58" opacity="0.5"/><rect x="0" y="52.0" width="61" height="1" fill="#b5de2b" opacity="0.5"/></pattern></defs>
<text x="242.7" y="1468.1" font-size="26" text-anchor="middle">Human</text>
<text x="56.5" y="1494.5" font-size="16.3">Observed cell type-specific transcription</text>
<rect x="55.0" y="1503.5" width="27.0" height="13.5" fill="#E41A1C"/>
<rect x="81.7" y="1503.5" width="139.4" height="13.5" fill="#E7298A"/>
<rect x="220.9" y="1503.5" width="23.4" height="13.5" fill="#4DAF4A"/>
<rect x="244.0" y="1503.5" width="5.7" height="13.5" fill="#CCEBC5"/>
<rect x="249.4" y="1503.5" width="63.4" height="13.5" fill="#1B9E77"/>
<rect x="312.5" y="1503.5" width="11.7" height="13.5" fill="#66A61E"/>
<rect x="323.9" y="1503.5" width="17.4" height="13.5" fill="#D95F02"/>
<rect x="341.1" y="1503.5" width="7.8" height="13.5" fill="#A6761D"/>
<rect x="348.6" y="1503.5" width="7.8" height="13.5" fill="#E6AB02"/>
<rect x="356.1" y="1503.5" width="65.8" height="13.5" fill="#7570B3"/>
<rect x="41.2" y="1520.1" width="12.9" height="27.9" fill="#E41A1C"/>
<rect x="41.2" y="1547.7" width="12.9" height="144.5" fill="#E7298A"/>
<rect x="41.2" y="1692.0" width="12.9" height="22.8" fill="#4DAF4A"/>
<rect x="41.2" y="1714.5" width="12.9" height="6.3" fill="#CCEBC5"/>
<rect x="41.2" y="1720.5" width="12.9" height="65.8" fill="#1B9E77"/>
<rect x="41.2" y="1786.0" width="12.9" height="11.4" fill="#66A61E"/>
<rect x="41.2" y="1797.1" width="12.9" height="18.3" fill="#D95F02"/>
<rect x="41.2" y="1815.2" width="12.9" height="7.2" fill="#A6761D"/>
<rect x="41.2" y="1822.1" width="12.9" height="8.4" fill="#E6AB02"/>
<rect x="41.2" y="1830.2" width="12.9" height="67.9" fill="#7570B3"/>
<rect x="55.0" y="1520.1" width="366.6" height="377.7" fill="#440154"/>
<svg x="55.0" y="1520.1" width="366.6" height="377.7" overflow="hidden"><g transform="translate(-54.99,-1520.07)">
<rect x="54.6" y="1520.1" width="17.4" height="18.0" fill="#fde725"/>
<rect x="72.1" y="1520.1" width="10.0" height="18.0" fill="url(#ptG)"/>
<rect x="54.6" y="1538.1" width="17.4" height="9.5" fill="url(#ptG)"/>
<rect x="72.1" y="1538.1" width="10.0" height="9.5" fill="#fde725"/>
<rect x="82.1" y="1520.1" width="7.9" height="18.0" fill="url(#ptt)"/>
<rect x="90.1" y="1520.1" width="8.5" height="18.0" fill="url(#ptL)"/>
<rect x="113.3" y="1520.1" width="19.0" height="18.0" fill="url(#ptG)"/>
<rect x="132.4" y="1520.1" width="4.2" height="18.0" fill="url(#ptb)"/>
<rect x="136.6" y="1520.1" width="4.2" height="18.0" fill="#fde725"/>
<rect x="147.2" y="1520.1" width="4.2" height="18.0" fill="#fde725"/>
<rect x="151.4" y="1520.1" width="9.5" height="18.0" fill="url(#ptg)"/>
<rect x="160.9" y="1520.1" width="24.3" height="18.0" fill="url(#ptb)"/>
<rect x="185.2" y="1520.1" width="6.3" height="18.0" fill="url(#ptG)"/>
<rect x="191.6" y="1520.1" width="20.1" height="18.0" fill="url(#ptG)"/>
<rect x="205.3" y="1520.1" width="5.3" height="18.0" fill="#fde725"/>
<rect x="82.1" y="1538.1" width="16.4" height="9.5" fill="url(#ptt)"/>
<rect x="98.5" y="1538.1" width="14.8" height="9.5" fill="url(#ptg)"/>
<rect x="113.3" y="1538.1" width="19.0" height="9.5" fill="url(#ptt)"/>
<rect x="132.4" y="1538.1" width="25.4" height="9.5" fill="url(#ptg)"/>
<rect x="154.6" y="1538.1" width="3.2" height="9.5" fill="#fde725"/>
<rect x="171.5" y="1538.1" width="10.6" height="9.5" fill="url(#ptG)"/>
<rect x="182.1" y="1538.1" width="29.6" height="9.5" fill="url(#ptt)"/>
<rect x="195.8" y="1538.1" width="2.1" height="9.5" fill="#fde725"/>
<rect x="211.7" y="1538.1" width="8.5" height="9.5" fill="#fde725"/>
<rect x="220.1" y="1538.1" width="22.2" height="9.5" fill="url(#ptb)"/>
<rect x="54.6" y="1556.1" width="17.4" height="8.5" fill="#fde725"/>
<rect x="72.1" y="1556.1" width="10.0" height="8.5" fill="url(#ptt)"/>
<rect x="82.1" y="1547.6" width="7.9" height="8.5" fill="#fde725"/>
<rect x="90.1" y="1556.1" width="8.5" height="8.5" fill="#fde725"/>
<rect x="82.1" y="1556.1" width="7.9" height="8.5" fill="url(#ptg)"/>
<rect x="98.5" y="1547.6" width="14.8" height="16.9" fill="url(#ptb)"/>
<rect x="113.3" y="1547.6" width="7.4" height="16.9" fill="#fde725"/>
<rect x="120.7" y="1547.6" width="6.3" height="8.5" fill="url(#ptG)"/>
<rect x="120.7" y="1556.1" width="6.3" height="8.5" fill="#fde725"/>
<rect x="127.1" y="1547.6" width="10.6" height="16.9" fill="url(#ptb)"/>
<rect x="137.6" y="1547.6" width="4.2" height="16.9" fill="#fde725"/>
<rect x="147.2" y="1556.1" width="3.2" height="8.5" fill="#fde725"/>
<rect x="150.3" y="1556.1" width="9.5" height="8.5" fill="url(#ptG)"/>
<rect x="157.7" y="1556.1" width="4.2" height="8.5" fill="#fde725"/>
<rect x="162.0" y="1556.1" width="8.5" height="8.5" fill="url(#ptt)"/>
<rect x="170.4" y="1547.6" width="12.7" height="16.9" fill="url(#ptb)"/>
<rect x="185.2" y="1547.6" width="3.2" height="16.9" fill="#fde725"/>
<rect x="188.4" y="1547.6" width="9.5" height="16.9" fill="url(#ptg)"/>
<rect x="197.9" y="1556.1" width="12.7" height="8.5" fill="#fde725"/>
<rect x="210.6" y="1547.6" width="9.5" height="16.9" fill="url(#ptb)"/>
<rect x="72.1" y="1564.5" width="18.0" height="8.5" fill="url(#ptg)"/>
<rect x="82.7" y="1573.0" width="7.4" height="7.4" fill="url(#ptt)"/>
<rect x="98.5" y="1564.5" width="15.3" height="15.9" fill="#fde725"/>
<rect x="113.9" y="1564.5" width="18.5" height="15.9" fill="url(#ptt)"/>
<rect x="132.4" y="1564.5" width="29.6" height="8.5" fill="url(#ptb)"/>
<rect x="162.0" y="1564.5" width="8.5" height="15.9" fill="#fde725"/>
<rect x="170.4" y="1564.5" width="11.6" height="8.5" fill="url(#ptt)"/>
<rect x="182.1" y="1564.5" width="4.2" height="15.9" fill="#fde725"/>
<rect x="186.3" y="1564.5" width="24.3" height="15.9" fill="url(#ptg)"/>
<rect x="210.6" y="1564.5" width="9.5" height="8.5" fill="url(#ptG)"/>
<rect x="220.1" y="1564.5" width="22.2" height="8.5" fill="url(#ptt)"/>
<rect x="220.1" y="1573.0" width="22.2" height="7.4" fill="url(#ptb)"/>
<rect x="54.6" y="1580.4" width="17.4" height="7.4" fill="url(#ptt)"/>
<rect x="54.6" y="1594.1" width="17.4" height="6.3" fill="url(#ptg)"/>
<rect x="82.7" y="1580.4" width="7.4" height="7.4" fill="#fde725"/>
<rect x="82.7" y="1587.8" width="15.9" height="12.7" fill="url(#ptg)"/>
<rect x="90.1" y="1580.4" width="8.5" height="7.4" fill="url(#ptG)"/>
<rect x="113.9" y="1580.4" width="13.2" height="11.6" fill="#fde725"/>
<rect x="113.9" y="1592.0" width="18.5" height="8.5" fill="url(#ptg)"/>
<rect x="127.1" y="1594.1" width="5.3" height="6.3" fill="#fde725"/>
<rect x="137.6" y="1580.4" width="4.2" height="7.4" fill="#fde725"/>
<rect x="137.6" y="1587.8" width="23.3" height="12.7" fill="url(#ptt)"/>
<rect x="154.6" y="1580.4" width="3.2" height="7.4" fill="#fde725"/>
<rect x="171.5" y="1594.1" width="10.6" height="6.3" fill="url(#ptg)"/>
<rect x="185.2" y="1580.4" width="26.4" height="20.1" fill="url(#ptG)"/>
<rect x="197.9" y="1586.7" width="12.7" height="11.6" fill="#fde725"/>
<rect x="211.7" y="1580.4" width="8.5" height="7.4" fill="url(#ptG)"/>
<rect x="211.7" y="1587.8" width="8.5" height="12.7" fill="url(#ptb)"/>
<rect x="98.5" y="1600.5" width="14.8" height="28.5" fill="url(#ptb)"/>
<rect x="132.4" y="1600.5" width="29.6" height="28.5" fill="url(#ptb)"/>
<rect x="132.9" y="1601.0" width="3.2" height="3.2" fill="#fde725"/>
<rect x="137.3" y="1605.2" width="3.2" height="3.2" fill="#fde725"/>
<rect x="141.7" y="1609.5" width="3.2" height="3.2" fill="#fde725"/>
<rect x="146.1" y="1613.7" width="3.2" height="3.2" fill="#fde725"/>
<rect x="150.5" y="1617.9" width="3.2" height="3.2" fill="#fde725"/>
<rect x="154.9" y="1622.1" width="3.2" height="3.2" fill="#fde725"/>
<rect x="159.3" y="1626.4" width="3.2" height="3.2" fill="#fde725"/>
<rect x="159.7" y="1601.4" width="2.3" height="2.3" fill="#fde725"/>
<rect x="155.3" y="1605.7" width="2.3" height="2.3" fill="#fde725"/>
<rect x="150.9" y="1609.9" width="2.3" height="2.3" fill="#fde725"/>
<rect x="146.5" y="1614.1" width="2.3" height="2.3" fill="#fde725"/>
<rect x="142.1" y="1618.3" width="2.3" height="2.3" fill="#fde725"/>
<rect x="137.7" y="1622.6" width="2.3" height="2.3" fill="#fde725"/>
<rect x="133.3" y="1626.8" width="2.3" height="2.3" fill="#fde725"/>
<rect x="54.6" y="1605.8" width="17.4" height="3.2" fill="url(#ptg)"/>
<rect x="54.6" y="1614.2" width="17.4" height="3.7" fill="#fde725"/>
<rect x="82.7" y="1605.8" width="15.9" height="3.2" fill="#fde725"/>
<rect x="90.1" y="1614.2" width="8.5" height="3.7" fill="#fde725"/>
<rect x="82.7" y="1622.7" width="7.4" height="3.7" fill="#fde725"/>
<rect x="113.9" y="1605.8" width="13.2" height="3.2" fill="#fde725"/>
<rect x="113.9" y="1614.2" width="13.2" height="3.7" fill="url(#ptg)"/>
<rect x="113.9" y="1622.7" width="13.2" height="3.7" fill="#fde725"/>
<rect x="72.1" y="1600.5" width="10.6" height="3.2" fill="url(#ptG)"/>
<rect x="72.1" y="1622.7" width="10.6" height="3.7" fill="url(#ptt)"/>
<rect x="184.2" y="1605.8" width="26.4" height="3.2" fill="url(#ptG)"/>
<rect x="184.2" y="1614.2" width="26.4" height="3.7" fill="url(#ptL)"/>
<rect x="186.3" y="1622.7" width="33.8" height="3.7" fill="url(#ptg)"/>
<rect x="211.7" y="1622.7" width="8.5" height="3.7" fill="#fde725"/>
<rect x="220.1" y="1600.5" width="22.2" height="5.3" fill="#fde725"/>
<rect x="220.1" y="1608.9" width="22.2" height="4.2" fill="url(#ptt)"/>
<rect x="98.5" y="1630.1" width="15.3" height="9.5" fill="url(#ptL)"/>
<rect x="162.0" y="1630.1" width="8.5" height="9.5" fill="#fde725"/>
<rect x="171.5" y="1639.6" width="10.6" height="10.6" fill="#fde725"/>
<rect x="72.1" y="1639.6" width="10.6" height="10.6" fill="url(#ptt)"/>
<rect x="211.7" y="1639.6" width="8.5" height="10.6" fill="url(#ptG)"/>
<rect x="220.1" y="1630.1" width="22.2" height="5.3" fill="url(#ptt)"/>
<rect x="182.1" y="1630.1" width="4.2" height="9.5" fill="#fde725"/>
<rect x="186.3" y="1630.1" width="13.7" height="9.5" fill="url(#ptb)"/>
<rect x="54.6" y="1654.4" width="17.4" height="7.4" fill="url(#ptg)"/>
<rect x="72.1" y="1665.0" width="10.6" height="2.1" fill="url(#ptL)"/>
<rect x="98.5" y="1654.4" width="28.5" height="7.4" fill="url(#ptg)"/>
<rect x="82.7" y="1654.4" width="15.9" height="7.4" fill="#fde725"/>
<rect x="82.7" y="1661.8" width="15.9" height="4.2" fill="url(#ptG)"/>
<rect x="98.5" y="1651.2" width="14.8" height="3.2" fill="#fde725"/>
<rect x="113.9" y="1654.4" width="13.2" height="3.2" fill="#fde725"/>
<rect x="90.1" y="1673.4" width="8.5" height="6.3" fill="#fde725"/>
<rect x="54.6" y="1673.4" width="17.4" height="3.2" fill="#fde725"/>
<rect x="137.6" y="1654.4" width="4.2" height="3.2" fill="#fde725"/>
<rect x="137.6" y="1657.6" width="32.8" height="8.5" fill="url(#ptg)"/>
<rect x="153.5" y="1666.0" width="16.9" height="2.1" fill="#fde725"/>
<rect x="162.0" y="1651.2" width="8.5" height="3.2" fill="#fde725"/>
<rect x="182.1" y="1651.2" width="29.6" height="25.4" fill="url(#ptt)"/>
<rect x="182.7" y="1650.8" width="3.0" height="3.0" fill="#fde725"/>
<rect x="186.5" y="1654.4" width="3.0" height="3.0" fill="#fde725"/>
<rect x="190.2" y="1658.0" width="3.0" height="3.0" fill="#fde725"/>
<rect x="194.0" y="1661.7" width="3.0" height="3.0" fill="#fde725"/>
<rect x="197.8" y="1665.3" width="3.0" height="3.0" fill="#fde725"/>
<rect x="201.6" y="1668.9" width="3.0" height="3.0" fill="#fde725"/>
<rect x="205.3" y="1672.5" width="3.0" height="3.0" fill="#fde725"/>
<rect x="209.1" y="1676.2" width="3.0" height="3.0" fill="#fde725"/>
<rect x="207.5" y="1653.4" width="1.9" height="1.9" fill="#fde725"/>
<rect x="203.3" y="1657.5" width="1.9" height="1.9" fill="#fde725"/>
<rect x="199.1" y="1661.5" width="1.9" height="1.9" fill="#fde725"/>
<rect x="194.8" y="1665.5" width="1.9" height="1.9" fill="#fde725"/>
<rect x="190.6" y="1669.5" width="1.9" height="1.9" fill="#fde725"/>
<rect x="186.4" y="1673.5" width="1.9" height="1.9" fill="#fde725"/>
<rect x="211.7" y="1654.4" width="8.5" height="3.2" fill="url(#ptt)"/>
<rect x="211.7" y="1665.0" width="8.5" height="2.1" fill="#fde725"/>
<rect x="121.8" y="1671.3" width="5.3" height="5.3" fill="#fde725"/>
<rect x="145.0" y="1668.1" width="6.3" height="3.2" fill="#fde725"/>
<rect x="157.7" y="1673.4" width="4.2" height="3.2" fill="#fde725"/>
<rect x="72.1" y="1680.8" width="18.0" height="9.5" fill="url(#ptG)"/>
<rect x="98.5" y="1680.8" width="28.5" height="9.5" fill="url(#ptg)"/>
<rect x="137.6" y="1680.8" width="4.2" height="9.5" fill="url(#ptg)"/>
<rect x="154.6" y="1680.8" width="3.2" height="9.5" fill="#fde725"/>
<rect x="171.5" y="1680.8" width="10.6" height="9.5" fill="url(#ptL)"/>
<rect x="185.2" y="1680.8" width="6.3" height="9.5" fill="url(#ptg)"/>
<rect x="195.8" y="1680.8" width="2.1" height="9.5" fill="#fde725"/>
<rect x="211.7" y="1680.8" width="8.5" height="9.5" fill="#fde725"/>
<rect x="133.4" y="1691.4" width="4.2" height="16.9" fill="#fde725"/>
<rect x="162.0" y="1691.4" width="8.5" height="16.9" fill="url(#ptg)"/>
<rect x="221.2" y="1691.4" width="21.1" height="16.9" fill="#fde725"/>
<rect x="98.5" y="1691.4" width="14.8" height="16.9" fill="url(#ptb)"/>
<rect x="249.1" y="1520.1" width="15.3" height="16.9" fill="url(#ptL)"/>
<rect x="264.4" y="1520.1" width="15.9" height="16.9" fill="url(#ptg)"/>
<rect x="280.3" y="1520.1" width="5.3" height="16.9" fill="url(#ptG)"/>
<rect x="285.6" y="1520.1" width="10.6" height="16.9" fill="url(#ptb)"/>
<rect x="296.2" y="1520.1" width="9.5" height="16.9" fill="url(#ptG)"/>
<rect x="305.7" y="1520.1" width="7.4" height="16.9" fill="url(#ptb)"/>
<rect x="313.1" y="1520.1" width="5.3" height="8.5" fill="#fde725"/>
<rect x="313.1" y="1528.6" width="8.5" height="8.5" fill="url(#ptG)"/>
<rect x="321.5" y="1520.1" width="20.1" height="16.9" fill="url(#ptb)"/>
<rect x="341.6" y="1520.1" width="4.2" height="16.9" fill="url(#ptg)"/>
<rect x="345.8" y="1520.1" width="19.0" height="16.9" fill="url(#ptb)"/>
<rect x="364.9" y="1520.1" width="8.5" height="8.5" fill="#fde725"/>
<rect x="364.9" y="1528.6" width="8.5" height="8.5" fill="url(#ptt)"/>
<rect x="373.3" y="1520.1" width="12.7" height="16.9" fill="url(#ptG)"/>
<rect x="386.0" y="1520.1" width="6.3" height="16.9" fill="url(#ptg)"/>
<rect x="392.4" y="1520.1" width="11.6" height="16.9" fill="url(#ptb)"/>
<rect x="404.0" y="1520.1" width="3.2" height="16.9" fill="url(#ptG)"/>
<rect x="411.4" y="1520.1" width="10.0" height="16.9" fill="url(#ptL)"/>
<rect x="238.0" y="1537.0" width="5.8" height="10.6" fill="url(#ptb)"/>
<rect x="243.8" y="1537.0" width="36.5" height="10.6" fill="url(#ptg)"/>
<rect x="280.3" y="1537.0" width="15.9" height="10.6" fill="url(#ptb)"/>
<rect x="305.7" y="1537.0" width="6.3" height="10.6" fill="url(#ptb)"/>
<rect x="312.0" y="1537.0" width="6.3" height="10.6" fill="url(#ptt)"/>
<rect x="318.4" y="1537.0" width="5.3" height="10.6" fill="#fde725"/>
<rect x="323.6" y="1537.0" width="7.4" height="10.6" fill="url(#ptb)"/>
<rect x="331.0" y="1537.0" width="10.6" height="10.6" fill="#fde725"/>
<rect x="335.3" y="1537.0" width="3.2" height="10.6" fill="url(#ptG)"/>
<rect x="341.6" y="1537.0" width="6.3" height="10.6" fill="url(#ptt)"/>
<rect x="348.0" y="1537.0" width="4.2" height="10.6" fill="#fde725"/>
<rect x="352.2" y="1537.0" width="3.2" height="10.6" fill="url(#ptb)"/>
<rect x="355.4" y="1537.0" width="9.0" height="10.6" fill="#fde725"/>
<rect x="364.3" y="1537.0" width="22.7" height="10.6" fill="url(#ptb)"/>
<rect x="387.1" y="1537.0" width="5.3" height="10.6" fill="url(#ptG)"/>
<rect x="392.4" y="1537.0" width="11.6" height="10.6" fill="#fde725"/>
<rect x="404.0" y="1537.0" width="4.2" height="10.6" fill="url(#ptb)"/>
<rect x="408.2" y="1537.0" width="3.2" height="10.6" fill="url(#ptG)"/>
<rect x="411.4" y="1537.0" width="10.0" height="10.6" fill="url(#ptt)"/>
<rect x="249.1" y="1556.1" width="15.3" height="8.5" fill="url(#ptg)"/>
<rect x="264.4" y="1556.1" width="10.6" height="8.5" fill="url(#ptb)"/>
<rect x="293.0" y="1556.1" width="12.7" height="8.5" fill="url(#ptt)"/>
<rect x="313.1" y="1556.1" width="6.3" height="8.5" fill="#fde725"/>
<rect x="341.6" y="1556.1" width="10.6" height="8.5" fill="url(#ptb)"/>
<rect x="364.9" y="1556.1" width="8.5" height="8.5" fill="url(#ptG)"/>
<rect x="373.3" y="1556.1" width="18.0" height="8.5" fill="url(#ptt)"/>
<rect x="402.9" y="1556.1" width="4.2" height="8.5" fill="url(#ptb)"/>
<rect x="411.4" y="1556.1" width="10.0" height="8.5" fill="url(#ptg)"/>
<rect x="238.0" y="1564.5" width="11.1" height="8.5" fill="url(#ptg)"/>
<rect x="264.4" y="1564.5" width="5.3" height="8.5" fill="url(#ptt)"/>
<rect x="275.0" y="1564.5" width="5.3" height="8.5" fill="url(#ptt)"/>
<rect x="290.9" y="1564.5" width="5.3" height="8.5" fill="url(#ptG)"/>
<rect x="305.7" y="1564.5" width="6.3" height="8.5" fill="url(#ptb)"/>
<rect x="346.9" y="1564.5" width="5.3" height="8.5" fill="#fde725"/>
<rect x="352.2" y="1564.5" width="12.2" height="8.5" fill="url(#ptt)"/>
<rect x="392.4" y="1564.5" width="11.6" height="8.5" fill="url(#ptg)"/>
<rect x="408.2" y="1564.5" width="3.2" height="8.5" fill="url(#ptt)"/>
<rect x="348.0" y="1573.0" width="7.4" height="19.0" fill="url(#ptb)"/>
<rect x="243.8" y="1594.1" width="68.2" height="6.3" fill="url(#ptb)"/>
<rect x="280.3" y="1594.1" width="8.5" height="6.3" fill="url(#ptt)"/>
<rect x="313.1" y="1594.1" width="5.3" height="6.3" fill="url(#ptG)"/>
<rect x="341.6" y="1594.1" width="4.2" height="6.3" fill="#fde725"/>
<rect x="345.8" y="1594.1" width="18.5" height="6.3" fill="url(#ptb)"/>
<rect x="364.3" y="1594.1" width="23.8" height="6.3" fill="#fde725"/>
<rect x="388.1" y="1594.1" width="4.2" height="6.3" fill="url(#ptG)"/>
<rect x="392.4" y="1594.1" width="11.6" height="6.3" fill="url(#ptb)"/>
<rect x="404.0" y="1594.1" width="3.2" height="6.3" fill="#fde725"/>
<rect x="409.3" y="1594.1" width="12.2" height="6.3" fill="#fde725"/>
<rect x="238.0" y="1600.5" width="5.8" height="5.3" fill="#fde725"/>
<rect x="243.8" y="1600.5" width="20.6" height="5.3" fill="url(#ptt)"/>
<rect x="264.4" y="1600.5" width="10.6" height="5.3" fill="url(#ptg)"/>
<rect x="275.0" y="1600.5" width="18.0" height="5.3" fill="url(#ptL)"/>
<rect x="293.0" y="1600.5" width="12.7" height="5.3" fill="url(#ptb)"/>
<rect x="305.7" y="1600.5" width="6.3" height="5.3" fill="url(#ptG)"/>
<rect x="312.0" y="1600.5" width="31.7" height="5.3" fill="url(#ptt)"/>
<rect x="355.4" y="1600.5" width="9.0" height="5.3" fill="url(#ptG)"/>
<rect x="387.1" y="1600.5" width="16.9" height="5.3" fill="url(#ptg)"/>
<rect x="269.7" y="1608.9" width="5.3" height="4.2" fill="#fde725"/>
<rect x="269.7" y="1617.9" width="5.3" height="4.2" fill="#fde725"/>
<rect x="249.1" y="1613.2" width="15.3" height="6.3" fill="url(#ptg)"/>
<rect x="296.2" y="1608.9" width="9.5" height="13.7" fill="url(#ptG)"/>
<rect x="313.1" y="1613.7" width="6.3" height="4.2" fill="#fde725"/>
<rect x="364.9" y="1608.9" width="8.5" height="13.7" fill="url(#ptG)"/>
<rect x="387.1" y="1608.9" width="5.3" height="4.2" fill="#fde725"/>
<rect x="387.1" y="1617.9" width="5.3" height="4.2" fill="#fde725"/>
<rect x="405.1" y="1613.2" width="16.4" height="6.3" fill="url(#ptb)"/>
<rect x="290.9" y="1626.9" width="21.1" height="8.5" fill="url(#ptb)"/>
<rect x="346.9" y="1622.7" width="5.3" height="6.3" fill="url(#ptL)"/>
<rect x="243.8" y="1639.6" width="5.3" height="11.6" fill="#fde725"/>
<rect x="313.1" y="1639.6" width="18.0" height="11.6" fill="url(#ptb)"/>
<rect x="331.0" y="1639.6" width="5.3" height="11.6" fill="url(#ptG)"/>
<rect x="337.4" y="1639.6" width="4.2" height="11.6" fill="url(#ptg)"/>
<rect x="346.9" y="1639.6" width="5.3" height="11.6" fill="url(#ptG)"/>
<rect x="355.4" y="1639.6" width="9.0" height="11.6" fill="url(#ptG)"/>
<rect x="387.1" y="1639.6" width="5.3" height="11.6" fill="url(#ptt)"/>
<rect x="392.4" y="1639.6" width="11.6" height="11.6" fill="#fde725"/>
<rect x="407.2" y="1639.6" width="3.7" height="11.6" fill="#fde725"/>
<rect x="248.6" y="1657.6" width="42.3" height="4.2" fill="url(#ptb)"/>
<rect x="296.2" y="1659.7" width="9.5" height="3.2" fill="url(#ptL)"/>
<rect x="312.0" y="1658.6" width="42.3" height="9.5" fill="url(#ptb)"/>
<rect x="248.6" y="1673.4" width="15.9" height="3.2" fill="url(#ptt)"/>
<rect x="296.2" y="1673.4" width="9.5" height="3.2" fill="url(#ptG)"/>
<rect x="313.1" y="1674.5" width="6.3" height="3.2" fill="#fde725"/>
<rect x="364.9" y="1675.5" width="8.5" height="3.2" fill="#fde725"/>
<rect x="411.4" y="1658.6" width="10.0" height="3.2" fill="url(#ptb)"/>
<rect x="411.4" y="1673.4" width="10.0" height="3.2" fill="url(#ptb)"/>
<rect x="243.8" y="1680.8" width="5.3" height="10.6" fill="#fde725"/>
<rect x="318.4" y="1680.8" width="5.3" height="10.6" fill="url(#ptg)"/>
<rect x="331.0" y="1680.8" width="5.3" height="10.6" fill="#fde725"/>
<rect x="337.4" y="1680.8" width="4.2" height="10.6" fill="#fde725"/>
<rect x="346.9" y="1680.8" width="5.3" height="10.6" fill="#fde725"/>
<rect x="355.4" y="1680.8" width="9.0" height="10.6" fill="url(#ptG)"/>
<rect x="392.4" y="1680.8" width="11.6" height="10.6" fill="#fde725"/>
<rect x="408.2" y="1680.8" width="3.2" height="10.6" fill="#fde725"/>
<rect x="238.0" y="1691.4" width="5.8" height="16.9" fill="#fde725"/>
<rect x="264.4" y="1694.6" width="5.3" height="13.7" fill="url(#ptg)"/>
<rect x="275.0" y="1691.4" width="5.3" height="16.9" fill="#fde725"/>
<rect x="280.3" y="1691.4" width="5.3" height="16.9" fill="url(#ptL)"/>
<rect x="285.6" y="1691.4" width="7.4" height="16.9" fill="#fde725"/>
<rect x="293.0" y="1691.4" width="12.7" height="16.9" fill="url(#ptt)"/>
<rect x="305.7" y="1691.4" width="6.3" height="16.9" fill="url(#ptL)"/>
<rect x="322.6" y="1694.6" width="8.5" height="13.7" fill="url(#ptb)"/>
<rect x="345.8" y="1691.4" width="1.6" height="16.9" fill="url(#ptL)"/>
<rect x="132.9" y="1705.0" width="4.8" height="9.5" fill="#fde725"/>
<rect x="162.0" y="1705.0" width="8.5" height="9.5" fill="url(#ptt)"/>
<rect x="170.4" y="1714.5" width="11.6" height="5.3" fill="#fde725"/>
<rect x="220.1" y="1705.0" width="22.2" height="9.5" fill="#fde725"/>
<rect x="98.5" y="1705.0" width="14.8" height="9.5" fill="url(#ptb)"/>
<rect x="211.7" y="1714.5" width="8.5" height="5.3" fill="url(#ptg)"/>
<rect x="55.2" y="1719.8" width="8.5" height="26.4" fill="url(#ptt)"/>
<rect x="63.6" y="1719.8" width="8.5" height="21.1" fill="url(#ptG)"/>
<rect x="72.1" y="1719.8" width="26.4" height="15.9" fill="url(#ptb)"/>
<rect x="90.1" y="1719.8" width="8.5" height="15.9" fill="url(#ptt)"/>
<rect x="98.5" y="1735.7" width="28.5" height="5.3" fill="url(#ptg)"/>
<rect x="127.1" y="1719.8" width="6.3" height="15.9" fill="url(#ptb)"/>
<rect x="133.4" y="1735.7" width="4.2" height="5.3" fill="url(#ptG)"/>
<rect x="141.9" y="1719.8" width="12.7" height="15.9" fill="url(#ptt)"/>
<rect x="141.9" y="1740.9" width="4.2" height="5.8" fill="#fde725"/>
<rect x="150.3" y="1740.9" width="4.2" height="5.8" fill="#fde725"/>
<rect x="162.0" y="1735.7" width="8.5" height="5.3" fill="url(#ptG)"/>
<rect x="182.1" y="1735.7" width="6.3" height="5.3" fill="url(#ptt)"/>
<rect x="197.9" y="1719.8" width="12.7" height="26.4" fill="url(#ptt)"/>
<rect x="220.1" y="1735.7" width="22.2" height="5.3" fill="url(#ptg)"/>
<rect x="55.2" y="1752.6" width="16.9" height="4.8" fill="url(#ptg)"/>
<rect x="63.6" y="1752.6" width="8.5" height="4.8" fill="url(#ptG)"/>
<rect x="72.1" y="1752.6" width="53.9" height="4.8" fill="url(#ptb)"/>
<rect x="127.1" y="1747.3" width="10.6" height="21.1" fill="url(#ptg)"/>
<rect x="133.4" y="1747.3" width="4.2" height="21.1" fill="url(#ptG)"/>
<rect x="141.9" y="1751.5" width="12.7" height="6.3" fill="url(#ptt)"/>
<rect x="162.0" y="1747.3" width="8.5" height="12.7" fill="url(#ptt)"/>
<rect x="182.1" y="1752.6" width="28.5" height="5.3" fill="url(#ptb)"/>
<rect x="98.5" y="1764.2" width="14.8" height="4.2" fill="url(#ptG)"/>
<rect x="55.2" y="1764.2" width="43.4" height="14.8" fill="url(#ptb)"/>
<rect x="162.0" y="1764.2" width="8.5" height="4.2" fill="#fde725"/>
<rect x="158.8" y="1768.4" width="11.6" height="10.6" fill="url(#ptL)"/>
<rect x="141.9" y="1768.4" width="4.2" height="9.5" fill="#fde725"/>
<rect x="150.3" y="1768.4" width="4.2" height="9.5" fill="#fde725"/>
<rect x="133.4" y="1778.0" width="4.2" height="2.1" fill="#fde725"/>
<rect x="182.1" y="1764.2" width="3.2" height="4.2" fill="#fde725"/>
<rect x="190.5" y="1768.4" width="4.2" height="9.5" fill="#fde725"/>
<rect x="204.3" y="1768.4" width="4.2" height="9.5" fill="#fde725"/>
<rect x="220.1" y="1747.3" width="22.2" height="14.8" fill="url(#ptL)"/>
<rect x="220.1" y="1762.1" width="22.2" height="5.3" fill="url(#ptG)"/>
<rect x="220.1" y="1767.4" width="22.2" height="10.6" fill="url(#ptt)"/>
<rect x="220.1" y="1778.0" width="22.2" height="7.4" fill="url(#ptL)"/>
<rect x="55.2" y="1786.4" width="8.5" height="5.3" fill="#fde725"/>
<rect x="63.6" y="1786.4" width="8.5" height="5.3" fill="url(#ptt)"/>
<rect x="72.1" y="1791.7" width="10.6" height="5.3" fill="#fde725"/>
<rect x="90.1" y="1786.4" width="8.5" height="5.3" fill="url(#ptG)"/>
<rect x="127.1" y="1786.4" width="6.3" height="5.3" fill="url(#ptt)"/>
<rect x="146.1" y="1786.4" width="4.2" height="5.3" fill="#fde725"/>
<rect x="170.4" y="1786.4" width="11.6" height="10.6" fill="url(#ptt)"/>
<rect x="192.6" y="1786.4" width="18.0" height="5.3" fill="url(#ptg)"/>
<rect x="205.3" y="1786.4" width="3.2" height="5.3" fill="#fde725"/>
<rect x="211.7" y="1791.7" width="8.5" height="5.3" fill="url(#ptG)"/>
<rect x="72.1" y="1804.4" width="10.6" height="4.2" fill="url(#ptb)"/>
<rect x="170.4" y="1804.4" width="11.6" height="4.2" fill="url(#ptb)"/>
<rect x="211.7" y="1804.4" width="8.5" height="4.2" fill="url(#ptt)"/>
<rect x="55.2" y="1815.0" width="15.9" height="4.2" fill="url(#ptt)"/>
<rect x="82.7" y="1815.0" width="15.9" height="4.2" fill="url(#ptt)"/>
<rect x="120.7" y="1815.0" width="6.3" height="4.2" fill="url(#ptG)"/>
<rect x="127.1" y="1815.0" width="6.3" height="4.2" fill="#fde725"/>
<rect x="170.4" y="1813.9" width="11.6" height="5.3" fill="url(#ptg)"/>
<rect x="187.3" y="1815.0" width="24.3" height="4.2" fill="url(#ptt)"/>
<rect x="72.1" y="1822.4" width="10.6" height="4.2" fill="url(#ptL)"/>
<rect x="82.7" y="1822.4" width="15.9" height="4.2" fill="url(#ptb)"/>
<rect x="98.5" y="1822.4" width="28.5" height="4.2" fill="url(#ptg)"/>
<rect x="154.6" y="1821.3" width="3.2" height="4.2" fill="#fde725"/>
<rect x="170.4" y="1822.4" width="11.6" height="4.2" fill="url(#ptL)"/>
<rect x="211.7" y="1822.4" width="8.5" height="4.2" fill="#fde725"/>
<rect x="72.1" y="1829.8" width="10.6" height="9.5" fill="#fde725"/>
<rect x="170.4" y="1829.8" width="11.6" height="9.5" fill="url(#ptL)"/>
<rect x="211.7" y="1829.8" width="8.5" height="9.5" fill="#fde725"/>
<rect x="133.4" y="1829.8" width="4.2" height="9.5" fill="url(#ptG)"/>
<rect x="98.5" y="1829.8" width="14.8" height="9.5" fill="url(#ptb)"/>
<rect x="55.2" y="1839.3" width="16.9" height="23.3" fill="url(#ptG)"/>
<rect x="55.2" y="1839.3" width="8.5" height="8.5" fill="url(#ptL)"/>
<rect x="90.1" y="1839.3" width="8.5" height="23.3" fill="url(#ptt)"/>
<rect x="127.1" y="1839.3" width="6.3" height="28.5" fill="#fde725"/>
<rect x="146.1" y="1839.3" width="4.2" height="8.5" fill="url(#ptL)"/>
<rect x="141.9" y="1847.7" width="12.7" height="14.8" fill="url(#ptt)"/>
<rect x="192.6" y="1839.3" width="3.2" height="23.3" fill="url(#ptb)"/>
<rect x="200.0" y="1839.3" width="2.1" height="8.5" fill="#fde725"/>
<rect x="205.3" y="1839.3" width="4.2" height="8.5" fill="#fde725"/>
<rect x="170.4" y="1847.7" width="11.6" height="14.8" fill="url(#ptb)"/>
<rect x="55.2" y="1862.5" width="16.9" height="5.3" fill="url(#ptt)"/>
<rect x="72.1" y="1862.5" width="10.6" height="16.9" fill="#fde725"/>
<rect x="72.1" y="1862.5" width="10.6" height="5.3" fill="url(#ptG)"/>
<rect x="141.9" y="1863.6" width="4.2" height="4.2" fill="#fde725"/>
<rect x="150.3" y="1863.6" width="4.2" height="4.2" fill="#fde725"/>
<rect x="170.4" y="1862.5" width="11.6" height="5.3" fill="url(#ptG)"/>
<rect x="170.4" y="1867.8" width="11.6" height="11.6" fill="#fde725"/>
<rect x="211.7" y="1862.5" width="8.5" height="5.3" fill="url(#ptt)"/>
<rect x="211.7" y="1867.8" width="8.5" height="11.6" fill="#fde725"/>
<rect x="200.0" y="1862.5" width="2.1" height="5.3" fill="#fde725"/>
<rect x="98.5" y="1863.6" width="14.8" height="15.9" fill="url(#ptt)"/>
<rect x="133.4" y="1867.8" width="4.2" height="11.6" fill="url(#ptt)"/>
<rect x="55.2" y="1879.5" width="16.9" height="4.2" fill="url(#ptL)"/>
<rect x="90.1" y="1879.5" width="8.5" height="4.2" fill="url(#ptG)"/>
<rect x="127.1" y="1879.5" width="6.3" height="4.2" fill="#fde725"/>
<rect x="141.9" y="1879.5" width="12.7" height="4.2" fill="url(#ptt)"/>
<rect x="170.4" y="1882.6" width="11.6" height="3.2" fill="#fde725"/>
<rect x="204.3" y="1879.5" width="4.2" height="4.2" fill="url(#ptG)"/>
<rect x="211.7" y="1882.6" width="8.5" height="3.2" fill="url(#ptt)"/>
<rect x="55.2" y="1887.9" width="16.9" height="9.7" fill="url(#ptG)"/>
<rect x="72.1" y="1887.9" width="10.6" height="9.7" fill="url(#ptt)"/>
<rect x="90.1" y="1887.9" width="8.5" height="9.7" fill="url(#ptG)"/>
<rect x="127.1" y="1887.9" width="6.3" height="9.7" fill="#fde725"/>
<rect x="146.1" y="1887.9" width="8.5" height="9.7" fill="url(#ptt)"/>
<rect x="192.6" y="1887.9" width="3.2" height="9.7" fill="url(#ptt)"/>
<rect x="204.3" y="1887.9" width="6.3" height="9.7" fill="url(#ptt)"/>
<rect x="238.0" y="1705.0" width="5.3" height="9.5" fill="#fde725"/>
<rect x="243.8" y="1714.5" width="5.3" height="5.3" fill="#fde725"/>
<rect x="264.4" y="1705.0" width="5.3" height="9.5" fill="url(#ptb)"/>
<rect x="275.0" y="1705.0" width="37.0" height="9.5" fill="url(#ptL)"/>
<rect x="296.2" y="1705.0" width="9.5" height="9.5" fill="url(#ptt)"/>
<rect x="345.8" y="1705.0" width="2.1" height="14.8" fill="url(#ptL)"/>
<rect x="392.4" y="1714.5" width="10.6" height="5.3" fill="url(#ptb)"/>
<rect x="408.2" y="1714.5" width="3.2" height="5.3" fill="url(#ptb)"/>
<rect x="249.6" y="1719.8" width="25.4" height="27.5" fill="#fde725"/>
<rect x="238.0" y="1735.7" width="5.8" height="5.3" fill="url(#ptt)"/>
<rect x="280.3" y="1719.8" width="5.3" height="15.9" fill="url(#ptG)"/>
<rect x="285.6" y="1719.8" width="10.6" height="15.9" fill="url(#ptb)"/>
<rect x="296.2" y="1719.8" width="9.5" height="15.9" fill="url(#ptG)"/>
<rect x="305.7" y="1719.8" width="6.3" height="15.9" fill="url(#ptL)"/>
<rect x="275.0" y="1735.7" width="37.0" height="6.3" fill="#fde725"/>
<rect x="275.0" y="1742.0" width="5.3" height="5.3" fill="url(#ptb)"/>
<rect x="280.3" y="1742.0" width="15.9" height="5.3" fill="url(#ptg)"/>
<rect x="296.2" y="1742.0" width="15.9" height="5.3" fill="#fde725"/>
<rect x="238.0" y="1747.3" width="5.8" height="38.1" fill="url(#ptL)"/>
<rect x="238.0" y="1764.2" width="5.8" height="14.8" fill="url(#ptt)"/>
<rect x="249.6" y="1752.6" width="25.4" height="5.3" fill="#fde725"/>
<rect x="263.4" y="1747.3" width="6.3" height="5.3" fill="#fde725"/>
<rect x="275.0" y="1747.3" width="21.1" height="10.6" fill="#fde725"/>
<rect x="296.2" y="1747.3" width="9.5" height="5.3" fill="url(#ptb)"/>
<rect x="305.7" y="1747.3" width="6.3" height="10.6" fill="#fde725"/>
<rect x="249.6" y="1757.9" width="25.4" height="6.3" fill="url(#ptt)"/>
<rect x="264.4" y="1764.2" width="5.3" height="4.2" fill="#fde725"/>
<rect x="269.7" y="1757.9" width="5.3" height="10.6" fill="url(#ptb)"/>
<rect x="275.0" y="1757.9" width="21.1" height="10.6" fill="url(#ptL)"/>
<rect x="296.2" y="1757.9" width="9.5" height="10.6" fill="url(#ptt)"/>
<rect x="305.7" y="1757.9" width="6.3" height="10.6" fill="#fde725"/>
<rect x="249.6" y="1768.4" width="25.4" height="10.6" fill="url(#ptG)"/>
<rect x="275.0" y="1768.4" width="5.3" height="10.6" fill="url(#ptt)"/>
<rect x="280.3" y="1768.4" width="15.9" height="10.6" fill="url(#ptg)"/>
<rect x="296.2" y="1768.4" width="9.5" height="10.6" fill="#fde725"/>
<rect x="305.7" y="1768.4" width="6.3" height="10.6" fill="url(#ptt)"/>
<rect x="249.6" y="1779.0" width="62.4" height="6.3" fill="url(#ptL)"/>
<rect x="269.7" y="1779.0" width="5.3" height="6.3" fill="url(#ptb)"/>
<rect x="296.2" y="1779.0" width="9.5" height="6.3" fill="url(#ptt)"/>
<rect x="313.1" y="1719.8" width="30.7" height="27.5" fill="url(#ptt)"/>
<rect x="343.7" y="1719.8" width="8.5" height="27.5" fill="url(#ptb)"/>
<rect x="364.9" y="1719.8" width="27.5" height="15.9" fill="url(#ptG)"/>
<rect x="364.9" y="1735.7" width="27.5" height="11.6" fill="url(#ptt)"/>
<rect x="387.1" y="1740.9" width="5.3" height="6.3" fill="#fde725"/>
<rect x="392.4" y="1719.8" width="10.6" height="27.5" fill="url(#ptb)"/>
<rect x="411.4" y="1719.8" width="10.0" height="15.9" fill="url(#ptG)"/>
<rect x="411.4" y="1735.7" width="10.0" height="11.6" fill="url(#ptt)"/>
<rect x="313.1" y="1751.5" width="30.7" height="6.3" fill="url(#ptt)"/>
<rect x="341.6" y="1751.5" width="4.2" height="6.3" fill="#fde725"/>
<rect x="364.9" y="1751.5" width="8.5" height="6.3" fill="url(#ptG)"/>
<rect x="373.3" y="1751.5" width="12.7" height="6.3" fill="#fde725"/>
<rect x="404.0" y="1751.5" width="3.2" height="6.3" fill="#fde725"/>
<rect x="411.4" y="1751.5" width="10.0" height="6.3" fill="url(#ptG)"/>
<rect x="322.6" y="1767.4" width="21.1" height="11.6" fill="url(#ptb)"/>
<rect x="352.2" y="1767.4" width="3.2" height="11.6" fill="#fde725"/>
<rect x="364.9" y="1767.4" width="21.1" height="11.6" fill="url(#ptb)"/>
<rect x="238.0" y="1787.5" width="74.0" height="8.5" fill="url(#ptb)"/>
<rect x="313.1" y="1786.4" width="5.3" height="6.3" fill="#fde725"/>
<rect x="318.4" y="1792.8" width="5.3" height="4.2" fill="#fde725"/>
<rect x="323.6" y="1786.4" width="20.1" height="10.6" fill="url(#ptg)"/>
<rect x="355.4" y="1791.7" width="9.5" height="5.3" fill="#fde725"/>
<rect x="364.9" y="1786.4" width="8.5" height="5.3" fill="#fde725"/>
<rect x="373.3" y="1786.4" width="19.0" height="5.3" fill="url(#ptt)"/>
<rect x="387.1" y="1791.7" width="15.9" height="5.3" fill="#fde725"/>
<rect x="402.9" y="1786.4" width="4.2" height="5.3" fill="url(#ptG)"/>
<rect x="409.3" y="1786.4" width="12.2" height="6.3" fill="url(#ptG)"/>
<rect x="323.6" y="1798.0" width="16.9" height="15.9" fill="url(#ptL)"/>
<rect x="348.0" y="1804.4" width="16.9" height="5.3" fill="url(#ptt)"/>
<rect x="392.4" y="1804.4" width="10.6" height="5.3" fill="url(#ptt)"/>
<rect x="243.3" y="1815.0" width="68.7" height="4.2" fill="url(#ptb)"/>
<rect x="280.3" y="1815.0" width="5.3" height="4.2" fill="url(#ptG)"/>
<rect x="313.1" y="1815.0" width="28.5" height="4.2" fill="url(#ptt)"/>
<rect x="341.6" y="1815.0" width="4.2" height="4.2" fill="#fde725"/>
<rect x="345.8" y="1815.0" width="19.0" height="4.2" fill="url(#ptt)"/>
<rect x="364.9" y="1815.0" width="21.1" height="4.2" fill="#fde725"/>
<rect x="386.0" y="1815.0" width="16.9" height="4.2" fill="url(#ptG)"/>
<rect x="404.0" y="1815.0" width="3.2" height="4.2" fill="#fde725"/>
<rect x="407.2" y="1815.0" width="14.3" height="4.2" fill="url(#ptG)"/>
<rect x="243.8" y="1821.3" width="5.3" height="5.3" fill="url(#ptG)"/>
<rect x="331.0" y="1822.4" width="4.2" height="4.2" fill="#fde725"/>
<rect x="348.0" y="1822.4" width="4.2" height="4.2" fill="#fde725"/>
<rect x="352.2" y="1822.4" width="12.7" height="4.2" fill="url(#ptG)"/>
<rect x="392.4" y="1822.4" width="10.6" height="4.2" fill="url(#ptG)"/>
<rect x="313.1" y="1829.8" width="5.3" height="9.5" fill="url(#ptt)"/>
<rect x="318.4" y="1829.8" width="5.3" height="9.5" fill="#fde725"/>
<rect x="331.0" y="1829.8" width="4.2" height="9.5" fill="#fde725"/>
<rect x="337.4" y="1829.8" width="4.2" height="9.5" fill="#fde725"/>
<rect x="348.0" y="1829.8" width="4.2" height="9.5" fill="url(#ptG)"/>
<rect x="355.4" y="1829.8" width="9.5" height="9.5" fill="#fde725"/>
<rect x="364.9" y="1829.8" width="21.1" height="9.5" fill="url(#ptt)"/>
<rect x="386.0" y="1829.8" width="16.9" height="9.5" fill="#fde725"/>
<rect x="402.9" y="1829.8" width="4.2" height="9.5" fill="url(#ptt)"/>
<rect x="407.2" y="1829.8" width="14.3" height="9.5" fill="url(#ptt)"/>
<rect x="313.1" y="1839.3" width="5.3" height="24.3" fill="url(#ptL)"/>
<rect x="341.6" y="1839.3" width="4.2" height="24.3" fill="#fde725"/>
<rect x="318.4" y="1847.7" width="23.3" height="15.9" fill="url(#ptt)"/>
<rect x="345.8" y="1839.3" width="9.5" height="24.3" fill="url(#ptb)"/>
<rect x="355.4" y="1847.7" width="9.5" height="10.6" fill="url(#ptt)"/>
<rect x="364.9" y="1839.3" width="21.1" height="8.5" fill="url(#ptG)"/>
<rect x="364.9" y="1847.7" width="21.1" height="13.7" fill="#fde725"/>
<rect x="386.0" y="1839.3" width="6.3" height="22.2" fill="url(#ptL)"/>
<rect x="402.9" y="1839.3" width="4.2" height="22.2" fill="#fde725"/>
<rect x="411.4" y="1839.3" width="10.0" height="22.2" fill="#fde725"/>
<rect x="318.4" y="1861.5" width="5.3" height="18.0" fill="#fde725"/>
<rect x="331.0" y="1867.8" width="4.2" height="11.6" fill="#fde725"/>
<rect x="337.4" y="1867.8" width="4.2" height="11.6" fill="#fde725"/>
<rect x="348.0" y="1867.8" width="4.2" height="11.6" fill="url(#ptG)"/>
<rect x="355.4" y="1861.5" width="9.5" height="18.0" fill="#fde725"/>
<rect x="364.9" y="1861.5" width="21.1" height="5.3" fill="url(#ptL)"/>
<rect x="386.0" y="1861.5" width="16.9" height="18.0" fill="#fde725"/>
<rect x="411.4" y="1867.8" width="10.0" height="11.6" fill="url(#ptb)"/>
<rect x="313.1" y="1879.5" width="30.7" height="4.2" fill="url(#ptt)"/>
<rect x="364.9" y="1879.5" width="42.3" height="4.2" fill="#fde725"/>
<rect x="407.2" y="1879.5" width="14.3" height="4.2" fill="#fde725"/>
<rect x="313.1" y="1886.9" width="5.3" height="10.8" fill="#fde725"/>
<rect x="318.4" y="1886.9" width="23.3" height="10.8" fill="url(#ptb)"/>
<rect x="341.6" y="1886.9" width="4.2" height="10.8" fill="#fde725"/>
<rect x="345.8" y="1886.9" width="9.5" height="10.8" fill="url(#ptg)"/>
<rect x="364.9" y="1886.9" width="21.1" height="10.8" fill="#fde725"/>
<rect x="386.0" y="1886.9" width="6.3" height="10.8" fill="url(#ptg)"/>
<rect x="392.4" y="1886.9" width="10.6" height="10.8" fill="url(#ptb)"/>
<rect x="402.9" y="1886.9" width="4.2" height="10.8" fill="#fde725"/>
<rect x="411.4" y="1886.9" width="10.0" height="10.8" fill="#fde725"/>
<rect x="243.8" y="1829.8" width="5.3" height="9.5" fill="url(#ptG)"/>
<rect x="249.6" y="1839.3" width="14.8" height="27.5" fill="url(#ptg)"/>
<rect x="269.7" y="1839.3" width="5.3" height="24.3" fill="url(#ptt)"/>
<rect x="280.3" y="1847.7" width="5.3" height="13.7" fill="#fde725"/>
<rect x="286.6" y="1847.7" width="3.2" height="13.7" fill="#fde725"/>
<rect x="296.2" y="1839.3" width="9.5" height="24.3" fill="url(#ptt)"/>
<rect x="269.7" y="1863.6" width="5.3" height="4.2" fill="#fde725"/>
<rect x="243.8" y="1866.8" width="5.3" height="12.7" fill="url(#ptG)"/>
<rect x="249.6" y="1879.5" width="14.8" height="4.2" fill="url(#ptt)"/>
<rect x="280.3" y="1879.5" width="5.3" height="4.2" fill="url(#ptG)"/>
<rect x="296.2" y="1879.5" width="9.5" height="4.2" fill="url(#ptb)"/>
<rect x="249.6" y="1887.9" width="14.8" height="9.7" fill="url(#ptG)"/>
<rect x="264.4" y="1887.9" width="10.6" height="9.7" fill="url(#ptt)"/>
<rect x="280.3" y="1887.9" width="5.3" height="9.7" fill="url(#ptG)"/>
<rect x="296.2" y="1887.9" width="9.5" height="9.7" fill="url(#ptb)"/>
</g></svg>
<text x="429.7" y="1511.7" font-size="16.6">Cell lineage</text>
<text x="427.3" y="1535.1" font-size="16.6">Endothelial</text>
<text x="427.3" y="1627.3" font-size="16.6">Epithelial</text>
<text x="427.3" y="1707.0" font-size="16.6">Erythroid</text>
<text x="427.3" y="1729.5" font-size="16.6">Germ</text>
<text x="427.3" y="1755.7" font-size="16.6">Immune</text>
<text x="427.3" y="1796.2" font-size="16.6">Muscle</text>
<text x="427.3" y="1816.7" font-size="16.6">Neuron</text>
<text x="427.3" y="1831.1" font-size="16.6">Proliferating</text>
<text x="427.3" y="1849.1" font-size="16.6">Secretory</text>
<text x="427.3" y="1870.7" font-size="16.6">Mesenchymal</text>
<text x="41.2" y="1915.8" font-size="16.6">Cell lineage</text>
<text x="32.2" y="1872.3" font-size="16.3" textLength="333.6" lengthAdjust="spacingAndGlyphs" transform="rotate(-90 32.2 1872.3)">NvWA-predicted cell type-specific transcription</text>
<line x1="423.1" y1="1716.0" x2="426.7" y2="1717.5" stroke="#000" stroke-width="1.6"/>
<text x="763.0" y="1468.1" font-size="26" text-anchor="middle">Mouse</text>
<text x="571.1" y="1494.5" font-size="16.3">Observed cell type-specific transcription</text>
<rect x="568.7" y="1503.5" width="6.6" height="13.5" fill="#E41A1C"/>
<rect x="575.0" y="1503.5" width="54.1" height="13.5" fill="#E7298A"/>
<rect x="628.8" y="1503.5" width="55.3" height="13.5" fill="#4DAF4A"/>
<rect x="683.8" y="1503.5" width="8.4" height="13.5" fill="#CCEBC5"/>
<rect x="691.9" y="1503.5" width="10.2" height="13.5" fill="#984EA3"/>
<rect x="701.8" y="1503.5" width="88.9" height="13.5" fill="#1B9E77"/>
<rect x="790.4" y="1503.5" width="6.3" height="13.5" fill="#66A61E"/>
<rect x="796.5" y="1503.5" width="29.7" height="13.5" fill="#D95F02"/>
<rect x="825.9" y="1503.5" width="27.3" height="13.5" fill="#A6761D"/>
<rect x="853.0" y="1503.5" width="7.8" height="13.5" fill="#E6AB02"/>
<rect x="860.5" y="1503.5" width="75.4" height="13.5" fill="#7570B3"/>
<rect x="554.0" y="1520.1" width="13.5" height="6.9" fill="#E41A1C"/>
<rect x="554.0" y="1526.7" width="13.5" height="55.9" fill="#E7298A"/>
<rect x="554.0" y="1582.3" width="13.5" height="56.5" fill="#4DAF4A"/>
<rect x="554.0" y="1638.5" width="13.5" height="9.6" fill="#CCEBC5"/>
<rect x="554.0" y="1647.8" width="13.5" height="9.9" fill="#984EA3"/>
<rect x="554.0" y="1657.4" width="13.5" height="92.0" fill="#1B9E77"/>
<rect x="554.0" y="1749.0" width="13.5" height="5.4" fill="#66A61E"/>
<rect x="554.0" y="1754.2" width="13.5" height="30.3" fill="#D95F02"/>
<rect x="554.0" y="1784.2" width="13.5" height="29.1" fill="#A6761D"/>
<rect x="554.0" y="1813.1" width="13.5" height="7.5" fill="#E6AB02"/>
<rect x="554.0" y="1820.3" width="13.5" height="77.8" fill="#7570B3"/>
<rect x="568.7" y="1520.1" width="366.9" height="377.7" fill="#440154"/>
<svg x="568.7" y="1520.1" width="366.9" height="377.7" overflow="hidden"><g transform="translate(-568.68,-1520.07)">
<rect x="568.6" y="1520.1" width="3.7" height="6.3" fill="#fde725"/>
<rect x="582.9" y="1522.2" width="27.5" height="3.2" fill="url(#ptb)"/>
<rect x="612.5" y="1520.1" width="15.9" height="6.3" fill="url(#ptg)"/>
<rect x="636.8" y="1522.2" width="56.0" height="4.2" fill="url(#ptb)"/>
<rect x="701.3" y="1520.1" width="9.5" height="6.3" fill="url(#ptG)"/>
<rect x="735.2" y="1522.2" width="5.3" height="4.2" fill="url(#ptb)"/>
<rect x="748.9" y="1522.2" width="7.1" height="4.2" fill="url(#ptg)"/>
<rect x="575.0" y="1526.5" width="7.9" height="8.5" fill="#fde725"/>
<rect x="610.4" y="1526.5" width="3.2" height="8.5" fill="#fde725"/>
<rect x="617.8" y="1526.5" width="7.4" height="8.5" fill="url(#ptg)"/>
<rect x="692.9" y="1526.5" width="2.6" height="8.5" fill="#fde725"/>
<rect x="582.9" y="1534.9" width="27.5" height="27.5" fill="#fde725"/>
<rect x="582.9" y="1542.8" width="27.5" height="4.8" fill="url(#ptL)"/>
<rect x="568.6" y="1534.9" width="6.3" height="27.5" fill="url(#ptt)"/>
<rect x="575.0" y="1542.3" width="7.9" height="6.3" fill="url(#ptL)"/>
<rect x="610.4" y="1534.9" width="3.2" height="27.5" fill="url(#ptb)"/>
<rect x="613.6" y="1534.9" width="4.2" height="27.5" fill="#fde725"/>
<rect x="617.8" y="1534.9" width="9.5" height="27.5" fill="url(#ptb)"/>
<rect x="627.3" y="1534.9" width="2.1" height="27.5" fill="#fde725"/>
<rect x="636.8" y="1534.9" width="7.4" height="27.5" fill="#fde725"/>
<rect x="648.5" y="1534.9" width="9.5" height="27.5" fill="url(#ptt)"/>
<rect x="658.0" y="1534.9" width="4.2" height="27.5" fill="#fde725"/>
<rect x="662.2" y="1534.9" width="6.3" height="27.5" fill="url(#ptg)"/>
<rect x="668.6" y="1534.9" width="6.3" height="27.5" fill="#fde725"/>
<rect x="674.9" y="1534.9" width="8.5" height="27.5" fill="url(#ptt)"/>
<rect x="683.4" y="1534.9" width="9.5" height="27.5" fill="url(#ptG)"/>
<rect x="692.9" y="1534.9" width="3.2" height="27.5" fill="url(#ptb)"/>
<rect x="696.1" y="1534.9" width="3.2" height="27.5" fill="url(#ptL)"/>
<rect x="701.3" y="1534.9" width="9.5" height="27.5" fill="url(#ptt)"/>
<rect x="734.1" y="1534.9" width="5.8" height="27.5" fill="#fde725"/>
<rect x="748.9" y="1534.9" width="4.2" height="27.5" fill="url(#ptt)"/>
<rect x="575.0" y="1562.4" width="7.9" height="19.0" fill="url(#ptL)"/>
<rect x="610.4" y="1562.4" width="19.0" height="19.0" fill="url(#ptL)"/>
<rect x="582.9" y="1569.8" width="27.5" height="2.1" fill="url(#ptG)"/>
<rect x="582.9" y="1578.3" width="27.5" height="2.1" fill="url(#ptG)"/>
<rect x="636.8" y="1568.8" width="7.4" height="3.2" fill="#fde725"/>
<rect x="658.0" y="1568.8" width="34.9" height="3.2" fill="url(#ptb)"/>
<rect x="734.1" y="1568.8" width="6.3" height="3.2" fill="url(#ptb)"/>
<rect x="692.9" y="1562.4" width="2.6" height="19.0" fill="url(#ptL)"/>
<rect x="629.4" y="1582.5" width="7.4" height="7.4" fill="#fde725"/>
<rect x="644.2" y="1582.5" width="13.7" height="7.4" fill="#fde725"/>
<rect x="662.2" y="1582.5" width="6.3" height="7.4" fill="url(#ptG)"/>
<rect x="674.9" y="1582.5" width="8.5" height="7.4" fill="#fde725"/>
<rect x="710.9" y="1582.5" width="6.3" height="7.4" fill="url(#ptt)"/>
<rect x="717.2" y="1582.5" width="18.0" height="7.4" fill="#fde725"/>
<rect x="740.5" y="1582.5" width="11.6" height="7.4" fill="#fde725"/>
<rect x="582.9" y="1589.9" width="27.5" height="7.4" fill="#fde725"/>
<rect x="568.6" y="1589.9" width="6.3" height="7.4" fill="url(#ptL)"/>
<rect x="613.6" y="1589.9" width="5.3" height="7.4" fill="#fde725"/>
<rect x="625.2" y="1589.9" width="2.1" height="7.4" fill="#fde725"/>
<rect x="636.8" y="1589.9" width="7.4" height="7.4" fill="#fde725"/>
<rect x="662.2" y="1589.9" width="6.3" height="7.4" fill="url(#ptG)"/>
<rect x="668.6" y="1589.9" width="6.3" height="7.4" fill="#fde725"/>
<rect x="674.9" y="1589.9" width="8.5" height="7.4" fill="url(#ptt)"/>
<rect x="683.4" y="1589.9" width="9.5" height="7.4" fill="url(#ptG)"/>
<rect x="701.3" y="1589.9" width="9.5" height="7.4" fill="url(#ptg)"/>
<rect x="735.2" y="1589.9" width="5.3" height="7.4" fill="#fde725"/>
<rect x="629.4" y="1597.3" width="7.4" height="15.9" fill="#fde725"/>
<rect x="644.2" y="1597.3" width="13.7" height="15.9" fill="#fde725"/>
<rect x="662.2" y="1597.3" width="21.1" height="15.9" fill="#fde725"/>
<rect x="666.4" y="1597.3" width="8.5" height="15.9" fill="url(#ptL)"/>
<rect x="683.4" y="1602.6" width="9.5" height="10.6" fill="url(#ptt)"/>
<rect x="702.4" y="1597.3" width="8.5" height="15.9" fill="url(#ptt)"/>
<rect x="710.9" y="1597.3" width="24.3" height="15.9" fill="url(#ptL)"/>
<rect x="740.5" y="1597.3" width="11.6" height="15.9" fill="#fde725"/>
<rect x="568.6" y="1604.7" width="58.7" height="5.3" fill="url(#ptb)"/>
<rect x="582.9" y="1612.6" width="27.5" height="4.8" fill="#fde725"/>
<rect x="629.4" y="1613.2" width="7.4" height="4.2" fill="url(#ptb)"/>
<rect x="636.8" y="1613.2" width="7.4" height="4.2" fill="#fde725"/>
<rect x="658.0" y="1613.2" width="34.9" height="4.2" fill="url(#ptL)"/>
<rect x="735.2" y="1613.2" width="5.3" height="4.2" fill="#fde725"/>
<rect x="702.4" y="1613.2" width="49.7" height="4.2" fill="url(#ptt)"/>
<rect x="582.9" y="1617.4" width="27.5" height="6.3" fill="url(#ptt)"/>
<rect x="629.4" y="1617.4" width="53.9" height="6.3" fill="url(#ptL)"/>
<rect x="629.4" y="1617.4" width="7.4" height="6.3" fill="#fde725"/>
<rect x="644.2" y="1617.4" width="13.7" height="6.3" fill="#fde725"/>
<rect x="683.4" y="1617.4" width="9.5" height="6.3" fill="url(#ptg)"/>
<rect x="702.4" y="1617.4" width="8.5" height="6.3" fill="url(#ptG)"/>
<rect x="717.2" y="1617.4" width="18.0" height="6.3" fill="url(#ptG)"/>
<rect x="740.5" y="1617.4" width="11.6" height="6.3" fill="url(#ptG)"/>
<rect x="582.9" y="1623.7" width="27.5" height="6.3" fill="url(#ptG)"/>
<rect x="568.6" y="1623.7" width="6.3" height="6.3" fill="#fde725"/>
<rect x="629.4" y="1623.7" width="63.4" height="6.3" fill="url(#ptg)"/>
<rect x="702.4" y="1623.7" width="49.7" height="6.3" fill="url(#ptt)"/>
<rect x="568.6" y="1630.1" width="58.7" height="8.5" fill="url(#ptb)"/>
<rect x="629.4" y="1630.1" width="7.4" height="8.5" fill="#fde725"/>
<rect x="644.2" y="1630.1" width="13.7" height="8.5" fill="#fde725"/>
<rect x="662.2" y="1630.1" width="12.7" height="8.5" fill="#fde725"/>
<rect x="674.9" y="1630.1" width="18.0" height="8.5" fill="url(#ptg)"/>
<rect x="710.9" y="1630.1" width="24.3" height="8.5" fill="url(#ptL)"/>
<rect x="740.5" y="1630.1" width="11.6" height="8.5" fill="#fde725"/>
<rect x="702.4" y="1630.1" width="8.5" height="8.5" fill="url(#ptt)"/>
<rect x="684.4" y="1638.5" width="7.4" height="8.5" fill="#fde725"/>
<rect x="691.8" y="1647.0" width="9.5" height="8.5" fill="url(#ptL)"/>
<rect x="575.0" y="1648.1" width="7.9" height="3.2" fill="#fde725"/>
<rect x="622.0" y="1648.1" width="3.2" height="7.4" fill="url(#ptL)"/>
<rect x="568.6" y="1656.5" width="6.3" height="9.5" fill="url(#ptL)"/>
<rect x="701.3" y="1656.5" width="9.5" height="9.5" fill="#fde725"/>
<rect x="710.9" y="1656.5" width="24.3" height="9.5" fill="url(#ptg)"/>
<rect x="740.5" y="1656.5" width="11.6" height="9.5" fill="url(#ptt)"/>
<rect x="752.1" y="1656.5" width="3.9" height="51.5" fill="#fde725"/>
<rect x="629.4" y="1655.5" width="63.4" height="16.9" fill="url(#ptb)"/>
<rect x="710.9" y="1666.0" width="7.4" height="6.3" fill="#fde725"/>
<rect x="718.3" y="1666.0" width="6.3" height="6.3" fill="url(#ptt)"/>
<rect x="724.6" y="1666.0" width="10.6" height="6.3" fill="url(#ptG)"/>
<rect x="740.5" y="1666.0" width="11.6" height="6.3" fill="url(#ptG)"/>
<rect x="692.9" y="1666.0" width="2.6" height="6.3" fill="#fde725"/>
<rect x="629.4" y="1672.4" width="7.4" height="16.9" fill="url(#ptG)"/>
<rect x="629.4" y="1679.8" width="7.4" height="9.5" fill="#fde725"/>
<rect x="644.2" y="1672.4" width="13.7" height="16.9" fill="url(#ptG)"/>
<rect x="662.2" y="1672.4" width="6.3" height="16.9" fill="url(#ptt)"/>
<rect x="674.9" y="1672.4" width="8.5" height="16.9" fill="url(#ptt)"/>
<rect x="702.4" y="1672.4" width="8.5" height="16.9" fill="url(#ptg)"/>
<rect x="710.9" y="1672.4" width="24.3" height="16.9" fill="#fde725"/>
<rect x="740.5" y="1672.4" width="11.6" height="16.9" fill="url(#ptL)"/>
<rect x="582.9" y="1691.4" width="27.5" height="6.3" fill="url(#ptL)"/>
<rect x="568.6" y="1691.4" width="6.3" height="6.3" fill="url(#ptG)"/>
<rect x="629.4" y="1691.4" width="63.4" height="6.3" fill="url(#ptg)"/>
<rect x="629.4" y="1691.4" width="7.4" height="6.3" fill="#440154"/>
<rect x="735.2" y="1691.4" width="5.3" height="6.3" fill="#fde725"/>
<rect x="629.4" y="1697.7" width="7.4" height="10.3" fill="#fde725"/>
<rect x="644.2" y="1697.7" width="13.7" height="10.3" fill="url(#ptG)"/>
<rect x="644.2" y="1697.7" width="6.3" height="10.3" fill="#fde725"/>
<rect x="674.9" y="1697.7" width="8.5" height="10.3" fill="url(#ptg)"/>
<rect x="710.9" y="1697.7" width="24.3" height="10.3" fill="#fde725"/>
<rect x="740.5" y="1697.7" width="11.6" height="10.3" fill="#fde725"/>
<rect x="752.0" y="1520.1" width="23.3" height="6.3" fill="url(#ptg)"/>
<rect x="789.0" y="1522.2" width="7.4" height="4.2" fill="url(#ptG)"/>
<rect x="796.4" y="1522.8" width="61.3" height="3.2" fill="url(#ptt)"/>
<rect x="859.8" y="1522.8" width="35.9" height="3.2" fill="url(#ptt)"/>
<rect x="895.8" y="1520.1" width="6.3" height="6.3" fill="#fde725"/>
<rect x="908.5" y="1520.1" width="12.7" height="6.3" fill="url(#ptL)"/>
<rect x="925.4" y="1520.1" width="10.4" height="6.3" fill="url(#ptG)"/>
<rect x="752.0" y="1534.9" width="2.1" height="27.5" fill="url(#ptb)"/>
<rect x="790.6" y="1534.9" width="30.1" height="27.5" fill="#fde725"/>
<rect x="790.6" y="1542.3" width="30.1" height="6.3" fill="url(#ptt)"/>
<rect x="820.7" y="1534.9" width="4.2" height="27.5" fill="url(#ptt)"/>
<rect x="825.0" y="1534.9" width="28.5" height="27.5" fill="url(#ptG)"/>
<rect x="826.0" y="1542.3" width="27.5" height="6.3" fill="url(#ptb)"/>
<rect x="853.5" y="1534.9" width="4.2" height="27.5" fill="url(#ptG)"/>
<rect x="859.8" y="1534.9" width="35.9" height="27.5" fill="#fde725"/>
<rect x="859.8" y="1542.3" width="20.1" height="6.3" fill="url(#ptT)"/>
<rect x="895.8" y="1534.9" width="6.3" height="27.5" fill="url(#ptt)"/>
<rect x="902.1" y="1534.9" width="5.3" height="27.5" fill="#fde725"/>
<rect x="907.4" y="1534.9" width="10.6" height="27.5" fill="url(#ptt)"/>
<rect x="918.0" y="1534.9" width="7.4" height="27.5" fill="#fde725"/>
<rect x="925.4" y="1534.9" width="10.4" height="27.5" fill="url(#ptt)"/>
<rect x="752.0" y="1566.6" width="23.3" height="3.2" fill="url(#ptL)"/>
<rect x="790.6" y="1569.3" width="67.1" height="2.1" fill="url(#ptt)"/>
<rect x="859.8" y="1569.3" width="35.9" height="2.1" fill="url(#ptt)"/>
<rect x="912.7" y="1566.6" width="13.7" height="8.5" fill="url(#ptg)"/>
<rect x="790.6" y="1579.3" width="145.2" height="1.1" fill="url(#ptb)"/>
<rect x="752.0" y="1582.5" width="4.2" height="7.4" fill="#fde725"/>
<rect x="756.2" y="1582.5" width="16.9" height="7.4" fill="url(#ptt)"/>
<rect x="774.2" y="1582.5" width="14.8" height="7.4" fill="#fde725"/>
<rect x="826.0" y="1582.5" width="8.5" height="7.4" fill="url(#ptb)"/>
<rect x="790.6" y="1589.9" width="30.1" height="7.4" fill="url(#ptL)"/>
<rect x="820.7" y="1589.9" width="32.8" height="7.4" fill="url(#ptG)"/>
<rect x="853.5" y="1589.9" width="4.2" height="7.4" fill="url(#ptL)"/>
<rect x="859.8" y="1589.9" width="35.9" height="7.4" fill="#fde725"/>
<rect x="895.8" y="1589.9" width="6.3" height="7.4" fill="url(#ptG)"/>
<rect x="902.1" y="1589.9" width="5.3" height="7.4" fill="#fde725"/>
<rect x="907.4" y="1589.9" width="10.6" height="7.4" fill="url(#ptt)"/>
<rect x="918.0" y="1589.9" width="7.4" height="7.4" fill="#fde725"/>
<rect x="925.4" y="1589.9" width="10.4" height="7.4" fill="url(#ptG)"/>
<rect x="752.0" y="1597.3" width="4.2" height="15.9" fill="#fde725"/>
<rect x="756.2" y="1597.3" width="16.9" height="15.9" fill="url(#ptg)"/>
<rect x="774.2" y="1597.3" width="14.8" height="15.9" fill="#fde725"/>
<rect x="826.0" y="1600.5" width="31.7" height="12.7" fill="url(#ptb)"/>
<rect x="930.7" y="1597.3" width="5.1" height="15.9" fill="#fde725"/>
<rect x="908.5" y="1597.3" width="5.3" height="15.9" fill="url(#ptb)"/>
<rect x="790.6" y="1612.6" width="34.4" height="4.8" fill="#fde725"/>
<rect x="825.0" y="1612.6" width="28.5" height="4.8" fill="url(#ptt)"/>
<rect x="853.5" y="1612.6" width="4.2" height="4.8" fill="url(#ptG)"/>
<rect x="859.8" y="1612.6" width="20.1" height="4.8" fill="#fde725"/>
<rect x="879.9" y="1612.6" width="15.9" height="4.8" fill="url(#ptL)"/>
<rect x="895.8" y="1612.6" width="6.3" height="4.8" fill="url(#ptt)"/>
<rect x="902.1" y="1612.6" width="5.3" height="4.8" fill="#fde725"/>
<rect x="918.0" y="1612.6" width="7.4" height="4.8" fill="#fde725"/>
<rect x="907.4" y="1612.6" width="10.6" height="4.8" fill="url(#ptb)"/>
<rect x="752.0" y="1617.4" width="21.1" height="6.3" fill="url(#ptt)"/>
<rect x="774.2" y="1617.4" width="14.8" height="6.3" fill="url(#ptG)"/>
<rect x="790.6" y="1617.4" width="145.2" height="6.3" fill="url(#ptb)"/>
<rect x="826.0" y="1617.4" width="31.7" height="6.3" fill="url(#ptt)"/>
<rect x="930.7" y="1617.4" width="5.1" height="6.3" fill="url(#ptG)"/>
<rect x="790.6" y="1623.7" width="34.4" height="5.3" fill="url(#ptG)"/>
<rect x="825.0" y="1623.7" width="28.5" height="5.3" fill="url(#ptt)"/>
<rect x="853.5" y="1623.7" width="4.2" height="5.3" fill="url(#ptG)"/>
<rect x="859.8" y="1623.7" width="35.9" height="5.3" fill="url(#ptg)"/>
<rect x="895.8" y="1623.7" width="11.6" height="5.3" fill="url(#ptG)"/>
<rect x="918.0" y="1623.7" width="7.4" height="5.3" fill="url(#ptG)"/>
<rect x="752.0" y="1623.7" width="37.0" height="5.3" fill="url(#ptb)"/>
<rect x="752.0" y="1629.0" width="4.2" height="9.5" fill="#fde725"/>
<rect x="756.2" y="1629.0" width="16.9" height="9.5" fill="url(#ptt)"/>
<rect x="774.2" y="1629.0" width="14.8" height="9.5" fill="#fde725"/>
<rect x="826.0" y="1629.0" width="31.7" height="9.5" fill="url(#ptg)"/>
<rect x="859.8" y="1630.1" width="75.9" height="8.5" fill="url(#ptb)"/>
<rect x="930.7" y="1629.0" width="5.1" height="18.0" fill="url(#ptL)"/>
<rect x="842.9" y="1639.6" width="8.5" height="7.4" fill="url(#ptL)"/>
<rect x="834.5" y="1652.3" width="19.0" height="2.1" fill="url(#ptL)"/>
<rect x="757.3" y="1648.1" width="3.2" height="2.1" fill="url(#ptL)"/>
<rect x="768.9" y="1648.1" width="3.2" height="2.1" fill="url(#ptL)"/>
<rect x="752.0" y="1657.6" width="22.2" height="15.9" fill="url(#ptL)"/>
<rect x="774.2" y="1657.6" width="14.8" height="15.9" fill="url(#ptg)"/>
<rect x="790.6" y="1657.6" width="34.4" height="6.3" fill="url(#ptt)"/>
<rect x="820.7" y="1657.6" width="4.2" height="6.3" fill="url(#ptG)"/>
<rect x="859.8" y="1657.6" width="35.9" height="6.3" fill="url(#ptb)"/>
<rect x="895.8" y="1657.6" width="6.3" height="8.5" fill="url(#ptg)"/>
<rect x="908.5" y="1657.6" width="9.5" height="8.5" fill="url(#ptg)"/>
<rect x="925.4" y="1657.6" width="10.4" height="8.5" fill="url(#ptg)"/>
<rect x="752.0" y="1673.4" width="4.2" height="18.0" fill="url(#ptt)"/>
<rect x="756.2" y="1673.4" width="18.0" height="18.0" fill="url(#ptL)"/>
<rect x="774.2" y="1673.4" width="14.8" height="18.0" fill="#fde725"/>
<rect x="895.8" y="1673.4" width="40.0" height="5.3" fill="url(#ptb)"/>
<rect x="790.6" y="1691.4" width="62.9" height="5.3" fill="url(#ptL)"/>
<rect x="820.7" y="1691.4" width="32.8" height="5.3" fill="url(#ptG)"/>
<rect x="859.8" y="1691.4" width="20.1" height="5.3" fill="#fde725"/>
<rect x="879.9" y="1691.4" width="28.5" height="5.3" fill="url(#ptG)"/>
<rect x="918.0" y="1691.4" width="7.4" height="5.3" fill="#fde725"/>
<rect x="925.4" y="1691.4" width="10.4" height="5.3" fill="url(#ptt)"/>
<rect x="752.0" y="1696.7" width="22.2" height="11.3" fill="url(#ptL)"/>
<rect x="774.2" y="1696.7" width="14.8" height="11.3" fill="#fde725"/>
<rect x="826.0" y="1704.1" width="31.7" height="3.9" fill="url(#ptb)"/>
<rect x="629.4" y="1705.0" width="7.4" height="5.3" fill="#fde725"/>
<rect x="644.2" y="1705.0" width="13.7" height="5.3" fill="#fde725"/>
<rect x="662.2" y="1705.0" width="9.5" height="5.3" fill="url(#ptg)"/>
<rect x="674.9" y="1705.0" width="9.5" height="5.3" fill="#fde725"/>
<rect x="701.3" y="1705.0" width="9.5" height="8.5" fill="url(#ptg)"/>
<rect x="710.9" y="1705.0" width="23.3" height="8.5" fill="#fde725"/>
<rect x="739.4" y="1705.0" width="16.6" height="8.5" fill="#fde725"/>
<rect x="568.6" y="1710.3" width="3.7" height="6.3" fill="#fde725"/>
<rect x="613.6" y="1710.3" width="3.2" height="19.0" fill="#fde725"/>
<rect x="629.4" y="1716.6" width="63.4" height="7.4" fill="url(#ptb)"/>
<rect x="701.3" y="1717.7" width="9.5" height="8.5" fill="url(#ptG)"/>
<rect x="710.9" y="1717.7" width="23.3" height="8.5" fill="url(#ptL)"/>
<rect x="739.4" y="1717.7" width="13.7" height="8.5" fill="url(#ptG)"/>
<rect x="715.1" y="1726.1" width="19.0" height="4.2" fill="#fde725"/>
<rect x="692.9" y="1713.5" width="2.6" height="16.9" fill="#fde725"/>
<rect x="629.4" y="1732.5" width="7.4" height="14.8" fill="#fde725"/>
<rect x="644.2" y="1732.5" width="13.7" height="14.8" fill="#fde725"/>
<rect x="662.2" y="1732.5" width="6.3" height="14.8" fill="url(#ptg)"/>
<rect x="674.9" y="1732.5" width="9.5" height="14.8" fill="url(#ptG)"/>
<rect x="701.3" y="1730.4" width="9.5" height="16.9" fill="url(#ptg)"/>
<rect x="710.9" y="1732.5" width="23.3" height="14.8" fill="#fde725"/>
<rect x="739.4" y="1732.5" width="16.6" height="14.8" fill="#fde725"/>
<rect x="568.6" y="1726.1" width="14.3" height="21.1" fill="url(#ptb)"/>
<rect x="568.6" y="1749.4" width="60.8" height="3.2" fill="url(#ptt)"/>
<rect x="568.6" y="1749.4" width="5.8" height="3.2" fill="url(#ptL)"/>
<rect x="636.8" y="1749.4" width="7.4" height="3.2" fill="url(#ptG)"/>
<rect x="659.0" y="1749.4" width="14.8" height="3.2" fill="url(#ptg)"/>
<rect x="701.3" y="1749.4" width="9.5" height="3.2" fill="url(#ptt)"/>
<rect x="735.2" y="1749.4" width="4.2" height="3.2" fill="url(#ptg)"/>
<rect x="582.9" y="1764.2" width="27.5" height="15.9" fill="url(#ptL)"/>
<rect x="590.3" y="1764.2" width="5.3" height="15.9" fill="url(#ptt)"/>
<rect x="571.3" y="1764.2" width="3.2" height="15.9" fill="url(#ptg)"/>
<rect x="636.8" y="1764.2" width="7.4" height="15.9" fill="url(#ptG)"/>
<rect x="658.0" y="1755.8" width="4.8" height="24.3" fill="#fde725"/>
<rect x="669.1" y="1764.2" width="5.8" height="15.9" fill="url(#ptG)"/>
<rect x="684.4" y="1764.2" width="7.4" height="15.9" fill="url(#ptt)"/>
<rect x="701.3" y="1764.2" width="9.5" height="15.9" fill="url(#ptt)"/>
<rect x="734.1" y="1764.2" width="5.3" height="15.9" fill="url(#ptL)"/>
<rect x="582.9" y="1757.9" width="27.5" height="4.2" fill="url(#ptb)"/>
<rect x="571.3" y="1784.3" width="127.9" height="9.5" fill="url(#ptt)"/>
<rect x="610.4" y="1784.3" width="3.2" height="9.5" fill="url(#ptL)"/>
<rect x="710.9" y="1784.3" width="45.1" height="9.5" fill="url(#ptt)"/>
<rect x="582.9" y="1795.9" width="30.7" height="6.3" fill="url(#ptb)"/>
<rect x="684.4" y="1793.8" width="7.4" height="20.1" fill="url(#ptg)"/>
<rect x="686.5" y="1802.3" width="4.2" height="11.6" fill="url(#ptG)"/>
<rect x="697.1" y="1793.8" width="2.1" height="20.1" fill="url(#ptL)"/>
<rect x="571.3" y="1812.8" width="58.2" height="3.2" fill="url(#ptg)"/>
<rect x="636.8" y="1812.8" width="7.4" height="3.2" fill="url(#ptG)"/>
<rect x="649.5" y="1812.8" width="49.7" height="3.2" fill="url(#ptg)"/>
<rect x="735.2" y="1812.8" width="4.2" height="3.2" fill="url(#ptG)"/>
<rect x="582.9" y="1820.2" width="27.5" height="38.1" fill="#fde725"/>
<rect x="570.8" y="1820.2" width="3.7" height="38.1" fill="url(#ptL)"/>
<rect x="610.4" y="1820.2" width="19.0" height="38.1" fill="url(#ptt)"/>
<rect x="636.8" y="1820.2" width="7.4" height="38.1" fill="#fde725"/>
<rect x="658.0" y="1820.2" width="4.8" height="38.1" fill="#fde725"/>
<rect x="662.7" y="1820.2" width="6.3" height="38.1" fill="url(#ptG)"/>
<rect x="669.1" y="1820.2" width="5.8" height="38.1" fill="#fde725"/>
<rect x="674.9" y="1820.2" width="9.5" height="38.1" fill="url(#ptb)"/>
<rect x="684.4" y="1820.2" width="7.4" height="38.1" fill="url(#ptG)"/>
<rect x="695.0" y="1820.2" width="4.2" height="38.1" fill="url(#ptG)"/>
<rect x="701.3" y="1820.2" width="9.5" height="49.7" fill="url(#ptg)"/>
<rect x="734.1" y="1820.2" width="5.3" height="38.1" fill="#fde725"/>
<rect x="750.0" y="1842.5" width="6.0" height="15.9" fill="url(#ptt)"/>
<rect x="582.9" y="1864.7" width="27.5" height="5.3" fill="#fde725"/>
<rect x="570.8" y="1861.5" width="3.7" height="8.5" fill="#fde725"/>
<rect x="636.8" y="1864.7" width="7.4" height="5.3" fill="#fde725"/>
<rect x="658.0" y="1864.7" width="16.9" height="5.3" fill="#fde725"/>
<rect x="674.9" y="1864.7" width="16.9" height="5.3" fill="url(#ptg)"/>
<rect x="695.0" y="1864.7" width="4.2" height="5.3" fill="#fde725"/>
<rect x="734.1" y="1864.7" width="5.3" height="5.3" fill="#fde725"/>
<rect x="610.4" y="1864.7" width="19.0" height="5.3" fill="url(#ptb)"/>
<rect x="568.6" y="1876.3" width="5.8" height="12.7" fill="url(#ptL)"/>
<rect x="582.9" y="1879.5" width="27.5" height="4.2" fill="url(#ptG)"/>
<rect x="582.9" y="1883.7" width="27.5" height="4.2" fill="#fde725"/>
<rect x="610.4" y="1876.3" width="18.0" height="12.7" fill="url(#ptL)"/>
<rect x="636.8" y="1880.5" width="7.4" height="7.4" fill="#fde725"/>
<rect x="658.0" y="1880.5" width="16.9" height="7.4" fill="url(#ptG)"/>
<rect x="683.4" y="1876.3" width="15.9" height="11.6" fill="url(#ptg)"/>
<rect x="701.3" y="1876.3" width="9.5" height="11.6" fill="url(#ptg)"/>
<rect x="734.1" y="1880.5" width="5.3" height="7.4" fill="#fde725"/>
<rect x="753.1" y="1876.3" width="2.9" height="8.5" fill="#fde725"/>
<rect x="644.2" y="1893.2" width="12.7" height="4.2" fill="url(#ptL)"/>
<rect x="684.4" y="1895.3" width="5.3" height="2.1" fill="#fde725"/>
<rect x="568.6" y="1889.0" width="14.3" height="8.5" fill="url(#ptg)"/>
<rect x="752.0" y="1705.0" width="23.3" height="42.3" fill="#fde725"/>
<rect x="752.0" y="1733.5" width="23.3" height="13.7" fill="url(#ptL)"/>
<rect x="775.3" y="1705.0" width="13.7" height="5.3" fill="#fde725"/>
<rect x="775.3" y="1711.3" width="13.7" height="6.3" fill="url(#ptb)"/>
<rect x="775.3" y="1717.7" width="13.7" height="8.5" fill="url(#ptG)"/>
<rect x="775.3" y="1726.1" width="13.7" height="6.3" fill="url(#ptb)"/>
<rect x="775.3" y="1732.5" width="13.7" height="14.8" fill="#fde725"/>
<rect x="825.0" y="1707.1" width="9.5" height="4.2" fill="url(#ptt)"/>
<rect x="842.9" y="1707.1" width="9.5" height="4.2" fill="url(#ptt)"/>
<rect x="826.0" y="1732.5" width="8.5" height="10.6" fill="url(#ptb)"/>
<rect x="913.8" y="1711.3" width="4.2" height="3.2" fill="#fde725"/>
<rect x="913.8" y="1717.7" width="4.2" height="8.5" fill="url(#ptg)"/>
<rect x="925.4" y="1717.7" width="6.3" height="8.5" fill="url(#ptg)"/>
<rect x="752.0" y="1749.4" width="23.3" height="5.3" fill="url(#ptb)"/>
<rect x="790.6" y="1749.4" width="5.8" height="4.2" fill="#fde725"/>
<rect x="796.4" y="1749.4" width="56.0" height="4.2" fill="url(#ptt)"/>
<rect x="852.4" y="1749.4" width="27.5" height="4.2" fill="url(#ptG)"/>
<rect x="879.9" y="1749.4" width="22.2" height="4.2" fill="#fde725"/>
<rect x="902.1" y="1749.4" width="6.3" height="4.2" fill="url(#ptG)"/>
<rect x="908.5" y="1749.4" width="12.7" height="4.2" fill="#fde725"/>
<rect x="921.2" y="1749.4" width="14.6" height="4.2" fill="url(#ptG)"/>
<rect x="796.9" y="1754.7" width="28.0" height="29.6" fill="#fde725"/>
<rect x="796.9" y="1780.1" width="23.8" height="4.2" fill="url(#ptt)"/>
<rect x="790.6" y="1764.2" width="5.8" height="14.8" fill="url(#ptg)"/>
<rect x="826.0" y="1764.2" width="27.5" height="14.8" fill="url(#ptt)"/>
<rect x="853.5" y="1764.2" width="4.2" height="14.8" fill="url(#ptG)"/>
<rect x="859.8" y="1754.7" width="20.1" height="9.5" fill="url(#ptt)"/>
<rect x="859.8" y="1764.2" width="20.1" height="15.9" fill="url(#ptL)"/>
<rect x="879.9" y="1764.2" width="22.2" height="15.9" fill="url(#ptg)"/>
<rect x="902.1" y="1764.2" width="6.3" height="15.9" fill="#fde725"/>
<rect x="908.5" y="1764.2" width="9.5" height="15.9" fill="url(#ptb)"/>
<rect x="918.0" y="1764.2" width="7.4" height="15.9" fill="#fde725"/>
<rect x="904.3" y="1754.7" width="3.2" height="9.5" fill="url(#ptt)"/>
<rect x="922.2" y="1754.7" width="3.2" height="9.5" fill="url(#ptt)"/>
<rect x="752.0" y="1785.4" width="44.4" height="8.5" fill="url(#ptt)"/>
<rect x="759.4" y="1785.4" width="4.2" height="8.5" fill="url(#ptG)"/>
<rect x="796.4" y="1785.4" width="28.5" height="8.5" fill="url(#ptb)"/>
<rect x="825.0" y="1785.4" width="9.5" height="8.5" fill="#fde725"/>
<rect x="834.5" y="1785.4" width="19.0" height="8.5" fill="url(#ptG)"/>
<rect x="853.5" y="1785.4" width="4.2" height="8.5" fill="url(#ptt)"/>
<rect x="859.8" y="1785.4" width="35.9" height="8.5" fill="url(#ptt)"/>
<rect x="895.8" y="1785.4" width="12.7" height="8.5" fill="url(#ptb)"/>
<rect x="908.5" y="1785.4" width="5.3" height="8.5" fill="url(#ptG)"/>
<rect x="913.8" y="1785.4" width="12.7" height="8.5" fill="url(#ptt)"/>
<rect x="926.5" y="1785.4" width="5.3" height="8.5" fill="url(#ptG)"/>
<rect x="931.7" y="1785.4" width="4.0" height="8.5" fill="url(#ptt)"/>
<rect x="825.0" y="1795.9" width="9.5" height="6.3" fill="url(#ptb)"/>
<rect x="834.5" y="1794.9" width="9.5" height="8.5" fill="#fde725"/>
<rect x="834.5" y="1803.3" width="9.5" height="8.5" fill="url(#ptT)"/>
<rect x="844.0" y="1794.9" width="8.5" height="16.9" fill="#fde725"/>
<rect x="859.8" y="1795.9" width="35.9" height="6.3" fill="url(#ptb)"/>
<rect x="902.1" y="1795.9" width="6.3" height="6.3" fill="url(#ptb)"/>
<rect x="790.6" y="1812.8" width="43.9" height="3.2" fill="url(#ptt)"/>
<rect x="834.5" y="1812.8" width="18.0" height="3.2" fill="url(#ptG)"/>
<rect x="859.8" y="1812.8" width="20.1" height="3.2" fill="url(#ptt)"/>
<rect x="879.9" y="1812.8" width="15.9" height="3.2" fill="url(#ptG)"/>
<rect x="895.8" y="1812.8" width="40.0" height="3.2" fill="url(#ptt)"/>
<rect x="790.6" y="1820.2" width="67.1" height="37.0" fill="#fde725"/>
<rect x="796.4" y="1842.5" width="24.3" height="14.8" fill="url(#ptG)"/>
<rect x="825.0" y="1820.2" width="18.0" height="37.0" fill="url(#ptG)"/>
<rect x="842.9" y="1820.2" width="9.0" height="37.0" fill="url(#ptT)"/>
<rect x="851.9" y="1820.2" width="5.8" height="37.0" fill="url(#ptL)"/>
<rect x="859.8" y="1820.2" width="35.9" height="37.0" fill="#fde725"/>
<rect x="895.8" y="1820.2" width="6.3" height="22.2" fill="url(#ptL)"/>
<rect x="902.1" y="1820.2" width="6.3" height="22.2" fill="#fde725"/>
<rect x="908.5" y="1820.2" width="5.3" height="22.2" fill="url(#ptt)"/>
<rect x="913.8" y="1820.2" width="4.2" height="22.2" fill="url(#ptg)"/>
<rect x="918.0" y="1820.2" width="7.4" height="22.2" fill="#fde725"/>
<rect x="925.4" y="1820.2" width="6.3" height="22.2" fill="url(#ptT)"/>
<rect x="931.7" y="1820.2" width="4.0" height="37.0" fill="url(#ptL)"/>
<rect x="895.8" y="1842.5" width="35.9" height="14.8" fill="url(#ptL)"/>
<rect x="790.6" y="1857.3" width="67.1" height="6.3" fill="url(#ptb)"/>
<rect x="859.8" y="1857.3" width="35.9" height="6.3" fill="url(#ptt)"/>
<rect x="895.8" y="1857.3" width="6.3" height="6.3" fill="#fde725"/>
<rect x="902.1" y="1857.3" width="5.3" height="6.3" fill="url(#ptb)"/>
<rect x="907.4" y="1857.3" width="28.3" height="6.3" fill="url(#ptL)"/>
<rect x="790.6" y="1864.7" width="30.1" height="5.3" fill="#fde725"/>
<rect x="820.7" y="1864.7" width="22.2" height="5.3" fill="url(#ptG)"/>
<rect x="842.9" y="1864.7" width="9.0" height="5.3" fill="url(#ptT)"/>
<rect x="851.9" y="1864.7" width="5.8" height="5.3" fill="url(#ptL)"/>
<rect x="859.8" y="1864.7" width="35.9" height="5.3" fill="#fde725"/>
<rect x="895.8" y="1864.7" width="40.0" height="5.3" fill="url(#ptg)"/>
<rect x="902.1" y="1864.7" width="4.2" height="5.3" fill="#fde725"/>
<rect x="916.9" y="1864.7" width="5.3" height="5.3" fill="#fde725"/>
<rect x="895.8" y="1869.9" width="6.3" height="10.6" fill="#fde725"/>
<rect x="907.4" y="1869.9" width="5.3" height="10.6" fill="#fde725"/>
<rect x="912.7" y="1869.9" width="5.3" height="10.6" fill="url(#ptt)"/>
<rect x="918.0" y="1869.9" width="7.4" height="10.6" fill="#fde725"/>
<rect x="925.4" y="1869.9" width="6.3" height="10.6" fill="url(#ptt)"/>
<rect x="931.7" y="1869.9" width="4.0" height="10.6" fill="#fde725"/>
<rect x="790.6" y="1880.5" width="5.8" height="7.4" fill="#fde725"/>
<rect x="796.4" y="1881.6" width="46.5" height="3.2" fill="url(#ptg)"/>
<rect x="796.4" y="1884.7" width="46.5" height="3.2" fill="#fde725"/>
<rect x="842.9" y="1881.6" width="14.8" height="6.3" fill="url(#ptG)"/>
<rect x="859.8" y="1881.6" width="20.1" height="6.3" fill="url(#ptG)"/>
<rect x="879.9" y="1881.6" width="15.9" height="6.3" fill="#fde725"/>
<rect x="895.8" y="1880.5" width="40.0" height="7.4" fill="url(#ptL)"/>
<rect x="895.8" y="1887.9" width="6.3" height="9.5" fill="url(#ptG)"/>
<rect x="908.5" y="1887.9" width="6.3" height="9.5" fill="#fde725"/>
<rect x="925.4" y="1887.9" width="6.3" height="9.5" fill="#fde725"/>
<rect x="914.8" y="1887.9" width="10.6" height="9.5" fill="url(#ptb)"/>
<rect x="752.0" y="1856.2" width="23.3" height="7.4" fill="url(#ptg)"/>
<rect x="752.0" y="1876.3" width="23.3" height="4.2" fill="url(#ptL)"/>
<rect x="752.0" y="1886.9" width="23.3" height="4.2" fill="url(#ptg)"/>
</g></svg>
<text x="943.7" y="1511.7" font-size="16.6">Cell lineage</text>
<text x="943.7" y="1527.6" font-size="16.6">Endothelial</text>
<text x="943.7" y="1556.7" font-size="16.6">Epithelial</text>
<text x="943.7" y="1597.3" font-size="16.6">Erythroid</text>
<text x="943.7" y="1641.8" font-size="16.6">Germ</text>
<text x="943.7" y="1657.4" font-size="16.6">Hepatocyte</text>
<text x="943.7" y="1706.1" font-size="16.6">Immune</text>
<text x="943.7" y="1749.9" font-size="16.6">Muscle</text>
<text x="943.7" y="1771.0" font-size="16.6">Neuron</text>
<text x="943.7" y="1803.1" font-size="16.6">Proliferating</text>
<text x="943.7" y="1819.7" font-size="16.6">Secretory</text>
<text x="943.7" y="1860.2" font-size="16.6">Mesenchymal</text>
<text x="557.6" y="1915.8" font-size="16.6">Cell lineage</text>
<text x="550.0" y="1870.7" font-size="16.3" textLength="335.1" lengthAdjust="spacingAndGlyphs" transform="rotate(-90 550.0 1870.7)">NvWA-predicted cell type-specific transcription</text>
<text x="1294.8" y="1468.1" font-size="26" text-anchor="middle">Zebrafish</text>
<text x="1094.1" y="1494.5" font-size="16.3">Observed cell type-specific transcription</text>
<rect x="1090.5" y="1502.6" width="1.8" height="13.5" fill="#E41A1C"/>
<rect x="1092.0" y="1502.6" width="105.5" height="13.5" fill="#E7298A"/>
<rect x="1197.2" y="1502.6" width="1.8" height="13.5" fill="#4DAF4A"/>
<rect x="1198.7" y="1502.6" width="20.4" height="13.5" fill="#CCEBC5"/>
<rect x="1218.8" y="1502.6" width="73.3" height="13.5" fill="#984EA3"/>
<rect x="1291.8" y="1502.6" width="38.5" height="13.5" fill="#1B9E77"/>
<rect x="1330.0" y="1502.6" width="11.7" height="13.5" fill="#66A61E"/>
<rect x="1341.4" y="1502.6" width="48.4" height="13.5" fill="#D95F02"/>
<rect x="1389.5" y="1502.6" width="27.3" height="13.5" fill="#A6761D"/>
<rect x="1416.5" y="1502.6" width="1.8" height="13.5" fill="#E6AB02"/>
<rect x="1418.0" y="1502.6" width="40.9" height="13.5" fill="#7570B3"/>
<rect x="1076.1" y="1517.7" width="13.5" height="2.4" fill="#E41A1C"/>
<rect x="1076.1" y="1519.8" width="13.5" height="108.8" fill="#E7298A"/>
<rect x="1076.1" y="1628.2" width="13.5" height="2.4" fill="#4DAF4A"/>
<rect x="1076.1" y="1630.3" width="13.5" height="19.8" fill="#CCEBC5"/>
<rect x="1076.1" y="1649.9" width="13.5" height="76.9" fill="#984EA3"/>
<rect x="1076.1" y="1726.5" width="13.5" height="40.9" fill="#1B9E77"/>
<rect x="1076.1" y="1767.1" width="13.5" height="11.4" fill="#66A61E"/>
<rect x="1076.1" y="1778.2" width="13.5" height="49.3" fill="#D95F02"/>
<rect x="1076.1" y="1827.2" width="13.5" height="28.8" fill="#A6761D"/>
<rect x="1076.1" y="1855.7" width="13.5" height="2.4" fill="#E6AB02"/>
<rect x="1076.1" y="1857.8" width="13.5" height="40.9" fill="#7570B3"/>
<rect x="1090.5" y="1517.7" width="368.1" height="380.7" fill="#440154"/>
<svg x="1090.5" y="1517.7" width="368.1" height="380.7" overflow="hidden"><g transform="translate(-1090.48,-1517.66)">
<rect x="1090.5" y="1517.6" width="107.5" height="109.5" fill="url(#ptg)"/>
<rect x="1092.3" y="1520.3" width="13.4" height="13.4" fill="#fde725"/>
<rect x="1105.6" y="1520.3" width="15.6" height="13.4" fill="url(#ptg)"/>
<rect x="1121.2" y="1520.3" width="6.7" height="13.4" fill="url(#ptG)"/>
<rect x="1127.9" y="1520.3" width="8.9" height="13.4" fill="#fde725"/>
<rect x="1136.8" y="1520.3" width="31.2" height="13.4" fill="#fde725"/>
<rect x="1167.9" y="1520.3" width="8.9" height="13.4" fill="url(#ptg)"/>
<rect x="1176.8" y="1520.3" width="16.7" height="13.4" fill="url(#ptT)"/>
<rect x="1090.5" y="1533.6" width="15.1" height="15.6" fill="url(#ptg)"/>
<rect x="1105.6" y="1533.6" width="7.8" height="7.8" fill="#fde725"/>
<rect x="1121.2" y="1533.6" width="6.7" height="7.8" fill="#fde725"/>
<rect x="1136.8" y="1533.6" width="31.2" height="8.9" fill="url(#ptG)"/>
<rect x="1176.8" y="1533.6" width="16.7" height="7.8" fill="#fde725"/>
<rect x="1090.5" y="1542.5" width="103.1" height="5.6" fill="url(#ptb)"/>
<rect x="1113.4" y="1541.4" width="7.8" height="7.8" fill="#fde725"/>
<rect x="1090.5" y="1549.2" width="15.1" height="6.7" fill="url(#ptg)"/>
<rect x="1105.6" y="1549.2" width="15.6" height="15.6" fill="#fde725"/>
<rect x="1127.9" y="1549.2" width="8.9" height="15.6" fill="#fde725"/>
<rect x="1136.8" y="1549.2" width="31.2" height="15.6" fill="url(#ptL)"/>
<rect x="1167.9" y="1549.2" width="25.6" height="15.6" fill="url(#ptG)"/>
<rect x="1090.5" y="1556.3" width="103.1" height="4.0" fill="url(#ptb)"/>
<rect x="1090.5" y="1564.8" width="15.1" height="22.3" fill="#fde725"/>
<rect x="1105.6" y="1564.8" width="15.6" height="22.3" fill="url(#ptg)"/>
<rect x="1121.2" y="1564.8" width="6.7" height="22.3" fill="url(#ptG)"/>
<rect x="1127.9" y="1564.8" width="8.9" height="22.3" fill="#fde725"/>
<rect x="1136.8" y="1560.3" width="31.2" height="33.4" fill="#fde725"/>
<rect x="1167.9" y="1564.8" width="8.9" height="22.3" fill="url(#ptg)"/>
<rect x="1176.8" y="1564.8" width="16.7" height="22.3" fill="url(#ptT)"/>
<rect x="1090.5" y="1593.7" width="103.1" height="13.4" fill="url(#ptg)"/>
<rect x="1090.5" y="1607.1" width="15.1" height="17.8" fill="url(#ptT)"/>
<rect x="1105.6" y="1607.1" width="7.8" height="17.8" fill="#fde725"/>
<rect x="1113.4" y="1607.1" width="7.8" height="17.8" fill="#440154"/>
<rect x="1121.2" y="1607.1" width="6.7" height="17.8" fill="#fde725"/>
<rect x="1127.9" y="1607.1" width="8.9" height="17.8" fill="url(#ptg)"/>
<rect x="1136.8" y="1607.1" width="31.2" height="17.8" fill="url(#ptG)"/>
<rect x="1167.9" y="1607.1" width="7.8" height="17.8" fill="url(#ptg)"/>
<rect x="1175.7" y="1607.1" width="17.8" height="17.8" fill="#fde725"/>
<rect x="1198.0" y="1560.3" width="20.0" height="6.7" fill="url(#ptg)"/>
<rect x="1198.0" y="1599.3" width="20.0" height="3.3" fill="url(#ptL)"/>
<rect x="1218.0" y="1520.3" width="73.5" height="11.1" fill="url(#ptb)"/>
<rect x="1218.0" y="1533.6" width="73.5" height="6.7" fill="url(#ptT)"/>
<rect x="1218.0" y="1549.2" width="73.5" height="6.7" fill="url(#ptB)"/>
<rect x="1218.0" y="1562.6" width="73.5" height="8.9" fill="url(#ptb)"/>
<rect x="1218.0" y="1609.3" width="73.5" height="13.4" fill="url(#ptT)"/>
<rect x="1291.5" y="1520.3" width="39.0" height="20.0" fill="url(#ptG)"/>
<rect x="1291.5" y="1549.2" width="39.0" height="6.7" fill="url(#ptG)"/>
<rect x="1291.5" y="1555.9" width="39.0" height="8.9" fill="url(#ptb)"/>
<rect x="1291.5" y="1564.8" width="39.0" height="22.3" fill="url(#ptG)"/>
<rect x="1291.5" y="1591.5" width="39.0" height="11.1" fill="url(#ptg)"/>
<rect x="1291.5" y="1609.3" width="39.0" height="15.6" fill="url(#ptg)"/>
<rect x="1333.8" y="1517.6" width="4.5" height="109.5" fill="url(#ptL)"/>
<rect x="1341.6" y="1541.4" width="74.6" height="6.7" fill="url(#ptg)"/>
<rect x="1385.0" y="1555.9" width="2.2" height="49.0" fill="url(#ptL)"/>
<rect x="1418.4" y="1520.3" width="10.0" height="13.4" fill="#fde725"/>
<rect x="1418.4" y="1541.4" width="40.1" height="6.7" fill="url(#ptt)"/>
<rect x="1418.4" y="1549.2" width="10.0" height="37.8" fill="url(#ptg)"/>
<rect x="1428.4" y="1520.3" width="17.8" height="13.4" fill="url(#ptg)"/>
<rect x="1432.8" y="1541.4" width="6.7" height="7.8" fill="#fde725"/>
<rect x="1418.4" y="1591.5" width="40.1" height="11.1" fill="url(#ptb)"/>
<rect x="1198.0" y="1629.3" width="20.0" height="20.0" fill="#fde725"/>
<rect x="1169.1" y="1629.3" width="3.3" height="20.0" fill="url(#ptL)"/>
<rect x="1293.7" y="1629.3" width="27.8" height="13.4" fill="url(#ptb)"/>
<rect x="1218.0" y="1649.4" width="73.5" height="76.8" fill="#fde725"/>
<rect x="1218.0" y="1679.4" width="73.5" height="3.3" fill="url(#ptG)"/>
<rect x="1090.5" y="1649.4" width="15.1" height="76.8" fill="url(#ptb)"/>
<rect x="1105.6" y="1649.4" width="7.8" height="76.8" fill="url(#ptG)"/>
<rect x="1113.4" y="1649.4" width="7.8" height="76.8" fill="url(#ptb)"/>
<rect x="1121.2" y="1649.4" width="6.7" height="76.8" fill="url(#ptt)"/>
<rect x="1127.9" y="1649.4" width="40.1" height="76.8" fill="url(#ptb)"/>
<rect x="1167.9" y="1649.4" width="6.7" height="76.8" fill="url(#ptt)"/>
<rect x="1174.6" y="1649.4" width="18.9" height="76.8" fill="url(#ptG)"/>
<rect x="1291.5" y="1649.4" width="10.0" height="76.8" fill="url(#ptt)"/>
<rect x="1301.5" y="1649.4" width="8.9" height="76.8" fill="url(#ptT)"/>
<rect x="1310.4" y="1649.4" width="20.0" height="76.8" fill="url(#ptb)"/>
<rect x="1198.0" y="1649.4" width="20.0" height="76.8" fill="url(#ptb)"/>
<rect x="1418.4" y="1649.4" width="10.0" height="31.2" fill="url(#ptb)"/>
<rect x="1291.5" y="1726.2" width="39.0" height="39.0" fill="#fde725"/>
<rect x="1090.5" y="1726.2" width="103.1" height="39.0" fill="url(#ptt)"/>
<rect x="1121.2" y="1729.5" width="15.6" height="35.6" fill="url(#ptg)"/>
<rect x="1167.9" y="1726.2" width="7.8" height="39.0" fill="url(#ptL)"/>
<rect x="1198.0" y="1726.2" width="20.0" height="39.0" fill="url(#ptg)"/>
<rect x="1218.0" y="1733.9" width="73.5" height="11.1" fill="url(#ptB)"/>
<rect x="1418.4" y="1726.2" width="10.0" height="39.0" fill="url(#ptG)"/>
<rect x="1439.5" y="1726.2" width="6.7" height="39.0" fill="url(#ptg)"/>
<rect x="1090.5" y="1768.5" width="103.1" height="6.7" fill="url(#ptt)"/>
<rect x="1121.2" y="1770.7" width="15.6" height="4.5" fill="url(#ptL)"/>
<rect x="1291.5" y="1770.7" width="39.0" height="4.5" fill="url(#ptt)"/>
<rect x="1330.4" y="1765.1" width="11.1" height="12.2" fill="#fde725"/>
<rect x="1341.6" y="1766.2" width="116.9" height="6.7" fill="url(#ptg)"/>
<rect x="1418.4" y="1774.0" width="40.1" height="3.3" fill="url(#ptL)"/>
<rect x="1341.6" y="1777.4" width="43.4" height="49.6" fill="#fde725"/>
<rect x="1359.4" y="1780.7" width="13.4" height="15.6" fill="url(#ptL)"/>
<rect x="1389.4" y="1777.4" width="26.7" height="18.9" fill="url(#ptG)"/>
<rect x="1389.4" y="1796.3" width="26.7" height="30.7" fill="#fde725"/>
<rect x="1330.4" y="1777.4" width="11.1" height="77.9" fill="url(#ptL)"/>
<rect x="1428.4" y="1777.4" width="17.8" height="18.9" fill="url(#ptG)"/>
<rect x="1428.4" y="1796.3" width="30.1" height="30.7" fill="#fde725"/>
<rect x="1446.2" y="1777.4" width="12.2" height="18.9" fill="url(#ptG)"/>
<rect x="1341.6" y="1816.3" width="116.9" height="6.7" fill="url(#ptt)"/>
<rect x="1113.4" y="1777.4" width="6.7" height="77.9" fill="url(#ptG)"/>
<rect x="1172.4" y="1796.3" width="3.3" height="59.0" fill="url(#ptL)"/>
<rect x="1090.5" y="1777.4" width="2.9" height="121.3" fill="url(#ptL)"/>
<rect x="1341.6" y="1827.0" width="43.4" height="28.3" fill="#fde725"/>
<rect x="1341.6" y="1827.0" width="17.8" height="11.6" fill="url(#ptG)"/>
<rect x="1389.4" y="1827.0" width="26.7" height="28.3" fill="#fde725"/>
<rect x="1428.4" y="1827.0" width="30.1" height="28.3" fill="#fde725"/>
<rect x="1090.5" y="1857.5" width="103.1" height="10.0" fill="url(#ptt)"/>
<rect x="1090.5" y="1857.5" width="15.1" height="10.0" fill="url(#ptG)"/>
<rect x="1121.2" y="1857.5" width="15.6" height="10.0" fill="url(#ptg)"/>
<rect x="1291.5" y="1857.5" width="39.0" height="10.0" fill="url(#ptG)"/>
<rect x="1418.4" y="1857.5" width="10.0" height="10.0" fill="#fde725"/>
<rect x="1428.4" y="1857.5" width="30.1" height="10.0" fill="url(#ptt)"/>
<rect x="1341.6" y="1868.6" width="116.9" height="30.1" fill="url(#ptL)"/>
<rect x="1341.6" y="1880.9" width="116.9" height="4.5" fill="url(#ptb)"/>
<rect x="1418.4" y="1868.6" width="10.0" height="12.2" fill="url(#ptt)"/>
<rect x="1113.4" y="1868.6" width="7.8" height="12.2" fill="#fde725"/>
<rect x="1090.5" y="1872.0" width="15.1" height="12.2" fill="url(#ptb)"/>
<rect x="1330.4" y="1855.3" width="6.7" height="43.4" fill="#fde725"/>
</g></svg>
<text x="1468.2" y="1511.7" font-size="16.6">Cell lineage</text>
<text x="1468.2" y="1527.6" font-size="16.6">Endothelial</text>
<text x="1468.2" y="1597.3" font-size="16.6">Epithelial</text>
<text x="1468.2" y="1627.3" font-size="16.6">Erythroid</text>
<text x="1468.2" y="1646.0" font-size="16.6">Germ</text>
<text x="1468.2" y="1698.9" font-size="16.6">Hepatocyte</text>
<text x="1468.2" y="1756.0" font-size="16.6">Immune</text>
<text x="1468.2" y="1780.0" font-size="16.6">Muscle</text>
<text x="1468.2" y="1815.2" font-size="16.6">Neuron</text>
<text x="1468.2" y="1851.2" font-size="16.6">Proliferating</text>
<text x="1468.2" y="1865.3" font-size="16.6">Secretory</text>
<text x="1468.2" y="1887.3" font-size="16.6">Mesenchymal</text>
<text x="1079.7" y="1915.8" font-size="16.6">Cell lineage</text>
<text x="1069.4" y="1870.7" font-size="16.3" textLength="335.1" lengthAdjust="spacingAndGlyphs" transform="rotate(-90 1069.4 1870.7)">NvWA-predicted cell type-specific transcription</text>
<line x1="1458.6" y1="1628.2" x2="1464.6" y2="1623.7" stroke="#000" stroke-width="1.6"/>
<line x1="1458.6" y1="1856.3" x2="1464.6" y2="1860.5" stroke="#000" stroke-width="1.6"/>
<text x="1790.0" y="1467.5" font-size="26" text-anchor="middle" font-style="italic">Ciona</text>
<text x="1607.5" y="1494.4" font-size="16.3">Observed cell type-specific transcription</text>
<rect x="1607.5" y="1501.9" width="93.5" height="14.4" fill="#E41A1C"/>
<rect x="1700.7" y="1501.9" width="52.5" height="14.4" fill="#E7298A"/>
<rect x="1753.0" y="1501.9" width="168.6" height="14.4" fill="#FFFFB3"/>
<rect x="1921.2" y="1501.9" width="11.2" height="14.4" fill="#66A61E"/>
<rect x="1932.2" y="1501.9" width="41.0" height="14.4" fill="#D95F02"/>
<rect x="1972.8" y="1501.9" width="1.9" height="14.4" fill="#7570B3"/>
<rect x="1593.2" y="1518.5" width="13.8" height="97.3" fill="#E41A1C"/>
<rect x="1593.2" y="1615.5" width="13.8" height="54.1" fill="#E7298A"/>
<rect x="1593.2" y="1669.3" width="13.8" height="173.2" fill="#FFFFB3"/>
<rect x="1593.2" y="1842.2" width="13.8" height="11.2" fill="#66A61E"/>
<rect x="1593.2" y="1853.2" width="13.8" height="43.1" fill="#D95F02"/>
<rect x="1593.2" y="1896.0" width="13.8" height="1.9" fill="#7570B3"/>
<rect x="1607.5" y="1518.5" width="366.8" height="379.0" fill="#440154"/>
<svg x="1607.5" y="1518.5" width="366.8" height="379.0" overflow="hidden"><g transform="translate(-1607.54,-1518.51)">
<rect x="1607.4" y="1518.9" width="93.5" height="96.8" fill="#fde725"/>
<rect x="1630.1" y="1518.9" width="26.7" height="22.3" fill="url(#ptL)"/>
<rect x="1663.5" y="1518.9" width="25.6" height="22.3" fill="url(#ptG)"/>
<rect x="1607.4" y="1542.3" width="22.7" height="30.1" fill="url(#ptL)"/>
<rect x="1689.1" y="1542.3" width="11.8" height="31.2" fill="url(#ptL)"/>
<rect x="1607.4" y="1575.7" width="22.7" height="26.7" fill="url(#ptg)"/>
<rect x="1689.1" y="1575.7" width="11.8" height="26.7" fill="url(#ptg)"/>
<rect x="1630.1" y="1602.4" width="26.7" height="13.4" fill="url(#ptt)"/>
<rect x="1663.5" y="1602.4" width="25.6" height="13.4" fill="url(#ptt)"/>
<rect x="1700.9" y="1518.9" width="28.3" height="96.8" fill="url(#ptb)"/>
<rect x="1729.1" y="1518.9" width="7.8" height="87.9" fill="url(#ptg)"/>
<rect x="1730.7" y="1542.3" width="5.1" height="31.2" fill="#fde725"/>
<rect x="1736.9" y="1518.9" width="16.0" height="96.8" fill="url(#ptt)"/>
<rect x="1779.2" y="1573.5" width="22.3" height="31.2" fill="url(#ptb)"/>
<rect x="1856.0" y="1518.9" width="33.4" height="25.6" fill="url(#ptb)"/>
<rect x="1856.0" y="1573.5" width="33.4" height="31.2" fill="url(#ptB)"/>
<rect x="1921.2" y="1518.9" width="9.3" height="96.8" fill="url(#ptg)"/>
<rect x="1931.7" y="1518.9" width="43.0" height="96.8" fill="url(#ptt)"/>
<rect x="1700.9" y="1615.7" width="52.1" height="52.8" fill="#fde725"/>
<rect x="1700.9" y="1644.7" width="52.1" height="6.7" fill="url(#ptg)"/>
<rect x="1630.1" y="1644.7" width="40.1" height="6.7" fill="url(#ptb)"/>
<rect x="1931.7" y="1615.7" width="12.2" height="52.8" fill="#fde725"/>
<rect x="1943.9" y="1615.7" width="30.7" height="52.8" fill="url(#ptb)"/>
<rect x="1955.1" y="1644.7" width="15.6" height="15.6" fill="url(#ptt)"/>
<rect x="1752.9" y="1670.3" width="28.5" height="27.8" fill="#fde725"/>
<rect x="1781.4" y="1670.3" width="16.7" height="27.8" fill="url(#ptt)"/>
<rect x="1798.1" y="1670.3" width="18.9" height="27.8" fill="#fde725"/>
<rect x="1817.0" y="1670.3" width="7.8" height="27.8" fill="url(#ptg)"/>
<rect x="1824.8" y="1670.3" width="24.5" height="27.8" fill="url(#ptL)"/>
<rect x="1849.3" y="1670.3" width="51.2" height="27.8" fill="url(#ptt)"/>
<rect x="1900.5" y="1670.3" width="20.7" height="27.8" fill="url(#ptL)"/>
<rect x="1752.9" y="1698.1" width="28.5" height="16.7" fill="url(#ptg)"/>
<rect x="1781.4" y="1698.1" width="16.7" height="16.7" fill="#fde725"/>
<rect x="1798.1" y="1698.1" width="123.1" height="16.7" fill="url(#ptL)"/>
<rect x="1752.9" y="1714.8" width="28.5" height="21.1" fill="#fde725"/>
<rect x="1781.4" y="1714.8" width="16.7" height="21.1" fill="url(#ptg)"/>
<rect x="1798.1" y="1714.8" width="26.7" height="21.1" fill="#fde725"/>
<rect x="1824.8" y="1714.8" width="24.5" height="21.1" fill="url(#ptG)"/>
<rect x="1849.3" y="1714.8" width="39.0" height="21.1" fill="url(#ptt)"/>
<rect x="1888.3" y="1714.8" width="28.9" height="21.1" fill="url(#ptL)"/>
<rect x="1752.9" y="1735.9" width="164.3" height="7.8" fill="url(#ptg)"/>
<rect x="1752.9" y="1743.7" width="28.5" height="17.8" fill="url(#ptG)"/>
<rect x="1781.4" y="1743.7" width="43.4" height="17.8" fill="url(#ptt)"/>
<rect x="1824.8" y="1743.7" width="18.9" height="17.8" fill="#fde725"/>
<rect x="1843.8" y="1743.7" width="12.2" height="17.8" fill="url(#ptg)"/>
<rect x="1856.0" y="1743.7" width="61.2" height="17.8" fill="url(#ptB)"/>
<rect x="1752.9" y="1761.5" width="164.3" height="16.7" fill="url(#ptB)"/>
<rect x="1843.8" y="1761.5" width="15.6" height="16.7" fill="#fde725"/>
<rect x="1752.9" y="1778.2" width="28.5" height="43.4" fill="url(#ptt)"/>
<rect x="1781.4" y="1778.2" width="16.7" height="43.4" fill="#fde725"/>
<rect x="1798.1" y="1778.2" width="26.7" height="28.9" fill="url(#ptg)"/>
<rect x="1798.1" y="1807.2" width="26.7" height="14.5" fill="url(#ptL)"/>
<rect x="1824.8" y="1778.2" width="24.5" height="43.4" fill="url(#ptt)"/>
<rect x="1849.3" y="1778.2" width="67.9" height="43.4" fill="#fde725"/>
<rect x="1752.9" y="1821.6" width="164.3" height="16.7" fill="#fde725"/>
<rect x="1824.8" y="1821.6" width="24.5" height="16.7" fill="url(#ptL)"/>
<rect x="1752.9" y="1838.3" width="168.3" height="4.5" fill="url(#ptt)"/>
<rect x="1607.4" y="1698.1" width="93.5" height="16.7" fill="url(#ptb)"/>
<rect x="1663.5" y="1698.1" width="35.6" height="16.7" fill="url(#ptB)"/>
<rect x="1607.4" y="1778.2" width="93.5" height="43.4" fill="url(#ptB)"/>
<rect x="1607.4" y="1763.8" width="93.5" height="2.2" fill="url(#ptt)"/>
<rect x="1700.9" y="1670.3" width="52.1" height="27.8" fill="url(#ptb)"/>
<rect x="1921.2" y="1698.1" width="9.3" height="16.7" fill="url(#ptg)"/>
<rect x="1921.2" y="1778.2" width="9.3" height="60.1" fill="url(#ptt)"/>
<rect x="1943.9" y="1698.1" width="11.1" height="16.7" fill="url(#ptt)"/>
<rect x="1943.9" y="1778.2" width="30.7" height="60.1" fill="url(#ptb)"/>
<rect x="1921.2" y="1842.8" width="9.3" height="11.1" fill="#fde725"/>
<rect x="1607.4" y="1842.8" width="313.9" height="4.5" fill="url(#ptb)"/>
<rect x="1943.9" y="1842.8" width="30.7" height="11.1" fill="url(#ptt)"/>
<rect x="1700.9" y="1853.9" width="52.1" height="11.1" fill="#fde725"/>
<rect x="1705.7" y="1854.4" width="31.2" height="4.5" fill="url(#ptt)"/>
<rect x="1930.6" y="1853.9" width="13.4" height="11.1" fill="#fde725"/>
<rect x="1943.9" y="1853.9" width="30.7" height="11.1" fill="url(#ptb)"/>
<rect x="1943.9" y="1865.1" width="11.1" height="13.4" fill="#fde725"/>
<rect x="1955.1" y="1865.1" width="15.6" height="13.4" fill="#fde725"/>
<rect x="1943.9" y="1878.4" width="11.1" height="16.7" fill="url(#ptL)"/>
<rect x="1955.1" y="1878.4" width="15.6" height="16.7" fill="#fde725"/>
<rect x="1700.9" y="1892.9" width="52.1" height="3.3" fill="url(#ptg)"/>
</g></svg>
<text x="1983.8" y="1511.6" font-size="16.6">Cell lineage</text>
<text x="1983.8" y="1542.9" font-size="16.6">Endoderm</text>
<text x="1983.8" y="1647.7" font-size="16.6">Epithelial</text>
<text x="1983.8" y="1666.1" font-size="16.6">Germ</text>
<text x="1983.8" y="1763.1" font-size="16.6">Mesenchyme</text>
<text x="1983.8" y="1849.1" font-size="16.6">Muscle</text>
<text x="1983.8" y="1877.5" font-size="16.6">Neuron</text>
<text x="1983.8" y="1902.6" font-size="16.6">Pharyn</text>
<text x="1591.3" y="1915.7" font-size="16.6">Cell lineage</text>
<text x="1584.4" y="1870.4" font-size="16.3" textLength="334.6" lengthAdjust="spacingAndGlyphs" transform="rotate(-90 1584.4 1870.4)">NvWA-predicted cell type-specific transcription</text>
<text x="243.4" y="1964.1" font-size="26" text-anchor="middle" font-style="italic">Drosophila</text>
<text x="61.0" y="1986.0" font-size="16.3">Observed cell type-specific transcription</text>
<rect x="58.6" y="1994.7" width="34.9" height="13.8" fill="#E7298A"/>
<rect x="93.2" y="1994.7" width="191.1" height="13.8" fill="#FB8072"/>
<rect x="284.0" y="1994.7" width="13.2" height="13.8" fill="#CCEBC5"/>
<rect x="296.9" y="1994.7" width="47.5" height="13.8" fill="#1B9E77"/>
<rect x="344.1" y="1994.7" width="9.9" height="13.8" fill="#BEBADA"/>
<rect x="353.7" y="1994.7" width="8.7" height="13.8" fill="#377EB8"/>
<rect x="362.1" y="1994.7" width="13.2" height="13.8" fill="#66A61E"/>
<rect x="375.0" y="1994.7" width="53.5" height="13.8" fill="#D95F02"/>
<rect x="428.2" y="1994.7" width="3.9" height="13.8" fill="#A6761D"/>
<rect x="44.2" y="2011.6" width="13.8" height="35.5" fill="#E7298A"/>
<rect x="44.2" y="2046.7" width="13.8" height="193.2" fill="#FB8072"/>
<rect x="44.2" y="2239.6" width="13.8" height="13.2" fill="#CCEBC5"/>
<rect x="44.2" y="2252.6" width="13.8" height="49.0" fill="#1B9E77"/>
<rect x="44.2" y="2301.2" width="13.8" height="10.2" fill="#BEBADA"/>
<rect x="44.2" y="2311.2" width="13.8" height="8.4" fill="#377EB8"/>
<rect x="44.2" y="2319.3" width="13.8" height="13.8" fill="#66A61E"/>
<rect x="44.2" y="2332.8" width="13.8" height="57.4" fill="#D95F02"/>
<rect x="58.6" y="2011.6" width="373.2" height="378.3" fill="#440154"/>
<svg x="58.6" y="2011.6" width="373.2" height="378.3" overflow="hidden"><g transform="translate(-58.60,-2011.57)">
<rect x="58.5" y="2011.1" width="34.9" height="35.6" fill="url(#ptL)"/>
<rect x="75.6" y="2027.8" width="17.8" height="18.9" fill="#fde725"/>
<rect x="63.4" y="2016.7" width="12.2" height="10.0" fill="#fde725"/>
<rect x="296.4" y="2011.1" width="47.4" height="35.6" fill="url(#ptt)"/>
<rect x="343.8" y="2011.1" width="10.0" height="35.6" fill="url(#ptg)"/>
<rect x="353.9" y="2011.1" width="7.8" height="35.6" fill="url(#ptb)"/>
<rect x="375.7" y="2011.1" width="56.5" height="35.6" fill="url(#ptb)"/>
<rect x="296.4" y="2025.6" width="135.8" height="3.3" fill="url(#ptt)"/>
<rect x="58.5" y="2050.1" width="34.9" height="31.2" fill="url(#ptt)"/>
<rect x="95.6" y="2050.1" width="32.3" height="31.2" fill="#fde725"/>
<rect x="127.9" y="2050.1" width="22.3" height="31.2" fill="url(#ptb)"/>
<rect x="150.2" y="2050.1" width="8.9" height="31.2" fill="#fde725"/>
<rect x="159.1" y="2050.1" width="36.7" height="31.2" fill="url(#ptG)"/>
<rect x="199.2" y="2050.1" width="49.0" height="31.2" fill="#fde725"/>
<rect x="248.1" y="2050.1" width="17.8" height="31.2" fill="url(#ptL)"/>
<rect x="265.9" y="2050.1" width="18.9" height="31.2" fill="url(#ptg)"/>
<rect x="284.9" y="2050.1" width="59.0" height="31.2" fill="url(#ptt)"/>
<rect x="343.8" y="2050.1" width="10.0" height="31.2" fill="url(#ptb)"/>
<rect x="353.9" y="2050.1" width="21.8" height="31.2" fill="url(#ptt)"/>
<rect x="389.5" y="2050.1" width="15.6" height="31.2" fill="url(#ptg)"/>
<rect x="405.1" y="2050.1" width="22.3" height="31.2" fill="url(#ptb)"/>
<rect x="427.3" y="2050.1" width="4.9" height="31.2" fill="url(#ptG)"/>
<rect x="127.9" y="2081.3" width="22.3" height="22.3" fill="#fde725"/>
<rect x="361.6" y="2081.3" width="12.2" height="22.3" fill="#fde725"/>
<rect x="375.7" y="2093.5" width="56.5" height="10.0" fill="url(#ptt)"/>
<rect x="284.9" y="2081.3" width="11.6" height="22.3" fill="url(#ptb)"/>
<rect x="95.6" y="2103.5" width="32.3" height="8.9" fill="url(#ptL)"/>
<rect x="95.6" y="2112.4" width="32.3" height="6.7" fill="url(#ptt)"/>
<rect x="150.2" y="2103.5" width="14.5" height="15.6" fill="#fde725"/>
<rect x="164.7" y="2103.5" width="31.2" height="8.9" fill="url(#ptg)"/>
<rect x="199.2" y="2103.5" width="49.0" height="8.9" fill="url(#ptG)"/>
<rect x="199.2" y="2112.4" width="49.0" height="6.7" fill="url(#ptt)"/>
<rect x="248.1" y="2103.5" width="17.8" height="15.6" fill="#fde725"/>
<rect x="265.9" y="2103.5" width="18.9" height="15.6" fill="url(#ptt)"/>
<rect x="58.5" y="2103.5" width="34.9" height="15.6" fill="url(#ptt)"/>
<rect x="284.9" y="2103.5" width="147.4" height="15.6" fill="url(#ptb)"/>
<rect x="58.5" y="2119.1" width="34.9" height="26.7" fill="url(#ptg)"/>
<rect x="95.6" y="2119.1" width="32.3" height="26.7" fill="url(#ptG)"/>
<rect x="127.9" y="2119.1" width="12.2" height="26.7" fill="url(#ptG)"/>
<rect x="140.2" y="2119.1" width="10.0" height="26.7" fill="url(#ptt)"/>
<rect x="150.2" y="2119.1" width="14.5" height="26.7" fill="url(#ptg)"/>
<rect x="164.7" y="2119.1" width="28.9" height="26.7" fill="#fde725"/>
<rect x="199.2" y="2119.1" width="49.0" height="26.7" fill="url(#ptG)"/>
<rect x="248.1" y="2119.1" width="17.8" height="26.7" fill="url(#ptT)"/>
<rect x="265.9" y="2119.1" width="18.9" height="26.7" fill="#fde725"/>
<rect x="284.9" y="2119.1" width="11.6" height="26.7" fill="url(#ptL)"/>
<rect x="296.4" y="2119.1" width="47.4" height="26.7" fill="url(#ptt)"/>
<rect x="343.8" y="2119.1" width="10.0" height="26.7" fill="url(#ptb)"/>
<rect x="353.9" y="2119.1" width="21.8" height="26.7" fill="url(#ptG)"/>
<rect x="375.7" y="2119.1" width="13.8" height="26.7" fill="url(#ptb)"/>
<rect x="389.5" y="2119.1" width="15.6" height="26.7" fill="url(#ptG)"/>
<rect x="405.1" y="2119.1" width="22.3" height="26.7" fill="url(#ptb)"/>
<rect x="427.3" y="2119.1" width="4.9" height="26.7" fill="#fde725"/>
<rect x="58.5" y="2153.6" width="34.9" height="67.9" fill="url(#ptt)"/>
<rect x="95.6" y="2153.6" width="32.3" height="50.1" fill="#fde725"/>
<rect x="127.9" y="2153.6" width="22.3" height="67.9" fill="url(#ptb)"/>
<rect x="150.2" y="2153.6" width="14.5" height="67.9" fill="url(#ptL)"/>
<rect x="164.7" y="2153.6" width="31.2" height="50.1" fill="url(#ptG)"/>
<rect x="199.2" y="2153.6" width="66.8" height="50.1" fill="#fde725"/>
<rect x="265.9" y="2153.6" width="18.9" height="27.8" fill="url(#ptG)"/>
<rect x="265.9" y="2181.4" width="18.9" height="22.3" fill="url(#ptT)"/>
<rect x="284.9" y="2153.6" width="59.0" height="67.9" fill="url(#ptb)"/>
<rect x="343.8" y="2153.6" width="10.0" height="67.9" fill="url(#ptt)"/>
<rect x="353.9" y="2153.6" width="21.8" height="67.9" fill="url(#ptb)"/>
<rect x="389.5" y="2153.6" width="15.6" height="67.9" fill="url(#ptt)"/>
<rect x="405.1" y="2153.6" width="27.2" height="67.9" fill="url(#ptb)"/>
<rect x="95.6" y="2203.7" width="32.3" height="17.8" fill="url(#ptG)"/>
<rect x="164.7" y="2203.7" width="31.2" height="17.8" fill="url(#ptt)"/>
<rect x="199.2" y="2203.7" width="66.8" height="17.8" fill="url(#ptL)"/>
<rect x="265.9" y="2203.7" width="18.9" height="17.8" fill="url(#ptt)"/>
<rect x="58.5" y="2221.5" width="34.9" height="17.8" fill="url(#ptg)"/>
<rect x="95.6" y="2221.5" width="32.3" height="17.8" fill="url(#ptt)"/>
<rect x="127.9" y="2221.5" width="10.0" height="17.8" fill="#fde725"/>
<rect x="137.9" y="2221.5" width="26.7" height="17.8" fill="url(#ptg)"/>
<rect x="164.7" y="2221.5" width="31.2" height="17.8" fill="#fde725"/>
<rect x="199.2" y="2221.5" width="66.8" height="17.8" fill="url(#ptt)"/>
<rect x="265.9" y="2221.5" width="18.9" height="17.8" fill="#fde725"/>
<rect x="284.9" y="2221.5" width="11.6" height="17.8" fill="#fde725"/>
<rect x="296.4" y="2221.5" width="47.4" height="17.8" fill="url(#ptt)"/>
<rect x="353.9" y="2221.5" width="21.8" height="17.8" fill="#fde725"/>
<rect x="389.5" y="2221.5" width="11.1" height="17.8" fill="#fde725"/>
<rect x="400.6" y="2221.5" width="26.7" height="17.8" fill="url(#ptt)"/>
<rect x="427.3" y="2221.5" width="4.9" height="17.8" fill="#fde725"/>
<rect x="284.9" y="2239.3" width="11.6" height="13.4" fill="#fde725"/>
<rect x="127.9" y="2240.4" width="22.3" height="10.0" fill="url(#ptb)"/>
<rect x="164.7" y="2240.4" width="31.2" height="10.0" fill="url(#ptb)"/>
<rect x="265.9" y="2240.4" width="18.9" height="10.0" fill="url(#ptb)"/>
<rect x="296.4" y="2240.4" width="135.8" height="11.1" fill="url(#ptb)"/>
<rect x="58.5" y="2252.7" width="34.9" height="24.5" fill="url(#ptt)"/>
<rect x="58.5" y="2279.4" width="34.9" height="20.0" fill="url(#ptg)"/>
<rect x="296.4" y="2252.7" width="22.9" height="24.5" fill="#fde725"/>
<rect x="319.4" y="2252.7" width="24.5" height="24.5" fill="url(#ptt)"/>
<rect x="296.4" y="2277.1" width="26.3" height="22.3" fill="url(#ptt)"/>
<rect x="322.7" y="2277.1" width="21.1" height="22.3" fill="#fde725"/>
<rect x="343.8" y="2252.7" width="17.8" height="46.7" fill="url(#ptg)"/>
<rect x="375.7" y="2252.7" width="56.5" height="24.5" fill="url(#ptb)"/>
<rect x="375.7" y="2277.1" width="56.5" height="22.3" fill="url(#ptt)"/>
<rect x="58.5" y="2301.6" width="34.9" height="17.8" fill="url(#ptb)"/>
<rect x="127.9" y="2310.5" width="22.3" height="4.5" fill="url(#ptL)"/>
<rect x="127.9" y="2319.4" width="22.3" height="12.2" fill="#fde725"/>
<rect x="296.4" y="2301.6" width="47.4" height="17.8" fill="url(#ptb)"/>
<rect x="343.8" y="2301.6" width="17.8" height="17.8" fill="url(#ptL)"/>
<rect x="361.6" y="2310.5" width="14.0" height="4.5" fill="#fde725"/>
<rect x="361.6" y="2319.4" width="14.0" height="12.2" fill="#fde725"/>
<rect x="343.8" y="2319.4" width="10.0" height="12.2" fill="url(#ptg)"/>
<rect x="265.9" y="2319.4" width="30.5" height="12.2" fill="url(#ptt)"/>
<rect x="375.7" y="2332.8" width="52.8" height="56.8" fill="#fde725"/>
<rect x="389.5" y="2332.8" width="15.6" height="13.4" fill="url(#ptg)"/>
<rect x="375.7" y="2359.5" width="52.8" height="8.9" fill="url(#ptL)"/>
<rect x="58.5" y="2332.8" width="34.9" height="14.5" fill="url(#ptb)"/>
<rect x="58.5" y="2347.3" width="34.9" height="13.4" fill="url(#ptL)"/>
<rect x="93.4" y="2347.3" width="172.5" height="13.4" fill="url(#ptt)"/>
<rect x="265.9" y="2347.3" width="30.5" height="13.4" fill="url(#ptG)"/>
<rect x="296.4" y="2347.3" width="47.4" height="13.4" fill="url(#ptL)"/>
<rect x="343.8" y="2347.3" width="31.8" height="13.4" fill="url(#ptg)"/>
<rect x="137.9" y="2332.8" width="12.2" height="56.8" fill="url(#ptG)"/>
<rect x="58.5" y="2360.6" width="34.9" height="28.9" fill="url(#ptb)"/>
<rect x="296.4" y="2360.6" width="79.2" height="28.9" fill="url(#ptb)"/>
<rect x="428.4" y="2332.8" width="3.8" height="56.8" fill="url(#ptt)"/>
</g></svg>
<text x="440.2" y="2010.1" font-size="16.6">Cell lineage</text>
<text x="440.2" y="2035.6" font-size="16.6">Epithelial</text>
<text x="440.2" y="2057.2" font-size="16.6">FatBody</text>
<text x="440.2" y="2158.5" font-size="16.6">Follicle</text>
<text x="440.2" y="2252.0" font-size="16.6">Germ</text>
<text x="440.2" y="2275.1" font-size="16.6">Gut</text>
<text x="440.2" y="2295.5" font-size="16.6">Hemocytes</text>
<text x="440.2" y="2312.7" font-size="16.6">MAG</text>
<text x="440.2" y="2327.7" font-size="16.6">MT</text>
<text x="440.2" y="2344.8" font-size="16.6">Muscle</text>
<text x="440.2" y="2365.3" font-size="16.6">Neuron</text>
<text x="440.2" y="2397.4" font-size="16.6">Proliferating</text>
<text x="41.5" y="2408.8" font-size="16.6">Cell lineage</text>
<text x="34.0" y="2365.3" font-size="16.3" textLength="333.6" lengthAdjust="spacingAndGlyphs" transform="rotate(-90 34.0 2365.3)">NvWA-predicted cell type-specific transcription</text>
<line x1="432.7" y1="2317.2" x2="438.7" y2="2322.3" stroke="#000" stroke-width="1.6"/>
<line x1="432.7" y1="2329.2" x2="438.7" y2="2335.2" stroke="#000" stroke-width="1.6"/>
<text x="762.8" y="1964.1" font-size="26" text-anchor="middle">Earthworm</text>
<text x="568.1" y="1986.0" font-size="16.3">Observed cell type-specific transcription</text>
<rect x="567.2" y="1994.1" width="124.4" height="13.8" fill="#BC80BD"/>
<rect x="691.3" y="1994.1" width="43.0" height="13.8" fill="#FB8072"/>
<rect x="734.0" y="1994.1" width="20.1" height="13.8" fill="#E7298A"/>
<rect x="753.8" y="1994.1" width="60.4" height="13.8" fill="#CCEBC5"/>
<rect x="813.9" y="1994.1" width="96.5" height="13.8" fill="#66A61E"/>
<rect x="910.0" y="1994.1" width="21.3" height="13.8" fill="#D95F02"/>
<rect x="553.1" y="2009.2" width="13.5" height="130.1" fill="#BC80BD"/>
<rect x="553.1" y="2139.0" width="13.5" height="44.8" fill="#FB8072"/>
<rect x="553.1" y="2183.5" width="13.5" height="20.7" fill="#E7298A"/>
<rect x="553.1" y="2203.9" width="13.5" height="64.0" fill="#CCEBC5"/>
<rect x="553.1" y="2267.6" width="13.5" height="100.1" fill="#66A61E"/>
<rect x="553.1" y="2367.4" width="13.5" height="22.8" fill="#D95F02"/>
<rect x="567.2" y="2009.2" width="363.9" height="380.7" fill="#440154"/>
<svg x="567.2" y="2009.2" width="363.9" height="380.7" overflow="hidden"><g transform="translate(-567.18,-2009.16)">
<rect x="567.4" y="2009.6" width="85.0" height="87.3" fill="#fde725"/>
<rect x="652.4" y="2009.6" width="25.6" height="87.3" fill="url(#ptL)"/>
<rect x="678.0" y="2009.6" width="12.7" height="101.7" fill="url(#ptg)"/>
<rect x="567.4" y="2096.8" width="98.4" height="14.5" fill="url(#ptL)"/>
<rect x="567.4" y="2111.3" width="98.4" height="13.4" fill="url(#ptg)"/>
<rect x="665.7" y="2111.3" width="12.2" height="13.4" fill="#fde725"/>
<rect x="678.0" y="2111.3" width="12.7" height="13.4" fill="url(#ptg)"/>
<rect x="690.7" y="2009.6" width="43.0" height="87.3" fill="url(#ptb)"/>
<rect x="690.7" y="2096.8" width="43.0" height="14.5" fill="url(#ptt)"/>
<rect x="690.7" y="2111.3" width="43.0" height="13.4" fill="url(#ptb)"/>
<rect x="733.6" y="2009.6" width="17.8" height="115.1" fill="url(#ptt)"/>
<rect x="751.4" y="2009.6" width="6.7" height="115.1" fill="url(#ptL)"/>
<rect x="758.1" y="2009.6" width="55.6" height="87.3" fill="url(#ptB)"/>
<rect x="758.1" y="2096.8" width="55.6" height="14.5" fill="url(#ptt)"/>
<rect x="758.1" y="2111.3" width="55.6" height="13.4" fill="url(#ptb)"/>
<rect x="909.5" y="2009.6" width="21.6" height="101.7" fill="url(#ptt)"/>
<rect x="813.8" y="2112.4" width="10.0" height="7.8" fill="url(#ptL)"/>
<rect x="823.8" y="2113.5" width="85.7" height="6.7" fill="url(#ptg)"/>
<rect x="909.5" y="2111.3" width="21.6" height="13.4" fill="url(#ptg)"/>
<rect x="567.4" y="2124.7" width="110.6" height="14.0" fill="url(#ptt)"/>
<rect x="678.0" y="2124.7" width="12.7" height="14.0" fill="#fde725"/>
<rect x="733.6" y="2124.7" width="17.8" height="14.0" fill="url(#ptg)"/>
<rect x="751.4" y="2124.7" width="62.3" height="14.0" fill="url(#ptb)"/>
<rect x="813.8" y="2124.7" width="10.0" height="14.0" fill="url(#ptg)"/>
<rect x="823.8" y="2124.7" width="13.4" height="14.0" fill="url(#ptL)"/>
<rect x="837.1" y="2124.7" width="42.3" height="14.0" fill="url(#ptt)"/>
<rect x="879.4" y="2124.7" width="51.6" height="14.0" fill="url(#ptg)"/>
<rect x="690.7" y="2138.7" width="43.0" height="45.0" fill="#fde725"/>
<rect x="733.6" y="2183.7" width="17.8" height="20.5" fill="url(#ptL)"/>
<rect x="678.0" y="2185.9" width="12.7" height="15.6" fill="url(#ptg)"/>
<rect x="751.4" y="2183.7" width="62.3" height="20.5" fill="url(#ptb)"/>
<rect x="813.8" y="2183.7" width="117.3" height="6.7" fill="url(#ptb)"/>
<rect x="813.8" y="2190.3" width="117.3" height="10.0" fill="url(#ptg)"/>
<rect x="909.5" y="2197.0" width="21.6" height="5.6" fill="url(#ptL)"/>
<rect x="567.4" y="2204.1" width="110.6" height="6.2" fill="url(#ptt)"/>
<rect x="678.0" y="2204.1" width="55.6" height="63.0" fill="url(#ptb)"/>
<rect x="733.6" y="2204.1" width="20.0" height="63.0" fill="url(#ptg)"/>
<rect x="753.7" y="2204.1" width="60.1" height="63.0" fill="#fde725"/>
<rect x="813.8" y="2204.1" width="117.3" height="63.0" fill="url(#ptb)"/>
<rect x="651.3" y="2210.4" width="26.7" height="56.8" fill="url(#ptb)"/>
<rect x="813.8" y="2267.1" width="10.0" height="10.0" fill="#fde725"/>
<rect x="823.8" y="2267.1" width="55.6" height="10.0" fill="url(#ptL)"/>
<rect x="879.4" y="2267.1" width="30.1" height="10.0" fill="url(#ptt)"/>
<rect x="813.8" y="2277.1" width="95.7" height="8.9" fill="url(#ptL)"/>
<rect x="832.7" y="2282.7" width="64.6" height="4.5" fill="#440154"/>
<rect x="813.8" y="2286.0" width="18.9" height="51.2" fill="url(#ptL)"/>
<rect x="832.7" y="2287.2" width="49.0" height="50.1" fill="#fde725"/>
<rect x="881.7" y="2287.2" width="15.6" height="50.1" fill="url(#ptL)"/>
<rect x="897.2" y="2277.1" width="12.2" height="60.1" fill="url(#ptt)"/>
<rect x="909.5" y="2277.1" width="21.6" height="60.1" fill="url(#ptb)"/>
<rect x="813.8" y="2337.2" width="65.7" height="16.7" fill="url(#ptL)"/>
<rect x="879.4" y="2337.2" width="16.7" height="16.7" fill="#fde725"/>
<rect x="896.1" y="2337.2" width="13.4" height="16.7" fill="url(#ptb)"/>
<rect x="813.8" y="2353.9" width="82.4" height="13.8" fill="url(#ptb)"/>
<rect x="896.1" y="2353.9" width="13.4" height="13.8" fill="#fde725"/>
<rect x="678.0" y="2277.1" width="12.7" height="66.8" fill="url(#ptg)"/>
<rect x="733.6" y="2277.1" width="17.8" height="66.8" fill="url(#ptg)"/>
<rect x="665.7" y="2286.0" width="12.2" height="44.5" fill="url(#ptb)"/>
<rect x="909.5" y="2367.7" width="21.6" height="21.8" fill="#fde725"/>
<rect x="813.8" y="2367.7" width="95.7" height="21.8" fill="url(#ptb)"/>
<rect x="678.0" y="2368.4" width="12.7" height="21.1" fill="url(#ptg)"/>
<rect x="733.6" y="2368.4" width="17.8" height="21.1" fill="url(#ptg)"/>
</g></svg>
<text x="940.7" y="2006.2" font-size="16.6">Cell lineage</text>
<text x="940.7" y="2069.3" font-size="16.6">Coelomocytes</text>
<text x="940.7" y="2167.8" font-size="16.6">DigestiveGland</text>
<text x="940.7" y="2201.5" font-size="16.6">Epithelial</text>
<text x="940.7" y="2221.0" font-size="16.6">Erythrocruorin</text>
<text x="940.7" y="2245.1" font-size="16.6">Germ</text>
<text x="940.7" y="2325.6" font-size="16.6">Muscle</text>
<text x="940.7" y="2383.3" font-size="16.6">Neuron</text>
<text x="554.0" y="2408.8" font-size="16.6">Cell lineage</text>
<text x="546.4" y="2357.7" font-size="16.3" textLength="332.1" lengthAdjust="spacingAndGlyphs" transform="rotate(-90 546.4 2357.7)">NvWA-predicted cell type-specific transcription</text>
<line x1="931.1" y1="2203.0" x2="938.6" y2="2212.9" stroke="#000" stroke-width="1.6"/>
<text x="1278.1" y="1964.1" font-size="26" text-anchor="middle" font-style="italic">C. elegans</text>
<text x="1101.0" y="1986.0" font-size="16.3">Observed cell type-specific transcription</text>
<rect x="1098.6" y="1996.5" width="16.8" height="13.5" fill="#BC80BD"/>
<rect x="1115.1" y="1996.5" width="64.9" height="13.5" fill="#CCEBC5"/>
<rect x="1179.7" y="1996.5" width="6.9" height="13.5" fill="#A6CEE3"/>
<rect x="1186.3" y="1996.5" width="135.8" height="13.5" fill="#66A61E"/>
<rect x="1321.9" y="1996.5" width="54.1" height="13.5" fill="#D95F02"/>
<rect x="1375.7" y="1996.5" width="15.6" height="13.5" fill="#BEBADA"/>
<rect x="1391.0" y="1996.5" width="18.3" height="13.5" fill="#B15928"/>
<rect x="1409.0" y="1996.5" width="15.3" height="13.5" fill="#A6761D"/>
<rect x="1424.6" y="1996.5" width="44.8" height="13.5" fill="#6A3D9A"/>
<rect x="1084.5" y="2012.8" width="13.5" height="17.1" fill="#BC80BD"/>
<rect x="1084.5" y="2029.6" width="13.5" height="67.0" fill="#CCEBC5"/>
<rect x="1084.5" y="2096.3" width="13.5" height="5.7" fill="#A6CEE3"/>
<rect x="1084.5" y="2101.7" width="13.5" height="139.1" fill="#66A61E"/>
<rect x="1084.5" y="2240.5" width="13.5" height="55.3" fill="#D95F02"/>
<rect x="1084.5" y="2295.5" width="13.5" height="15.9" fill="#BEBADA"/>
<rect x="1084.5" y="2311.2" width="13.5" height="17.7" fill="#B15928"/>
<rect x="1084.5" y="2328.6" width="13.5" height="15.3" fill="#A6761D"/>
<rect x="1084.5" y="2344.8" width="13.5" height="45.4" fill="#6A3D9A"/>
<rect x="1098.6" y="2012.8" width="370.5" height="377.1" fill="#440154"/>
<svg x="1098.6" y="2012.8" width="370.5" height="377.1" overflow="hidden"><g transform="translate(-1098.60,-2012.77)">
<rect x="1098.9" y="2012.9" width="16.2" height="16.7" fill="#fde725"/>
<rect x="1179.7" y="2012.9" width="6.7" height="16.7" fill="url(#ptT)"/>
<rect x="1186.4" y="2012.9" width="135.8" height="16.7" fill="url(#ptb)"/>
<rect x="1322.2" y="2012.9" width="2.7" height="16.7" fill="url(#ptG)"/>
<rect x="1324.9" y="2012.9" width="51.2" height="16.7" fill="url(#ptt)"/>
<rect x="1376.0" y="2012.9" width="32.3" height="16.7" fill="url(#ptt)"/>
<rect x="1408.3" y="2012.9" width="5.6" height="16.7" fill="url(#ptG)"/>
<rect x="1413.9" y="2012.9" width="11.6" height="16.7" fill="url(#ptb)"/>
<rect x="1115.2" y="2029.6" width="64.6" height="66.1" fill="#fde725"/>
<rect x="1179.7" y="2095.7" width="6.7" height="6.7" fill="#fde725"/>
<rect x="1186.4" y="2102.4" width="135.8" height="135.8" fill="#fde725"/>
<rect x="1098.9" y="2102.4" width="16.2" height="136.9" fill="url(#ptg)"/>
<rect x="1179.7" y="2102.4" width="6.7" height="137.3" fill="url(#ptb)"/>
<rect x="1322.2" y="2102.4" width="53.9" height="136.9" fill="url(#ptB)"/>
<rect x="1376.0" y="2102.4" width="15.1" height="136.9" fill="url(#ptb)"/>
<rect x="1391.2" y="2102.4" width="17.1" height="136.9" fill="url(#ptt)"/>
<rect x="1408.3" y="2102.4" width="5.6" height="136.9" fill="url(#ptg)"/>
<rect x="1413.9" y="2102.4" width="55.6" height="136.9" fill="url(#ptb)"/>
<rect x="1186.4" y="2234.9" width="135.8" height="4.9" fill="url(#ptT)"/>
<rect x="1322.2" y="2238.2" width="102.8" height="4.5" fill="url(#ptt)"/>
<rect x="1322.2" y="2239.7" width="53.9" height="54.8" fill="#fde725"/>
<rect x="1322.2" y="2256.0" width="53.9" height="12.2" fill="#440154"/>
<rect x="1324.9" y="2257.1" width="11.1" height="10.0" fill="url(#ptg)"/>
<rect x="1344.9" y="2257.1" width="15.6" height="10.0" fill="url(#ptg)"/>
<rect x="1369.4" y="2257.1" width="6.7" height="10.0" fill="url(#ptg)"/>
<rect x="1391.2" y="2239.7" width="17.1" height="16.2" fill="url(#ptg)"/>
<rect x="1391.2" y="2270.5" width="17.1" height="18.9" fill="url(#ptg)"/>
<rect x="1376.0" y="2294.5" width="15.1" height="16.0" fill="#fde725"/>
<rect x="1417.2" y="2294.5" width="52.3" height="16.0" fill="url(#ptg)"/>
<rect x="1422.8" y="2294.5" width="2.7" height="16.0" fill="#fde725"/>
<rect x="1391.2" y="2310.5" width="17.1" height="16.7" fill="#fde725"/>
<rect x="1322.2" y="2310.5" width="53.9" height="16.7" fill="url(#ptg)"/>
<rect x="1376.0" y="2310.5" width="15.1" height="16.7" fill="url(#ptt)"/>
<rect x="1408.3" y="2312.8" width="61.2" height="13.4" fill="url(#ptb)"/>
<rect x="1408.3" y="2327.2" width="15.6" height="16.7" fill="#fde725"/>
<rect x="1098.9" y="2327.9" width="16.2" height="4.9" fill="url(#ptL)"/>
<rect x="1115.2" y="2328.3" width="64.6" height="8.9" fill="url(#ptt)"/>
<rect x="1179.7" y="2327.2" width="6.7" height="16.7" fill="url(#ptg)"/>
<rect x="1186.4" y="2328.8" width="135.8" height="3.6" fill="url(#ptt)"/>
<rect x="1322.2" y="2327.2" width="2.7" height="6.7" fill="url(#ptG)"/>
<rect x="1423.9" y="2327.9" width="45.6" height="9.3" fill="url(#ptg)"/>
<rect x="1376.0" y="2338.4" width="93.5" height="5.6" fill="url(#ptL)"/>
<rect x="1098.9" y="2320.6" width="16.2" height="3.3" fill="url(#ptB)"/>
<rect x="1425.5" y="2343.9" width="44.1" height="45.6" fill="#fde725"/>
<rect x="1376.0" y="2337.2" width="15.1" height="52.3" fill="url(#ptL)"/>
<rect x="1391.2" y="2337.2" width="22.7" height="52.3" fill="url(#ptb)"/>
<rect x="1411.7" y="2337.2" width="4.5" height="52.3" fill="url(#ptT)"/>
<rect x="1413.9" y="2343.9" width="11.6" height="45.6" fill="url(#ptT)"/>
<rect x="1179.7" y="2346.1" width="6.7" height="40.1" fill="url(#ptb)"/>
</g></svg>
<text x="1474.2" y="2010.1" font-size="16.6">Cell lineage</text>
<text x="1474.2" y="2028.1" font-size="16.6">Coelomocyte</text>
<text x="1474.2" y="2065.7" font-size="16.6">Germ</text>
<text x="1474.2" y="2105.3" font-size="16.6">Intestine</text>
<text x="1474.2" y="2175.9" font-size="16.6">Muscle</text>
<text x="1474.2" y="2273.0" font-size="16.6">Neuron</text>
<text x="1474.2" y="2295.2" font-size="16.6">Non-seam</text>
<text x="1474.2" y="2310.3" font-size="16.6">Pharyn</text>
<text x="1474.2" y="2330.1" font-size="16.6">Precursors</text>
<text x="1474.2" y="2349.3" font-size="16.6">Rectum</text>
<text x="1474.2" y="2374.3" font-size="16.6">Seam</text>
<text x="1086.6" y="2408.8" font-size="16.6">Cell lineage</text>
<text x="1078.5" y="2365.3" font-size="16.3" textLength="333.6" lengthAdjust="spacingAndGlyphs" transform="rotate(-90 1078.5 2365.3)">NvWA-predicted cell type-specific transcription</text>
<text x="1778.9" y="1963.8" font-size="26" text-anchor="middle">Planarian</text>
<text x="1607.5" y="1986.0" font-size="16.3">Observed cell type-specific transcription</text>
<rect x="1602.2" y="1994.4" width="51.9" height="14.4" fill="#FFFFB3"/>
<rect x="1653.8" y="1994.4" width="81.0" height="14.4" fill="#E7298A"/>
<rect x="1734.5" y="1994.4" width="22.8" height="14.4" fill="#A6CEE3"/>
<rect x="1757.0" y="1994.4" width="37.8" height="14.4" fill="#66A61E"/>
<rect x="1794.6" y="1994.4" width="61.9" height="14.4" fill="#A6761D"/>
<rect x="1856.2" y="1994.4" width="88.2" height="14.4" fill="#D95F02"/>
<rect x="1944.1" y="1994.4" width="23.8" height="14.4" fill="#B15928"/>
<rect x="1967.5" y="1994.4" width="7.2" height="14.4" fill="#B3DE69"/>
<rect x="1587.5" y="2010.7" width="13.8" height="53.5" fill="#FFFFB3"/>
<rect x="1587.5" y="2063.9" width="13.8" height="82.6" fill="#E7298A"/>
<rect x="1587.5" y="2146.1" width="13.8" height="23.8" fill="#A6CEE3"/>
<rect x="1587.5" y="2169.6" width="13.8" height="37.8" fill="#66A61E"/>
<rect x="1587.5" y="2207.1" width="13.8" height="62.8" fill="#A6761D"/>
<rect x="1587.5" y="2269.7" width="13.8" height="90.1" fill="#D95F02"/>
<rect x="1587.5" y="2359.4" width="13.8" height="24.7" fill="#B15928"/>
<rect x="1587.5" y="2383.8" width="13.8" height="5.9" fill="#B3DE69"/>
<rect x="1602.2" y="2010.7" width="372.2" height="378.7" fill="#440154"/>
<svg x="1602.2" y="2010.7" width="372.2" height="378.7" overflow="hidden"><g transform="translate(-1602.22,-2010.70)">
<rect x="1602.4" y="2011.6" width="26.0" height="24.9" fill="url(#ptg)"/>
<rect x="1603.9" y="2013.1" width="8.9" height="7.8" fill="#fde725"/>
<rect x="1612.8" y="2020.9" width="7.8" height="8.9" fill="#fde725"/>
<rect x="1618.4" y="2029.8" width="8.9" height="5.6" fill="url(#ptL)"/>
<rect x="1628.4" y="2016.5" width="25.2" height="11.1" fill="url(#ptb)"/>
<rect x="1756.4" y="2020.9" width="24.5" height="6.7" fill="url(#ptb)"/>
<rect x="1794.2" y="2020.9" width="46.3" height="6.7" fill="url(#ptb)"/>
<rect x="1959.0" y="2014.3" width="7.8" height="22.3" fill="url(#ptb)"/>
<rect x="1602.4" y="2038.7" width="16.0" height="24.9" fill="url(#ptL)"/>
<rect x="1618.4" y="2038.7" width="35.2" height="24.9" fill="#fde725"/>
<rect x="1653.6" y="2038.7" width="9.8" height="24.9" fill="url(#ptt)"/>
<rect x="1663.4" y="2038.7" width="34.1" height="24.9" fill="url(#ptT)"/>
<rect x="1701.9" y="2038.7" width="32.7" height="24.9" fill="url(#ptG)"/>
<rect x="1734.6" y="2038.7" width="22.9" height="24.9" fill="url(#ptL)"/>
<rect x="1757.5" y="2038.7" width="8.9" height="24.9" fill="url(#ptt)"/>
<rect x="1766.4" y="2038.7" width="8.9" height="24.9" fill="url(#ptG)"/>
<rect x="1775.3" y="2038.7" width="5.6" height="24.9" fill="url(#ptb)"/>
<rect x="1780.9" y="2038.7" width="13.4" height="24.9" fill="url(#ptG)"/>
<rect x="1794.2" y="2038.7" width="46.3" height="24.9" fill="url(#ptg)"/>
<rect x="1840.5" y="2038.7" width="15.6" height="24.9" fill="url(#ptG)"/>
<rect x="1856.1" y="2038.7" width="33.4" height="24.9" fill="url(#ptg)"/>
<rect x="1889.5" y="2038.7" width="54.3" height="24.9" fill="url(#ptb)"/>
<rect x="1943.8" y="2038.7" width="15.1" height="24.9" fill="url(#ptG)"/>
<rect x="1959.0" y="2038.7" width="7.8" height="24.9" fill="url(#ptb)"/>
<rect x="1966.7" y="2038.7" width="7.3" height="24.9" fill="url(#ptG)"/>
<rect x="1602.4" y="2064.3" width="51.2" height="10.0" fill="url(#ptb)"/>
<rect x="1653.6" y="2064.3" width="9.8" height="10.0" fill="#fde725"/>
<rect x="1663.4" y="2064.3" width="34.1" height="10.0" fill="url(#ptt)"/>
<rect x="1697.4" y="2064.3" width="4.5" height="10.0" fill="#fde725"/>
<rect x="1959.0" y="2064.3" width="7.8" height="10.0" fill="url(#ptL)"/>
<rect x="1602.4" y="2074.4" width="26.0" height="33.4" fill="url(#ptG)"/>
<rect x="1628.4" y="2074.4" width="25.2" height="33.4" fill="url(#ptt)"/>
<rect x="1653.6" y="2074.4" width="43.9" height="33.4" fill="#fde725"/>
<rect x="1701.9" y="2074.4" width="32.7" height="33.4" fill="url(#ptG)"/>
<rect x="1734.6" y="2074.4" width="22.9" height="33.4" fill="url(#ptG)"/>
<rect x="1757.5" y="2074.4" width="36.7" height="33.4" fill="url(#ptt)"/>
<rect x="1794.2" y="2074.4" width="46.3" height="33.4" fill="url(#ptT)"/>
<rect x="1840.5" y="2074.4" width="49.0" height="33.4" fill="url(#ptb)"/>
<rect x="1889.5" y="2074.4" width="54.3" height="33.4" fill="url(#ptt)"/>
<rect x="1943.8" y="2074.4" width="15.1" height="33.4" fill="url(#ptG)"/>
<rect x="1959.0" y="2074.4" width="7.8" height="33.4" fill="url(#ptL)"/>
<rect x="1966.7" y="2074.4" width="7.3" height="33.4" fill="url(#ptG)"/>
<rect x="1602.4" y="2113.3" width="16.0" height="32.3" fill="url(#ptt)"/>
<rect x="1618.4" y="2113.3" width="10.0" height="32.3" fill="url(#ptg)"/>
<rect x="1628.4" y="2113.3" width="25.2" height="32.3" fill="url(#ptG)"/>
<rect x="1653.6" y="2113.3" width="9.8" height="32.3" fill="url(#ptt)"/>
<rect x="1663.4" y="2113.3" width="34.1" height="32.3" fill="url(#ptL)"/>
<rect x="1701.9" y="2113.3" width="32.7" height="32.3" fill="#fde725"/>
<rect x="1734.6" y="2113.3" width="22.9" height="32.3" fill="url(#ptG)"/>
<rect x="1757.5" y="2113.3" width="8.9" height="32.3" fill="url(#ptb)"/>
<rect x="1766.4" y="2113.3" width="8.9" height="32.3" fill="url(#ptG)"/>
<rect x="1780.9" y="2113.3" width="13.4" height="32.3" fill="url(#ptG)"/>
<rect x="1794.2" y="2113.3" width="46.3" height="32.3" fill="url(#ptt)"/>
<rect x="1840.5" y="2113.3" width="15.6" height="32.3" fill="#fde725"/>
<rect x="1856.1" y="2113.3" width="33.4" height="32.3" fill="url(#ptG)"/>
<rect x="1889.5" y="2113.3" width="42.7" height="32.3" fill="url(#ptt)"/>
<rect x="1932.2" y="2113.3" width="11.6" height="32.3" fill="url(#ptb)"/>
<rect x="1943.8" y="2113.3" width="15.1" height="32.3" fill="url(#ptG)"/>
<rect x="1966.7" y="2113.3" width="7.3" height="32.3" fill="url(#ptG)"/>
<rect x="1734.6" y="2145.6" width="6.2" height="7.8" fill="#fde725"/>
<rect x="1734.6" y="2154.5" width="22.9" height="14.9" fill="#fde725"/>
<rect x="1602.4" y="2154.5" width="16.0" height="14.9" fill="url(#ptG)"/>
<rect x="1618.4" y="2154.5" width="35.2" height="14.9" fill="url(#ptg)"/>
<rect x="1653.6" y="2154.5" width="81.0" height="14.9" fill="url(#ptt)"/>
<rect x="1757.5" y="2154.5" width="36.7" height="14.9" fill="url(#ptb)"/>
<rect x="1794.2" y="2154.5" width="42.3" height="14.9" fill="url(#ptT)"/>
<rect x="1836.5" y="2154.5" width="4.0" height="14.9" fill="url(#ptG)"/>
<rect x="1959.0" y="2154.5" width="4.5" height="14.9" fill="url(#ptG)"/>
<rect x="1757.5" y="2170.1" width="23.4" height="23.4" fill="url(#ptL)"/>
<rect x="1775.3" y="2179.0" width="18.9" height="8.9" fill="url(#ptg)"/>
<rect x="1757.5" y="2193.4" width="36.7" height="13.4" fill="url(#ptL)"/>
<rect x="1766.4" y="2193.4" width="14.5" height="13.4" fill="#fde725"/>
<rect x="1780.9" y="2193.4" width="13.4" height="13.4" fill="#fde725"/>
<rect x="1856.1" y="2179.0" width="87.7" height="8.9" fill="url(#ptt)"/>
<rect x="1889.5" y="2170.1" width="42.7" height="8.9" fill="url(#ptg)"/>
<rect x="1932.2" y="2170.1" width="11.6" height="8.9" fill="url(#ptG)"/>
<rect x="1628.4" y="2193.4" width="25.2" height="13.4" fill="url(#ptT)"/>
<rect x="1701.9" y="2193.4" width="32.7" height="13.4" fill="url(#ptT)"/>
<rect x="1840.5" y="2193.4" width="49.0" height="13.4" fill="url(#ptG)"/>
<rect x="1889.5" y="2193.4" width="54.3" height="13.4" fill="url(#ptt)"/>
<rect x="1943.8" y="2193.4" width="15.1" height="13.4" fill="url(#ptG)"/>
<rect x="1602.4" y="2193.4" width="26.0" height="13.4" fill="url(#ptb)"/>
<rect x="1602.4" y="2206.8" width="16.0" height="47.9" fill="url(#ptG)"/>
<rect x="1618.4" y="2206.8" width="35.2" height="47.9" fill="url(#ptg)"/>
<rect x="1653.6" y="2206.8" width="43.9" height="47.9" fill="url(#ptg)"/>
<rect x="1697.4" y="2206.8" width="37.2" height="47.9" fill="url(#ptt)"/>
<rect x="1734.6" y="2206.8" width="22.9" height="47.9" fill="url(#ptG)"/>
<rect x="1757.5" y="2206.8" width="17.8" height="47.9" fill="url(#ptt)"/>
<rect x="1775.3" y="2206.8" width="5.6" height="47.9" fill="url(#ptL)"/>
<rect x="1780.9" y="2206.8" width="13.4" height="47.9" fill="url(#ptb)"/>
<rect x="1794.2" y="2206.8" width="46.3" height="47.9" fill="#fde725"/>
<rect x="1840.5" y="2206.8" width="15.6" height="47.9" fill="url(#ptt)"/>
<rect x="1856.1" y="2206.8" width="102.8" height="47.9" fill="url(#ptb)"/>
<rect x="1959.0" y="2206.8" width="4.5" height="47.9" fill="url(#ptL)"/>
<rect x="1840.5" y="2254.7" width="15.6" height="15.6" fill="#fde725"/>
<rect x="1856.1" y="2254.7" width="33.4" height="15.6" fill="url(#ptG)"/>
<rect x="1628.4" y="2254.7" width="25.2" height="15.6" fill="url(#ptG)"/>
<rect x="1701.9" y="2254.7" width="32.7" height="15.6" fill="url(#ptG)"/>
<rect x="1780.9" y="2254.7" width="13.4" height="15.6" fill="url(#ptG)"/>
<rect x="1943.8" y="2254.7" width="15.1" height="15.6" fill="url(#ptt)"/>
<rect x="1628.4" y="2270.2" width="25.2" height="33.4" fill="url(#ptg)"/>
<rect x="1701.9" y="2270.2" width="32.7" height="33.4" fill="url(#ptT)"/>
<rect x="1766.4" y="2270.2" width="8.9" height="33.4" fill="url(#ptG)"/>
<rect x="1780.9" y="2270.2" width="13.4" height="33.4" fill="url(#ptL)"/>
<rect x="1840.5" y="2270.2" width="15.6" height="33.4" fill="url(#ptG)"/>
<rect x="1856.1" y="2270.2" width="33.4" height="33.4" fill="#fde725"/>
<rect x="1889.5" y="2270.2" width="42.7" height="33.4" fill="url(#ptL)"/>
<rect x="1932.2" y="2270.2" width="11.6" height="33.4" fill="url(#ptt)"/>
<rect x="1943.8" y="2270.2" width="15.1" height="33.4" fill="url(#ptG)"/>
<rect x="1959.0" y="2270.2" width="15.1" height="33.4" fill="url(#ptb)"/>
<rect x="1856.1" y="2303.6" width="33.4" height="21.1" fill="url(#ptt)"/>
<rect x="1889.5" y="2303.6" width="20.5" height="21.1" fill="#fde725"/>
<rect x="1916.7" y="2303.6" width="27.2" height="21.1" fill="url(#ptL)"/>
<rect x="1757.5" y="2332.6" width="23.4" height="26.7" fill="url(#ptg)"/>
<rect x="1856.1" y="2332.6" width="33.4" height="15.6" fill="url(#ptg)"/>
<rect x="1889.5" y="2332.6" width="54.3" height="26.7" fill="#fde725"/>
<rect x="1889.5" y="2348.1" width="42.7" height="11.1" fill="url(#ptL)"/>
<rect x="1856.1" y="2348.1" width="33.4" height="11.1" fill="url(#ptb)"/>
<rect x="1943.8" y="2359.3" width="15.1" height="15.6" fill="#fde725"/>
<rect x="1602.4" y="2359.3" width="51.2" height="15.6" fill="url(#ptb)"/>
<rect x="1701.9" y="2359.3" width="32.7" height="15.6" fill="url(#ptb)"/>
<rect x="1794.2" y="2359.3" width="95.3" height="15.6" fill="url(#ptb)"/>
<rect x="1959.0" y="2374.9" width="7.8" height="7.8" fill="#fde725"/>
<rect x="1966.7" y="2382.7" width="7.3" height="7.8" fill="url(#ptL)"/>
</g></svg>
<text x="1976.9" y="2010.1" font-size="16.6">Cell lineage</text>
<text x="1976.9" y="2047.6" font-size="16.6">Cathepsin</text>
<text x="1976.9" y="2106.4" font-size="16.6">Epithelial</text>
<text x="1976.9" y="2161.8" font-size="16.6">Intestine</text>
<text x="1976.9" y="2193.0" font-size="16.6">Muscle</text>
<text x="1976.9" y="2239.3" font-size="16.6">Neoblast</text>
<text x="1976.9" y="2316.6" font-size="16.6">Neuron</text>
<text x="1976.9" y="2375.1" font-size="16.6">Pharynx</text>
<text x="1976.9" y="2396.9" font-size="16.6">Protonephridia</text>
<text x="1591.3" y="2409.5" font-size="16.6">Cell lineage</text>
<text x="1582.5" y="2365.0" font-size="16.3" textLength="334.6" lengthAdjust="spacingAndGlyphs" transform="rotate(-90 1582.5 2365.0)">NvWA-predicted cell type-specific transcription</text>
<defs><linearGradient id="vir" x1="0" y1="1" x2="0" y2="0"><stop offset="0" stop-color="#440154"/><stop offset="0.13" stop-color="#482878"/><stop offset="0.25" stop-color="#3e4989"/><stop offset="0.38" stop-color="#31688e"/><stop offset="0.5" stop-color="#26828e"/><stop offset="0.63" stop-color="#1f9e89"/><stop offset="0.75" stop-color="#35b779"/><stop offset="0.88" stop-color="#6ece58"/><stop offset="1" stop-color="#fde725"/></linearGradient></defs>
<rect x="2069.8" y="1946.9" width="13.1" height="203.9" fill="url(#vir)"/>
<text x="2040.1" y="1939.7" font-size="16.6">Correlation</text>
<text x="2090.7" y="1958.5" font-size="13.5">High</text>
<text x="2088.5" y="2150.2" font-size="13.5">Low</text>
</svg>
</body></html>
